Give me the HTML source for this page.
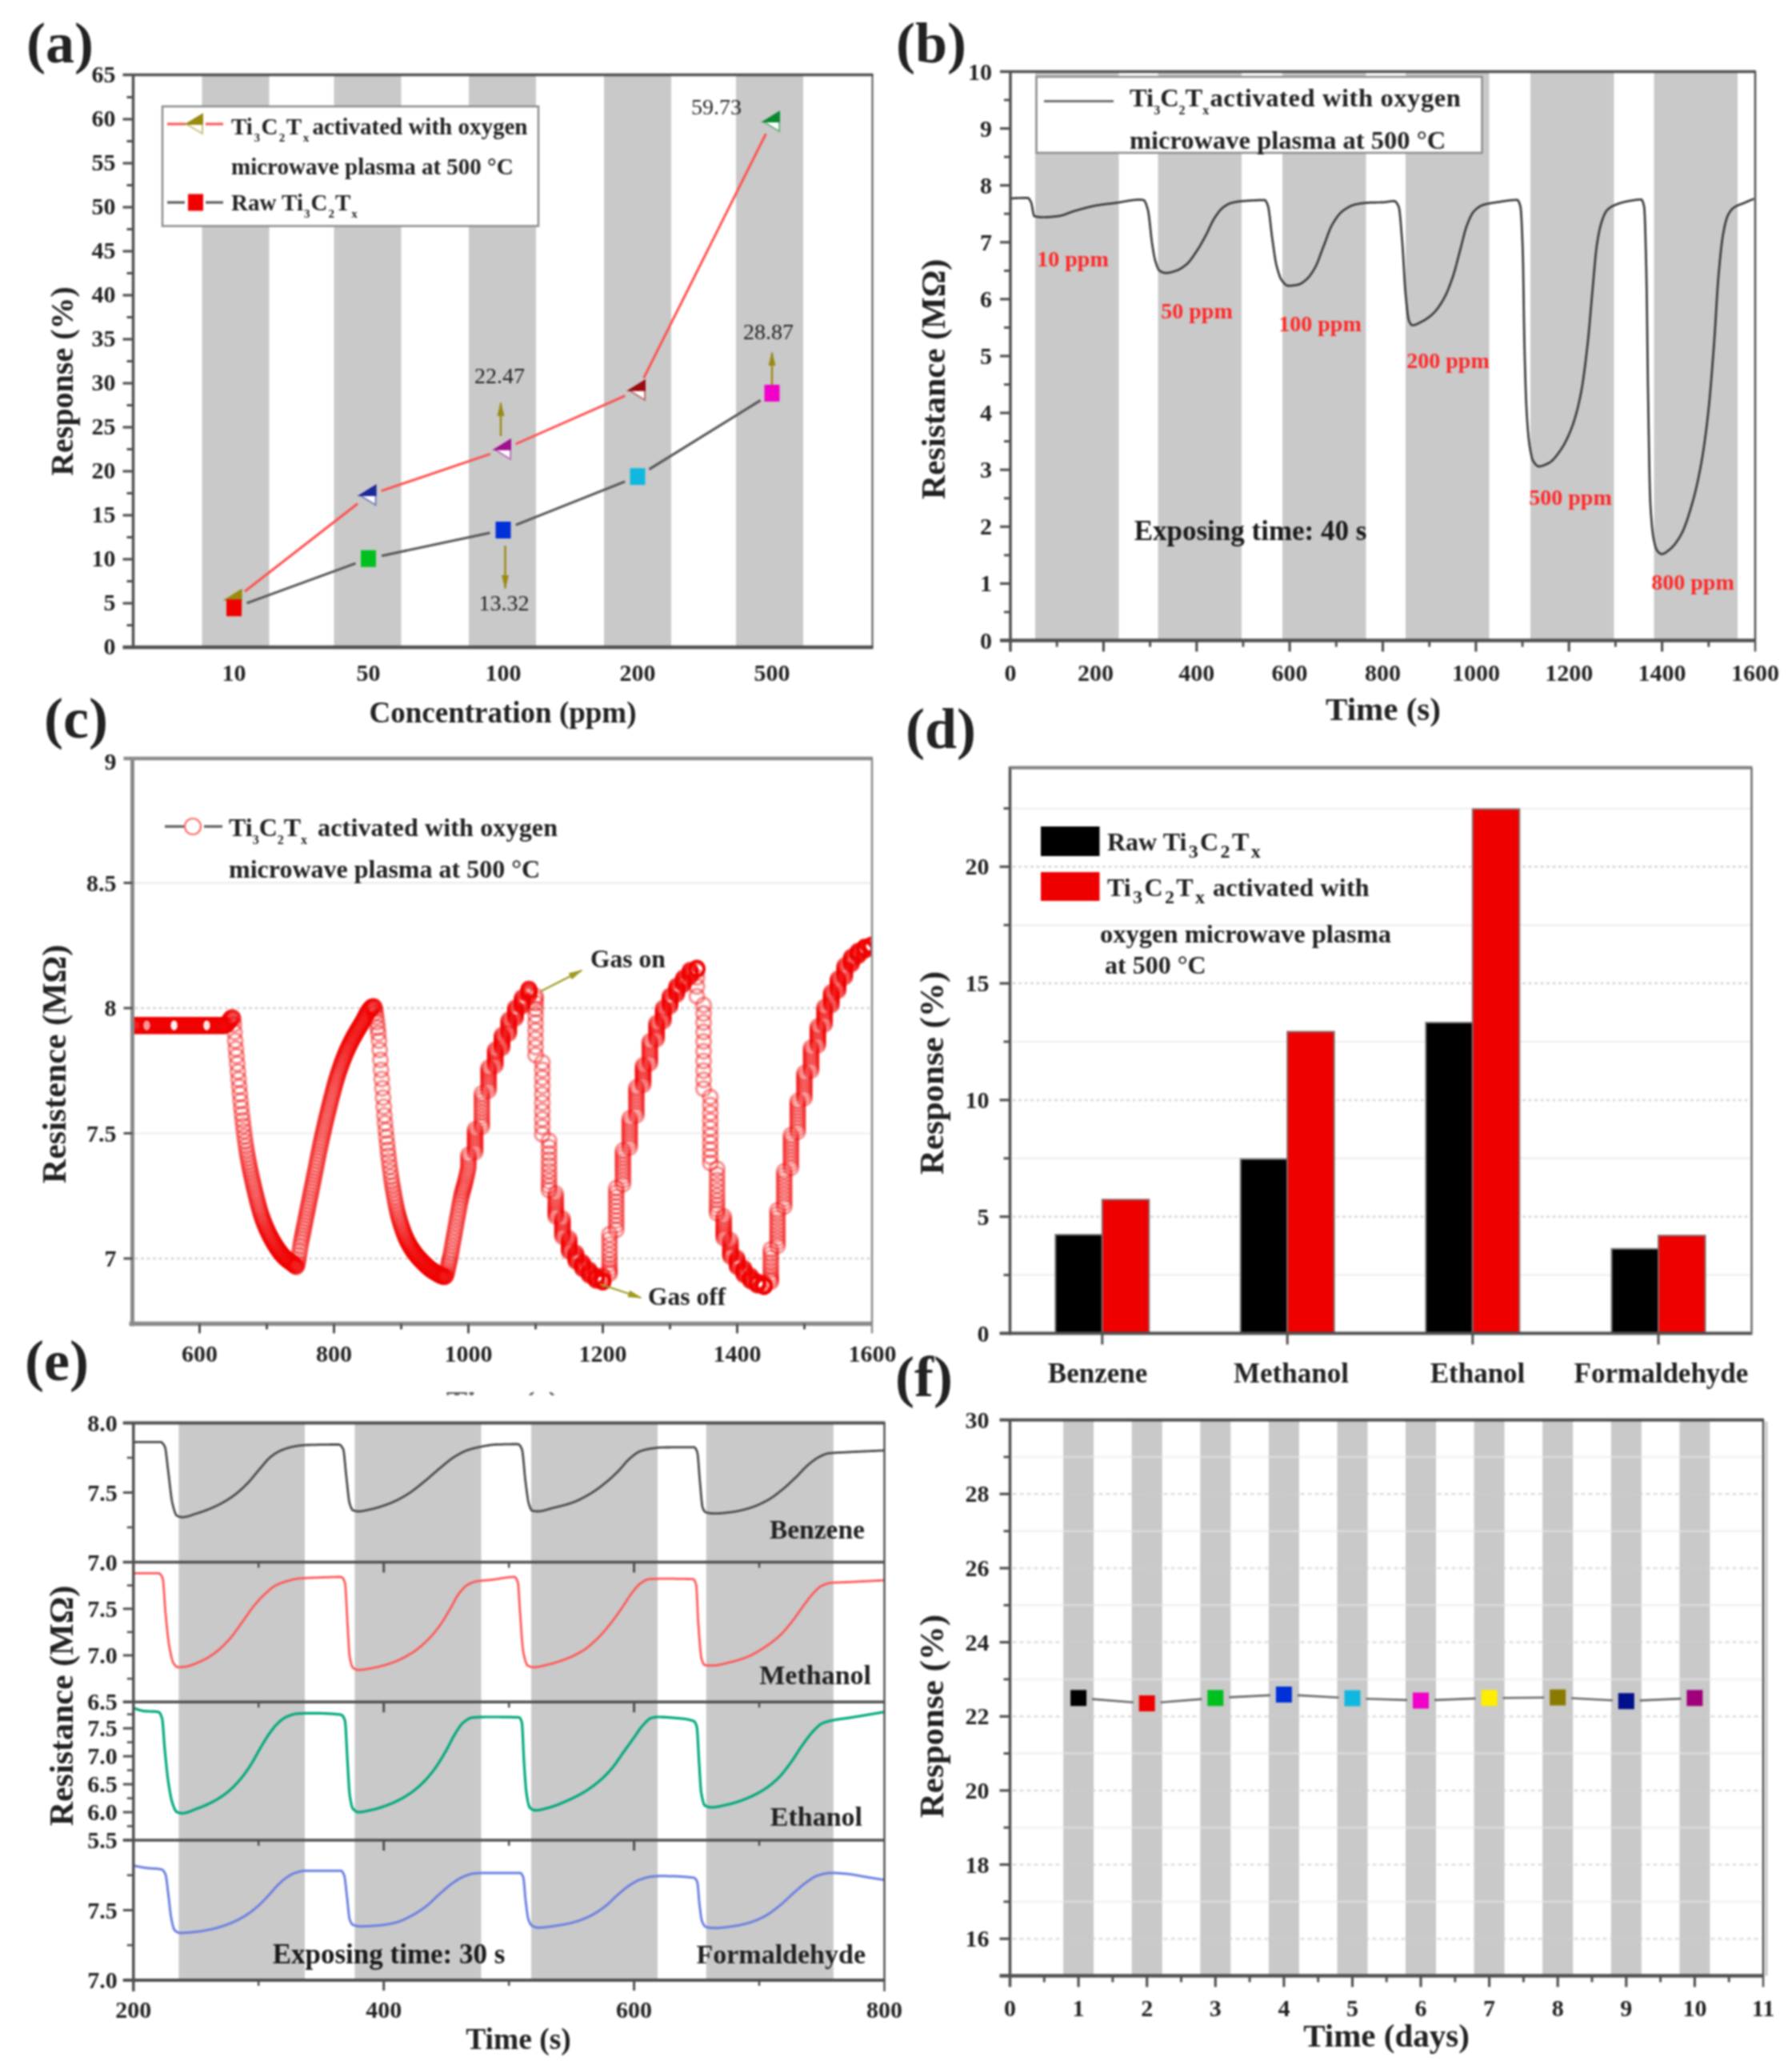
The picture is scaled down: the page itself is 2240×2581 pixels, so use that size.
<!DOCTYPE html>
<html><head><meta charset="utf-8"><title>Figure</title>
<style>
html,body{margin:0;padding:0;background:#fff;}
svg{display:block;font-family:"Liberation Serif",serif;}
</style></head><body>
<svg width="2240" height="2581" viewBox="0 0 2240 2581">
<defs><filter id="soft" x="0" y="0" width="100%" height="100%" filterUnits="userSpaceOnUse" color-interpolation-filters="sRGB"><feGaussianBlur stdDeviation="1.1"/></filter></defs>
<rect width="2240" height="2581" fill="#fff"/>
<g filter="url(#soft)">
<rect width="2240" height="2581" fill="#fff"/>
<rect x="252.5" y="93.5" width="84.0" height="715.5" fill="#c9c9c9"/>
<rect x="417.5" y="93.5" width="84.0" height="715.5" fill="#c9c9c9"/>
<rect x="586.0" y="93.5" width="84.0" height="715.5" fill="#c9c9c9"/>
<rect x="755.0" y="93.5" width="84.0" height="715.5" fill="#c9c9c9"/>
<rect x="920.0" y="93.5" width="84.0" height="715.5" fill="#c9c9c9"/>
<line x1="308.5" y1="753.9" x2="444.5" y2="704.1" stroke="#555" stroke-width="3"/>
<line x1="477.1" y1="694.7" x2="612.4" y2="666.0" stroke="#555" stroke-width="3"/>
<line x1="644.8" y1="656.2" x2="781.2" y2="601.9" stroke="#555" stroke-width="3"/>
<line x1="811.4" y1="586.6" x2="950.6" y2="500.4" stroke="#555" stroke-width="3"/>
<line x1="305.9" y1="739.2" x2="447.1" y2="629.5" stroke="#ff5050" stroke-width="3"/>
<line x1="476.6" y1="613.6" x2="612.9" y2="567.3" stroke="#ff5050" stroke-width="3"/>
<line x1="644.6" y1="555.0" x2="781.4" y2="494.7" stroke="#ff5050" stroke-width="3"/>
<line x1="804.6" y1="472.6" x2="957.4" y2="167.2" stroke="#ff5050" stroke-width="3"/>
<polygon points="282.0,749.6 301.5,737.6 301.5,761.6" fill="#fff" stroke="#9a8a10" stroke-width="2" stroke-opacity="0.55"/>
<polygon points="282.0,749.6 301.5,737.6 301.5,749.6" fill="#9a8a10" stroke="#9a8a10" stroke-width="2"/>
<polygon points="450.0,619.0 469.5,607.0 469.5,631.0" fill="#fff" stroke="#1a2a9a" stroke-width="2" stroke-opacity="0.55"/>
<polygon points="450.0,619.0 469.5,607.0 469.5,619.0" fill="#1a2a9a" stroke="#1a2a9a" stroke-width="2"/>
<polygon points="618.5,561.8 638.0,549.8 638.0,573.8" fill="#fff" stroke="#a01090" stroke-width="2" stroke-opacity="0.55"/>
<polygon points="618.5,561.8 638.0,549.8 638.0,561.8" fill="#a01090" stroke="#a01090" stroke-width="2"/>
<polygon points="786.5,487.8 806.0,475.8 806.0,499.8" fill="#fff" stroke="#9a0a10" stroke-width="2" stroke-opacity="0.55"/>
<polygon points="786.5,487.8 806.0,475.8 806.0,487.8" fill="#9a0a10" stroke="#9a0a10" stroke-width="2"/>
<polygon points="954.5,152.0 974.0,140.0 974.0,164.0" fill="#fff" stroke="#0a8a30" stroke-width="2" stroke-opacity="0.55"/>
<polygon points="954.5,152.0 974.0,140.0 974.0,152.0" fill="#0a8a30" stroke="#0a8a30" stroke-width="2"/>
<rect x="283.0" y="749.2" width="19.0" height="21.0" fill="#f00000"/>
<rect x="451.0" y="687.7" width="19.0" height="21.0" fill="#00c020"/>
<rect x="619.5" y="652.0" width="19.0" height="21.0" fill="#0030d8"/>
<rect x="787.5" y="585.1" width="19.0" height="21.0" fill="#10b8e0"/>
<rect x="955.5" y="480.9" width="19.0" height="21.0" fill="#f000c8"/>
<line x1="626.0" y1="545.0" x2="626.0" y2="504.0" stroke="#9a8a18" stroke-width="2.5"/>
<polygon points="621.5,520.0 630.5,520.0 626.0,502.0" fill="#9a8a18"/>
<line x1="631.5" y1="682.0" x2="631.5" y2="735.0" stroke="#9a8a18" stroke-width="2.5"/>
<polygon points="627.0,719.0 636.0,719.0 631.5,737.0" fill="#9a8a18"/>
<line x1="965.0" y1="481.0" x2="965.0" y2="441.0" stroke="#9a8a18" stroke-width="2.5"/>
<polygon points="960.5,457.0 969.5,457.0 965.0,439.0" fill="#9a8a18"/>
<text x="624.5" y="478.5" font-size="28" text-anchor="middle" font-weight="normal" fill="#222">22.47</text>
<text x="630.0" y="763.0" font-size="28" text-anchor="middle" font-weight="normal" fill="#222">13.32</text>
<text x="895.5" y="142.5" font-size="28" text-anchor="middle" font-weight="normal" fill="#222">59.73</text>
<text x="960.5" y="423.5" font-size="28" text-anchor="middle" font-weight="normal" fill="#222">28.87</text>
<rect x="203.0" y="133.0" width="470.0" height="149.5" fill="#fff" stroke="#8c8c8c" stroke-width="2.5"/>
<line x1="209.0" y1="155.0" x2="232.0" y2="155.0" stroke="#ff5050" stroke-width="3"/>
<line x1="257.0" y1="155.0" x2="279.0" y2="155.0" stroke="#ff5050" stroke-width="3"/>
<polygon points="233,155 253,143 253,167" fill="#fff" stroke="#9a8a10" stroke-width="2" stroke-opacity="0.55"/>
<polygon points="233,155 253,143 253,155" fill="#9a8a10" stroke="#9a8a10" stroke-width="2"/>
<text x="289.0" y="168.0" font-size="29" text-anchor="start" font-weight="bold" fill="#222">Ti<tspan font-size="15" dy="9" dx="1.5">3</tspan><tspan dy="-9" dx="1.5">C</tspan><tspan font-size="15" dy="9" dx="1.5">2</tspan><tspan dy="-9" dx="1.5">T</tspan><tspan font-size="15" dy="9" dx="1.5">x</tspan><tspan dy="-9"> </tspan><tspan dx="-3">activated with oxygen</tspan></text>
<text x="289.0" y="218.0" font-size="29" text-anchor="start" font-weight="bold" fill="#222">microwave plasma at 500 °C</text>
<line x1="209.0" y1="253.0" x2="231.0" y2="253.0" stroke="#555" stroke-width="3"/>
<line x1="257.0" y1="253.0" x2="279.0" y2="253.0" stroke="#555" stroke-width="3"/>
<rect x="235.0" y="242.5" width="19.0" height="21.0" fill="#f00000"/>
<text x="289.0" y="263.0" font-size="29" text-anchor="start" font-weight="bold" fill="#222">Raw Ti<tspan font-size="15" dy="9" dx="1">3</tspan><tspan dy="-9" dx="1">C</tspan><tspan font-size="15" dy="9" dx="1">2</tspan><tspan dy="-9" dx="1">T</tspan><tspan font-size="15" dy="9" dx="1">x</tspan></text>
<line x1="166.5" y1="92.0" x2="166.5" y2="811.0" stroke="#505050" stroke-width="3.5"/>
<line x1="153.5" y1="93.5" x2="1091.5" y2="93.5" stroke="#505050" stroke-width="3.5"/>
<line x1="153.5" y1="809.0" x2="1091.5" y2="809.0" stroke="#505050" stroke-width="4.5"/>
<line x1="1090.5" y1="93.5" x2="1090.5" y2="809.0" stroke="#505050" stroke-width="2"/>
<text x="144.5" y="818.0" font-size="30" text-anchor="end" font-weight="bold" fill="#222">0</text>
<line x1="153.5" y1="754.0" x2="166.5" y2="754.0" stroke="#505050" stroke-width="3.2"/>
<text x="144.5" y="763.0" font-size="30" text-anchor="end" font-weight="bold" fill="#222">5</text>
<line x1="153.5" y1="699.0" x2="166.5" y2="699.0" stroke="#505050" stroke-width="3.2"/>
<text x="144.5" y="708.0" font-size="30" text-anchor="end" font-weight="bold" fill="#222">10</text>
<line x1="153.5" y1="644.0" x2="166.5" y2="644.0" stroke="#505050" stroke-width="3.2"/>
<text x="144.5" y="653.0" font-size="30" text-anchor="end" font-weight="bold" fill="#222">15</text>
<line x1="153.5" y1="589.0" x2="166.5" y2="589.0" stroke="#505050" stroke-width="3.2"/>
<text x="144.5" y="598.0" font-size="30" text-anchor="end" font-weight="bold" fill="#222">20</text>
<line x1="153.5" y1="534.0" x2="166.5" y2="534.0" stroke="#505050" stroke-width="3.2"/>
<text x="144.5" y="543.0" font-size="30" text-anchor="end" font-weight="bold" fill="#222">25</text>
<line x1="153.5" y1="479.0" x2="166.5" y2="479.0" stroke="#505050" stroke-width="3.2"/>
<text x="144.5" y="488.0" font-size="30" text-anchor="end" font-weight="bold" fill="#222">30</text>
<line x1="153.5" y1="424.0" x2="166.5" y2="424.0" stroke="#505050" stroke-width="3.2"/>
<text x="144.5" y="433.0" font-size="30" text-anchor="end" font-weight="bold" fill="#222">35</text>
<line x1="153.5" y1="369.0" x2="166.5" y2="369.0" stroke="#505050" stroke-width="3.2"/>
<text x="144.5" y="378.0" font-size="30" text-anchor="end" font-weight="bold" fill="#222">40</text>
<line x1="153.5" y1="314.0" x2="166.5" y2="314.0" stroke="#505050" stroke-width="3.2"/>
<text x="144.5" y="323.0" font-size="30" text-anchor="end" font-weight="bold" fill="#222">45</text>
<line x1="153.5" y1="259.0" x2="166.5" y2="259.0" stroke="#505050" stroke-width="3.2"/>
<text x="144.5" y="268.0" font-size="30" text-anchor="end" font-weight="bold" fill="#222">50</text>
<line x1="153.5" y1="204.0" x2="166.5" y2="204.0" stroke="#505050" stroke-width="3.2"/>
<text x="144.5" y="213.0" font-size="30" text-anchor="end" font-weight="bold" fill="#222">55</text>
<line x1="153.5" y1="149.0" x2="166.5" y2="149.0" stroke="#505050" stroke-width="3.2"/>
<text x="144.5" y="158.0" font-size="30" text-anchor="end" font-weight="bold" fill="#222">60</text>
<text x="144.5" y="103.0" font-size="30" text-anchor="end" font-weight="bold" fill="#222">65</text>
<line x1="158.5" y1="781.5" x2="166.5" y2="781.5" stroke="#505050" stroke-width="3"/>
<line x1="158.5" y1="726.5" x2="166.5" y2="726.5" stroke="#505050" stroke-width="3"/>
<line x1="158.5" y1="671.5" x2="166.5" y2="671.5" stroke="#505050" stroke-width="3"/>
<line x1="158.5" y1="616.5" x2="166.5" y2="616.5" stroke="#505050" stroke-width="3"/>
<line x1="158.5" y1="561.5" x2="166.5" y2="561.5" stroke="#505050" stroke-width="3"/>
<line x1="158.5" y1="506.5" x2="166.5" y2="506.5" stroke="#505050" stroke-width="3"/>
<line x1="158.5" y1="451.5" x2="166.5" y2="451.5" stroke="#505050" stroke-width="3"/>
<line x1="158.5" y1="396.5" x2="166.5" y2="396.5" stroke="#505050" stroke-width="3"/>
<line x1="158.5" y1="341.5" x2="166.5" y2="341.5" stroke="#505050" stroke-width="3"/>
<line x1="158.5" y1="286.5" x2="166.5" y2="286.5" stroke="#505050" stroke-width="3"/>
<line x1="158.5" y1="231.5" x2="166.5" y2="231.5" stroke="#505050" stroke-width="3"/>
<line x1="158.5" y1="176.5" x2="166.5" y2="176.5" stroke="#505050" stroke-width="3"/>
<line x1="158.5" y1="121.5" x2="166.5" y2="121.5" stroke="#505050" stroke-width="3"/>
<text x="292.5" y="851.0" font-size="30" text-anchor="middle" font-weight="bold" fill="#222">10</text>
<text x="460.5" y="851.0" font-size="30" text-anchor="middle" font-weight="bold" fill="#222">50</text>
<text x="629.0" y="851.0" font-size="30" text-anchor="middle" font-weight="bold" fill="#222">100</text>
<text x="797.0" y="851.0" font-size="30" text-anchor="middle" font-weight="bold" fill="#222">200</text>
<text x="965.0" y="851.0" font-size="30" text-anchor="middle" font-weight="bold" fill="#222">500</text>
<text x="628.5" y="903.0" font-size="37" text-anchor="middle" font-weight="bold" fill="#222">Concentration (ppm)</text>
<text x="91.0" y="476.5" font-size="40" text-anchor="middle" font-weight="bold" fill="#222" transform="rotate(-90 91.0 476.5)">Response (%)</text>
<text x="33.0" y="78.0" font-size="72" text-anchor="start" font-weight="bold" fill="#222">(a)</text>
<rect x="1294.0" y="89.5" width="104.5" height="711.0" fill="#c9c9c9"/>
<rect x="1447.5" y="89.5" width="104.5" height="711.0" fill="#c9c9c9"/>
<rect x="1603.0" y="89.5" width="104.5" height="711.0" fill="#c9c9c9"/>
<rect x="1757.0" y="89.5" width="104.5" height="711.0" fill="#c9c9c9"/>
<rect x="1913.0" y="89.5" width="104.5" height="711.0" fill="#c9c9c9"/>
<rect x="2067.5" y="89.5" width="104.5" height="711.0" fill="#c9c9c9"/>
<rect x="1295.5" y="96.0" width="557.0" height="95.0" fill="#fff" stroke="#8c8c8c" stroke-width="2.5"/>
<line x1="1305.0" y1="126.5" x2="1392.0" y2="126.5" stroke="#555" stroke-width="2.5"/>
<text x="1412.0" y="133.0" font-size="32.5" text-anchor="start" font-weight="bold" fill="#222">Ti<tspan font-size="16" dy="10" dx="0">3</tspan><tspan dy="-10" dx="0">C</tspan><tspan font-size="16" dy="10" dx="0">2</tspan><tspan dy="-10" dx="0">T</tspan><tspan font-size="16" dy="10" dx="0">x</tspan><tspan dy="-10"> </tspan><tspan dx="-7" letter-spacing="0.6">activated with oxygen</tspan></text>
<text x="1412.0" y="186.0" font-size="32.5" text-anchor="start" font-weight="bold" fill="#222">microwave plasma at 500 °C</text>
<polyline points="1262.9,248.2 1263.4,248.1 1263.9,248.1 1264.4,248.0 1264.9,248.0 1265.4,248.0 1265.9,247.9 1266.4,247.9 1266.9,247.8 1267.4,247.8 1267.9,247.8 1268.4,247.7 1268.9,247.7 1269.4,247.7 1269.9,247.7 1270.4,247.6 1270.9,247.6 1271.4,247.6 1271.9,247.6 1272.4,247.5 1272.9,247.5 1273.4,247.5 1273.9,247.5 1274.4,247.5 1274.9,247.5 1275.4,247.5 1275.9,247.5 1276.4,247.4 1276.9,247.4 1277.4,247.4 1277.9,247.4 1278.4,247.4 1278.9,247.4 1279.4,247.4 1279.9,247.4 1280.4,247.4 1280.9,247.4 1281.4,247.4 1281.9,247.4 1282.4,247.4 1282.9,247.4 1283.4,247.4 1283.9,247.4 1284.4,247.4 1284.9,247.4 1285.4,247.6 1285.9,248.0 1286.4,248.5 1286.9,249.2 1287.4,250.1 1287.9,251.0 1288.4,252.0 1288.9,253.0 1289.4,254.7 1289.9,257.0 1290.4,259.8 1290.9,262.7 1291.4,265.5 1291.9,267.8 1292.4,269.5 1292.9,270.2 1293.4,270.3 1293.9,270.5 1294.4,270.6 1294.9,270.7 1295.4,270.8 1295.9,270.9 1296.4,271.0 1296.9,271.0 1297.4,271.1 1297.9,271.2 1298.4,271.2 1298.9,271.3 1299.4,271.3 1299.9,271.4 1300.4,271.4 1300.9,271.4 1301.4,271.5 1301.9,271.5 1302.4,271.5 1302.9,271.5 1303.4,271.5 1303.9,271.5 1304.4,271.5 1304.9,271.5 1305.4,271.5 1305.9,271.5 1306.4,271.5 1306.9,271.4 1307.4,271.4 1307.9,271.4 1308.4,271.4 1308.9,271.4 1309.4,271.3 1309.9,271.3 1310.4,271.3 1310.9,271.3 1311.4,271.2 1311.9,271.2 1312.4,271.2 1312.9,271.1 1313.4,271.1 1313.9,271.0 1314.4,271.0 1314.9,271.0 1315.4,270.9 1315.9,270.9 1316.4,270.8 1316.9,270.8 1317.4,270.7 1317.9,270.7 1318.4,270.6 1318.9,270.6 1319.4,270.5 1319.9,270.5 1320.4,270.4 1320.9,270.4 1321.4,270.3 1321.9,270.2 1322.4,270.2 1322.9,270.1 1323.4,270.1 1323.9,270.0 1324.4,269.9 1324.9,269.8 1325.4,269.7 1325.9,269.6 1326.4,269.4 1326.9,269.3 1327.4,269.2 1327.9,269.0 1328.4,268.9 1328.9,268.7 1329.4,268.6 1329.9,268.4 1330.4,268.2 1330.9,268.1 1331.4,267.9 1331.9,267.7 1332.4,267.5 1332.9,267.4 1333.4,267.2 1333.9,267.0 1334.4,266.8 1334.9,266.6 1335.4,266.4 1335.9,266.2 1336.4,266.0 1336.9,265.8 1337.4,265.7 1337.9,265.5 1338.4,265.3 1338.9,265.1 1339.4,264.9 1339.9,264.7 1340.4,264.6 1340.9,264.4 1341.4,264.2 1341.9,264.1 1342.4,263.9 1342.9,263.8 1343.4,263.6 1343.9,263.5 1344.4,263.3 1344.9,263.2 1345.4,263.1 1345.9,262.9 1346.4,262.8 1346.9,262.6 1347.4,262.5 1347.9,262.3 1348.4,262.2 1348.9,262.1 1349.4,261.9 1349.9,261.8 1350.4,261.6 1350.9,261.5 1351.4,261.4 1351.9,261.2 1352.4,261.1 1352.9,260.9 1353.4,260.8 1353.9,260.7 1354.4,260.5 1354.9,260.4 1355.4,260.3 1355.9,260.1 1356.4,260.0 1356.9,259.9 1357.4,259.7 1357.9,259.6 1358.4,259.5 1358.9,259.3 1359.4,259.2 1359.9,259.1 1360.4,259.0 1360.9,258.8 1361.4,258.7 1361.9,258.6 1362.4,258.5 1362.9,258.4 1363.4,258.2 1363.9,258.1 1364.4,258.0 1364.9,257.9 1365.4,257.8 1365.9,257.7 1366.4,257.6 1366.9,257.5 1367.4,257.4 1367.9,257.3 1368.4,257.2 1368.9,257.1 1369.4,257.0 1369.9,256.9 1370.4,256.8 1370.9,256.7 1371.4,256.6 1371.9,256.6 1372.4,256.5 1372.9,256.4 1373.4,256.3 1373.9,256.3 1374.4,256.2 1374.9,256.1 1375.4,256.0 1375.9,256.0 1376.4,255.9 1376.9,255.8 1377.4,255.7 1377.9,255.7 1378.4,255.6 1378.9,255.5 1379.4,255.5 1379.9,255.4 1380.4,255.4 1380.9,255.3 1381.4,255.2 1381.9,255.2 1382.4,255.1 1382.9,255.0 1383.4,255.0 1383.9,254.9 1384.4,254.9 1384.9,254.8 1385.4,254.7 1385.9,254.7 1386.4,254.6 1386.9,254.6 1387.4,254.5 1387.9,254.5 1388.4,254.4 1388.9,254.3 1389.4,254.3 1389.9,254.2 1390.4,254.1 1390.9,254.1 1391.4,254.0 1391.9,254.0 1392.4,253.9 1392.9,253.8 1393.4,253.8 1393.9,253.7 1394.4,253.6 1394.9,253.6 1395.4,253.5 1395.9,253.4 1396.4,253.4 1396.9,253.3 1397.4,253.2 1397.9,253.1 1398.4,253.0 1398.9,253.0 1399.4,252.9 1399.9,252.8 1400.4,252.7 1400.9,252.6 1401.4,252.5 1401.9,252.4 1402.4,252.4 1402.9,252.3 1403.4,252.2 1403.9,252.1 1404.4,252.0 1404.9,251.9 1405.4,251.8 1405.9,251.7 1406.4,251.6 1406.9,251.5 1407.4,251.5 1407.9,251.4 1408.4,251.3 1408.9,251.2 1409.4,251.1 1409.9,251.0 1410.4,250.9 1410.9,250.9 1411.4,250.8 1411.9,250.7 1412.4,250.6 1412.9,250.5 1413.4,250.5 1413.9,250.4 1414.4,250.3 1414.9,250.3 1415.4,250.2 1415.9,250.1 1416.4,250.1 1416.9,250.0 1417.4,250.0 1417.9,249.9 1418.4,249.9 1418.9,249.8 1419.4,249.8 1419.9,249.8 1420.4,249.7 1420.9,249.7 1421.4,249.7 1421.9,249.6 1422.4,249.6 1422.9,249.6 1423.4,249.6 1423.9,249.6 1424.4,249.6 1424.9,249.6 1425.4,249.6 1425.9,249.7 1426.4,249.7 1426.9,249.7 1427.4,249.8 1427.9,249.9 1428.4,249.9 1428.9,250.0 1429.4,250.1 1429.9,250.3 1430.4,250.7 1430.9,251.3 1431.4,252.2 1431.9,253.3 1432.4,254.5 1432.9,255.9 1433.4,257.4 1433.9,259.0 1434.4,260.7 1434.9,262.5 1435.4,264.9 1435.9,268.0 1436.4,271.8 1436.9,276.1 1437.4,280.7 1437.9,285.5 1438.4,290.2 1438.9,294.8 1439.4,299.1 1439.9,303.0 1440.4,306.3 1440.9,309.4 1441.4,312.5 1441.9,315.5 1442.4,318.4 1442.9,321.0 1443.4,323.3 1443.9,325.4 1444.4,327.0 1444.9,328.6 1445.4,330.1 1445.9,331.6 1446.4,333.0 1446.9,334.2 1447.4,335.3 1447.9,336.3 1448.4,337.2 1448.9,337.9 1449.4,338.4 1449.9,338.7 1450.4,339.0 1450.9,339.3 1451.4,339.5 1451.9,339.8 1452.4,340.0 1452.9,340.2 1453.4,340.4 1453.9,340.6 1454.4,340.7 1454.9,340.9 1455.4,341.0 1455.9,341.1 1456.4,341.1 1456.9,341.2 1457.4,341.2 1457.9,341.2 1458.4,341.2 1458.9,341.2 1459.4,341.1 1459.9,341.1 1460.4,341.0 1460.9,340.9 1461.4,340.8 1461.9,340.7 1462.4,340.6 1462.9,340.5 1463.4,340.4 1463.9,340.3 1464.4,340.1 1464.9,340.0 1465.4,339.9 1465.9,339.7 1466.4,339.6 1466.9,339.4 1467.4,339.2 1467.9,339.1 1468.4,338.9 1468.9,338.8 1469.4,338.6 1469.9,338.4 1470.4,338.3 1470.9,338.1 1471.4,337.9 1471.9,337.7 1472.4,337.5 1472.9,337.2 1473.4,337.0 1473.9,336.7 1474.4,336.5 1474.9,336.2 1475.4,335.9 1475.9,335.6 1476.4,335.3 1476.9,335.0 1477.4,334.7 1477.9,334.3 1478.4,334.0 1478.9,333.6 1479.4,333.3 1479.9,332.9 1480.4,332.6 1480.9,332.2 1481.4,331.8 1481.9,331.4 1482.4,331.0 1482.9,330.6 1483.4,330.2 1483.9,329.7 1484.4,329.2 1484.9,328.7 1485.4,328.2 1485.9,327.7 1486.4,327.1 1486.9,326.5 1487.4,325.9 1487.9,325.3 1488.4,324.6 1488.9,324.0 1489.4,323.3 1489.9,322.6 1490.4,321.9 1490.9,321.2 1491.4,320.5 1491.9,319.7 1492.4,319.0 1492.9,318.3 1493.4,317.5 1493.9,316.8 1494.4,316.0 1494.9,315.3 1495.4,314.5 1495.9,313.7 1496.4,313.0 1496.9,312.2 1497.4,311.5 1497.9,310.7 1498.4,309.9 1498.9,309.1 1499.4,308.2 1499.9,307.4 1500.4,306.6 1500.9,305.7 1501.4,304.8 1501.9,304.0 1502.4,303.1 1502.9,302.2 1503.4,301.3 1503.9,300.4 1504.4,299.5 1504.9,298.6 1505.4,297.6 1505.9,296.7 1506.4,295.8 1506.9,294.9 1507.4,293.9 1507.9,293.0 1508.4,292.0 1508.9,291.0 1509.4,289.9 1509.9,288.9 1510.4,287.8 1510.9,286.7 1511.4,285.7 1511.9,284.6 1512.4,283.5 1512.9,282.4 1513.4,281.4 1513.9,280.3 1514.4,279.3 1514.9,278.3 1515.4,277.3 1515.9,276.3 1516.4,275.4 1516.9,274.5 1517.4,273.7 1517.9,272.9 1518.4,272.1 1518.9,271.4 1519.4,270.6 1519.9,269.9 1520.4,269.1 1520.9,268.4 1521.4,267.7 1521.9,267.0 1522.4,266.3 1522.9,265.6 1523.4,265.0 1523.9,264.3 1524.4,263.7 1524.9,263.1 1525.4,262.5 1525.9,262.0 1526.4,261.5 1526.9,261.0 1527.4,260.5 1527.9,260.1 1528.4,259.7 1528.9,259.3 1529.4,258.9 1529.9,258.5 1530.4,258.2 1530.9,257.8 1531.4,257.5 1531.9,257.1 1532.4,256.8 1532.9,256.5 1533.4,256.2 1533.9,255.9 1534.4,255.6 1534.9,255.4 1535.4,255.1 1535.9,254.9 1536.4,254.6 1536.9,254.4 1537.4,254.2 1537.9,254.0 1538.4,253.9 1538.9,253.7 1539.4,253.6 1539.9,253.4 1540.4,253.3 1540.9,253.2 1541.4,253.1 1541.9,253.0 1542.4,252.9 1542.9,252.8 1543.4,252.7 1543.9,252.6 1544.4,252.5 1544.9,252.4 1545.4,252.3 1545.9,252.2 1546.4,252.1 1546.9,252.1 1547.4,252.0 1547.9,251.9 1548.4,251.8 1548.9,251.8 1549.4,251.7 1549.9,251.7 1550.4,251.6 1550.9,251.6 1551.4,251.5 1551.9,251.5 1552.4,251.4 1552.9,251.4 1553.4,251.3 1553.9,251.3 1554.4,251.3 1554.9,251.2 1555.4,251.2 1555.9,251.2 1556.4,251.1 1556.9,251.1 1557.4,251.1 1557.9,251.0 1558.4,251.0 1558.9,250.9 1559.4,250.9 1559.9,250.9 1560.4,250.8 1560.9,250.8 1561.4,250.8 1561.9,250.8 1562.4,250.7 1562.9,250.7 1563.4,250.7 1563.9,250.6 1564.4,250.6 1564.9,250.6 1565.4,250.5 1565.9,250.5 1566.4,250.5 1566.9,250.5 1567.4,250.4 1567.9,250.4 1568.4,250.4 1568.9,250.4 1569.4,250.4 1569.9,250.3 1570.4,250.3 1570.9,250.3 1571.4,250.3 1571.9,250.3 1572.4,250.2 1572.9,250.2 1573.4,250.2 1573.9,250.2 1574.4,250.2 1574.9,250.2 1575.4,250.2 1575.9,250.2 1576.4,250.1 1576.9,250.1 1577.4,250.1 1577.9,250.1 1578.4,250.1 1578.9,250.1 1579.4,250.1 1579.9,250.1 1580.4,250.1 1580.9,250.1 1581.4,250.3 1581.9,250.8 1582.4,251.4 1582.9,252.3 1583.4,253.3 1583.9,254.5 1584.4,255.8 1584.9,257.1 1585.4,259.0 1585.9,261.7 1586.4,265.1 1586.9,268.9 1587.4,273.2 1587.9,277.6 1588.4,282.1 1588.9,286.6 1589.4,290.9 1589.9,294.8 1590.4,298.4 1590.9,302.0 1591.4,305.6 1591.9,309.2 1592.4,312.9 1592.9,316.4 1593.4,319.8 1593.9,323.0 1594.4,326.0 1594.9,328.6 1595.4,331.0 1595.9,333.0 1596.4,334.9 1596.9,336.7 1597.4,338.5 1597.9,340.1 1598.4,341.7 1598.9,343.2 1599.4,344.6 1599.9,345.9 1600.4,347.1 1600.9,348.2 1601.4,349.1 1601.9,349.9 1602.4,350.6 1602.9,351.3 1603.4,351.9 1603.9,352.5 1604.4,353.1 1604.9,353.7 1605.4,354.3 1605.9,354.8 1606.4,355.3 1606.9,355.7 1607.4,356.1 1607.9,356.4 1608.4,356.7 1608.9,356.9 1609.4,357.1 1609.9,357.2 1610.4,357.2 1610.9,357.2 1611.4,357.2 1611.9,357.2 1612.4,357.2 1612.9,357.1 1613.4,357.1 1613.9,357.1 1614.4,357.0 1614.9,357.0 1615.4,356.9 1615.9,356.9 1616.4,356.8 1616.9,356.8 1617.4,356.7 1617.9,356.6 1618.4,356.6 1618.9,356.5 1619.4,356.4 1619.9,356.3 1620.4,356.2 1620.9,356.2 1621.4,356.1 1621.9,356.0 1622.4,355.9 1622.9,355.8 1623.4,355.6 1623.9,355.5 1624.4,355.3 1624.9,355.0 1625.4,354.8 1625.9,354.5 1626.4,354.3 1626.9,354.0 1627.4,353.7 1627.9,353.3 1628.4,353.0 1628.9,352.6 1629.4,352.2 1629.9,351.8 1630.4,351.5 1630.9,351.0 1631.4,350.6 1631.9,350.2 1632.4,349.8 1632.9,349.4 1633.4,348.9 1633.9,348.5 1634.4,348.0 1634.9,347.5 1635.4,346.9 1635.9,346.4 1636.4,345.8 1636.9,345.1 1637.4,344.5 1637.9,343.8 1638.4,343.1 1638.9,342.4 1639.4,341.7 1639.9,341.0 1640.4,340.2 1640.9,339.4 1641.4,338.6 1641.9,337.8 1642.4,336.9 1642.9,336.1 1643.4,335.2 1643.9,334.3 1644.4,333.4 1644.9,332.4 1645.4,331.3 1645.9,330.2 1646.4,329.1 1646.9,327.9 1647.4,326.6 1647.9,325.4 1648.4,324.1 1648.9,322.7 1649.4,321.4 1649.9,320.0 1650.4,318.7 1650.9,317.3 1651.4,315.9 1651.9,314.6 1652.4,313.2 1652.9,311.9 1653.4,310.5 1653.9,309.2 1654.4,308.0 1654.9,306.7 1655.4,305.4 1655.9,304.1 1656.4,302.7 1656.9,301.4 1657.4,300.0 1657.9,298.6 1658.4,297.2 1658.9,295.9 1659.4,294.5 1659.9,293.1 1660.4,291.8 1660.9,290.5 1661.4,289.2 1661.9,287.9 1662.4,286.7 1662.9,285.6 1663.4,284.4 1663.9,283.4 1664.4,282.4 1664.9,281.4 1665.4,280.6 1665.9,279.7 1666.4,278.9 1666.9,278.0 1667.4,277.2 1667.9,276.4 1668.4,275.6 1668.9,274.8 1669.4,274.1 1669.9,273.3 1670.4,272.6 1670.9,271.9 1671.4,271.2 1671.9,270.5 1672.4,269.9 1672.9,269.2 1673.4,268.6 1673.9,268.0 1674.4,267.4 1674.9,266.9 1675.4,266.4 1675.9,265.8 1676.4,265.4 1676.9,264.9 1677.4,264.5 1677.9,264.0 1678.4,263.6 1678.9,263.3 1679.4,262.9 1679.9,262.6 1680.4,262.2 1680.9,261.9 1681.4,261.5 1681.9,261.2 1682.4,260.9 1682.9,260.6 1683.4,260.2 1683.9,259.9 1684.4,259.6 1684.9,259.3 1685.4,259.1 1685.9,258.8 1686.4,258.5 1686.9,258.3 1687.4,258.0 1687.9,257.8 1688.4,257.5 1688.9,257.3 1689.4,257.1 1689.9,256.9 1690.4,256.7 1690.9,256.5 1691.4,256.3 1691.9,256.2 1692.4,256.0 1692.9,255.8 1693.4,255.7 1693.9,255.6 1694.4,255.5 1694.9,255.4 1695.4,255.3 1695.9,255.2 1696.4,255.1 1696.9,255.0 1697.4,254.9 1697.9,254.8 1698.4,254.7 1698.9,254.6 1699.4,254.5 1699.9,254.4 1700.4,254.4 1700.9,254.3 1701.4,254.2 1701.9,254.1 1702.4,254.1 1702.9,254.0 1703.4,253.9 1703.9,253.9 1704.4,253.8 1704.9,253.8 1705.4,253.7 1705.9,253.6 1706.4,253.6 1706.9,253.6 1707.4,253.5 1707.9,253.5 1708.4,253.4 1708.9,253.4 1709.4,253.4 1709.9,253.3 1710.4,253.3 1710.9,253.3 1711.4,253.3 1711.9,253.2 1712.4,253.2 1712.9,253.2 1713.4,253.2 1713.9,253.2 1714.4,253.2 1714.9,253.2 1715.4,253.1 1715.9,253.1 1716.4,253.1 1716.9,253.1 1717.4,253.1 1717.9,253.1 1718.4,253.1 1718.9,253.1 1719.4,253.1 1719.9,253.1 1720.4,253.0 1720.9,253.0 1721.4,253.0 1721.9,253.0 1722.4,253.0 1722.9,253.0 1723.4,253.0 1723.9,253.0 1724.4,253.0 1724.9,253.0 1725.4,252.9 1725.9,252.9 1726.4,252.9 1726.9,252.9 1727.4,252.9 1727.9,252.9 1728.4,252.8 1728.9,252.8 1729.4,252.8 1729.9,252.8 1730.4,252.7 1730.9,252.7 1731.4,252.7 1731.9,252.6 1732.4,252.5 1732.9,252.5 1733.4,252.4 1733.9,252.3 1734.4,252.2 1734.9,252.2 1735.4,252.1 1735.9,252.0 1736.4,251.9 1736.9,251.9 1737.4,251.8 1737.9,251.7 1738.4,251.6 1738.9,251.6 1739.4,251.5 1739.9,251.5 1740.4,251.4 1740.9,251.4 1741.4,251.3 1741.9,251.3 1742.4,251.3 1742.9,251.3 1743.4,251.4 1743.9,251.7 1744.4,252.0 1744.9,252.5 1745.4,253.1 1745.9,253.7 1746.4,254.5 1746.9,255.4 1747.4,256.3 1747.9,257.4 1748.4,258.5 1748.9,260.4 1749.4,263.5 1749.9,267.8 1750.4,272.9 1750.9,278.6 1751.4,284.7 1751.9,291.1 1752.4,297.4 1752.9,303.6 1753.4,310.8 1753.9,318.9 1754.4,327.6 1754.9,336.4 1755.4,345.1 1755.9,353.3 1756.4,360.6 1756.9,366.6 1757.4,371.9 1757.9,377.1 1758.4,382.1 1758.9,386.8 1759.4,391.1 1759.9,394.8 1760.4,397.8 1760.9,399.9 1761.4,401.2 1761.9,402.3 1762.4,403.3 1762.9,404.2 1763.4,404.9 1763.9,405.6 1764.4,406.0 1764.9,406.4 1765.4,406.5 1765.9,406.5 1766.4,406.5 1766.9,406.4 1767.4,406.3 1767.9,406.2 1768.4,406.1 1768.9,405.9 1769.4,405.7 1769.9,405.6 1770.4,405.4 1770.9,405.1 1771.4,404.9 1771.9,404.7 1772.4,404.4 1772.9,404.2 1773.4,403.9 1773.9,403.7 1774.4,403.4 1774.9,403.2 1775.4,402.9 1775.9,402.6 1776.4,402.4 1776.9,402.2 1777.4,401.9 1777.9,401.6 1778.4,401.4 1778.9,401.1 1779.4,400.8 1779.9,400.6 1780.4,400.3 1780.9,400.0 1781.4,399.7 1781.9,399.4 1782.4,399.0 1782.9,398.7 1783.4,398.4 1783.9,398.0 1784.4,397.7 1784.9,397.3 1785.4,397.0 1785.9,396.6 1786.4,396.2 1786.9,395.8 1787.4,395.4 1787.9,395.0 1788.4,394.6 1788.9,394.2 1789.4,393.7 1789.9,393.3 1790.4,392.8 1790.9,392.4 1791.4,391.9 1791.9,391.4 1792.4,390.9 1792.9,390.4 1793.4,389.9 1793.9,389.3 1794.4,388.7 1794.9,388.1 1795.4,387.5 1795.9,386.9 1796.4,386.3 1796.9,385.6 1797.4,384.9 1797.9,384.2 1798.4,383.5 1798.9,382.8 1799.4,382.1 1799.9,381.3 1800.4,380.6 1800.9,379.8 1801.4,379.0 1801.9,378.2 1802.4,377.3 1802.9,376.5 1803.4,375.7 1803.9,374.8 1804.4,373.9 1804.9,373.0 1805.4,372.1 1805.9,371.2 1806.4,370.2 1806.9,369.2 1807.4,368.2 1807.9,367.1 1808.4,366.0 1808.9,364.8 1809.4,363.7 1809.9,362.5 1810.4,361.3 1810.9,360.0 1811.4,358.7 1811.9,357.4 1812.4,356.1 1812.9,354.7 1813.4,353.4 1813.9,352.0 1814.4,350.5 1814.9,349.1 1815.4,347.7 1815.9,346.2 1816.4,344.7 1816.9,343.2 1817.4,341.6 1817.9,340.0 1818.4,338.3 1818.9,336.5 1819.4,334.7 1819.9,332.8 1820.4,331.0 1820.9,329.0 1821.4,327.1 1821.9,325.2 1822.4,323.2 1822.9,321.3 1823.4,319.3 1823.9,317.4 1824.4,315.5 1824.9,313.6 1825.4,311.8 1825.9,309.9 1826.4,308.0 1826.9,306.0 1827.4,304.0 1827.9,302.0 1828.4,300.0 1828.9,298.0 1829.4,296.1 1829.9,294.1 1830.4,292.2 1830.9,290.4 1831.4,288.6 1831.9,286.9 1832.4,285.3 1832.9,283.7 1833.4,282.3 1833.9,280.9 1834.4,279.7 1834.9,278.4 1835.4,277.2 1835.9,275.9 1836.4,274.8 1836.9,273.6 1837.4,272.5 1837.9,271.4 1838.4,270.4 1838.9,269.4 1839.4,268.4 1839.9,267.6 1840.4,266.7 1840.9,266.0 1841.4,265.3 1841.9,264.6 1842.4,264.1 1842.9,263.6 1843.4,263.1 1843.9,262.6 1844.4,262.1 1844.9,261.6 1845.4,261.2 1845.9,260.8 1846.4,260.4 1846.9,260.0 1847.4,259.6 1847.9,259.2 1848.4,258.9 1848.9,258.5 1849.4,258.2 1849.9,257.9 1850.4,257.6 1850.9,257.4 1851.4,257.1 1851.9,256.9 1852.4,256.7 1852.9,256.5 1853.4,256.3 1853.9,256.1 1854.4,256.0 1854.9,255.8 1855.4,255.7 1855.9,255.5 1856.4,255.4 1856.9,255.3 1857.4,255.2 1857.9,255.0 1858.4,254.9 1858.9,254.8 1859.4,254.7 1859.9,254.6 1860.4,254.5 1860.9,254.4 1861.4,254.3 1861.9,254.2 1862.4,254.1 1862.9,254.0 1863.4,253.9 1863.9,253.8 1864.4,253.8 1864.9,253.7 1865.4,253.6 1865.9,253.5 1866.4,253.4 1866.9,253.4 1867.4,253.3 1867.9,253.2 1868.4,253.1 1868.9,253.1 1869.4,253.0 1869.9,252.9 1870.4,252.9 1870.9,252.8 1871.4,252.7 1871.9,252.6 1872.4,252.6 1872.9,252.5 1873.4,252.4 1873.9,252.3 1874.4,252.3 1874.9,252.2 1875.4,252.1 1875.9,252.0 1876.4,251.9 1876.9,251.9 1877.4,251.8 1877.9,251.7 1878.4,251.6 1878.9,251.6 1879.4,251.5 1879.9,251.4 1880.4,251.3 1880.9,251.3 1881.4,251.2 1881.9,251.1 1882.4,251.0 1882.9,251.0 1883.4,250.9 1883.9,250.8 1884.4,250.8 1884.9,250.7 1885.4,250.6 1885.9,250.6 1886.4,250.5 1886.9,250.5 1887.4,250.4 1887.9,250.4 1888.4,250.3 1888.9,250.3 1889.4,250.2 1889.9,250.2 1890.4,250.1 1890.9,250.1 1891.4,250.1 1891.9,250.0 1892.4,250.0 1892.9,250.0 1893.4,250.0 1893.9,249.9 1894.4,249.9 1894.9,249.9 1895.4,249.9 1895.9,249.9 1896.4,249.9 1896.9,250.0 1897.4,250.4 1897.9,251.1 1898.4,251.9 1898.9,253.1 1899.4,254.4 1899.9,256.0 1900.4,257.7 1900.9,260.3 1901.4,265.9 1901.9,274.4 1902.4,285.3 1902.9,298.1 1903.4,312.4 1903.9,332.3 1904.4,363.0 1904.9,396.5 1905.4,424.9 1905.9,445.0 1906.4,463.4 1906.9,480.1 1907.4,494.6 1907.9,506.8 1908.4,516.3 1908.9,524.3 1909.4,531.5 1909.9,538.0 1910.4,543.7 1910.9,548.7 1911.4,553.0 1911.9,556.7 1912.4,559.8 1912.9,562.7 1913.4,565.4 1913.9,567.9 1914.4,570.1 1914.9,572.1 1915.4,573.7 1915.9,575.0 1916.4,576.0 1916.9,576.8 1917.4,577.6 1917.9,578.4 1918.4,579.1 1918.9,579.7 1919.4,580.4 1919.9,580.9 1920.4,581.4 1920.9,581.9 1921.4,582.2 1921.9,582.5 1922.4,582.7 1922.9,582.9 1923.4,582.9 1923.9,582.9 1924.4,582.9 1924.9,582.8 1925.4,582.8 1925.9,582.7 1926.4,582.6 1926.9,582.5 1927.4,582.3 1927.9,582.2 1928.4,582.1 1928.9,581.9 1929.4,581.7 1929.9,581.5 1930.4,581.3 1930.9,581.1 1931.4,580.9 1931.9,580.7 1932.4,580.5 1932.9,580.2 1933.4,580.0 1933.9,579.8 1934.4,579.5 1934.9,579.3 1935.4,579.0 1935.9,578.8 1936.4,578.5 1936.9,578.2 1937.4,577.9 1937.9,577.6 1938.4,577.2 1938.9,576.8 1939.4,576.4 1939.9,576.0 1940.4,575.5 1940.9,575.0 1941.4,574.5 1941.9,574.0 1942.4,573.4 1942.9,572.9 1943.4,572.3 1943.9,571.7 1944.4,571.1 1944.9,570.5 1945.4,569.8 1945.9,569.2 1946.4,568.5 1946.9,567.9 1947.4,567.2 1947.9,566.5 1948.4,565.8 1948.9,565.1 1949.4,564.4 1949.9,563.7 1950.4,563.0 1950.9,562.3 1951.4,561.5 1951.9,560.8 1952.4,560.0 1952.9,559.2 1953.4,558.4 1953.9,557.6 1954.4,556.7 1954.9,555.9 1955.4,555.0 1955.9,554.1 1956.4,553.1 1956.9,552.2 1957.4,551.2 1957.9,550.2 1958.4,549.2 1958.9,548.2 1959.4,547.1 1959.9,546.0 1960.4,544.9 1960.9,543.8 1961.4,542.7 1961.9,541.5 1962.4,540.3 1962.9,539.1 1963.4,537.8 1963.9,536.6 1964.4,535.3 1964.9,534.0 1965.4,532.6 1965.9,531.2 1966.4,529.8 1966.9,528.3 1967.4,526.8 1967.9,525.2 1968.4,523.6 1968.9,521.9 1969.4,520.2 1969.9,518.4 1970.4,516.6 1970.9,514.7 1971.4,512.8 1971.9,510.8 1972.4,508.8 1972.9,506.7 1973.4,504.5 1973.9,502.3 1974.4,500.0 1974.9,497.7 1975.4,495.3 1975.9,492.8 1976.4,490.3 1976.9,487.5 1977.4,484.7 1977.9,481.6 1978.4,478.4 1978.9,475.1 1979.4,471.6 1979.9,468.0 1980.4,464.3 1980.9,460.4 1981.4,456.5 1981.9,452.4 1982.4,448.3 1982.9,444.1 1983.4,439.8 1983.9,435.4 1984.4,431.0 1984.9,426.5 1985.4,421.6 1985.9,416.5 1986.4,411.1 1986.9,405.5 1987.4,399.8 1987.9,394.0 1988.4,388.1 1988.9,382.3 1989.4,376.6 1989.9,371.0 1990.4,365.5 1990.9,360.0 1991.4,354.2 1991.9,348.4 1992.4,342.5 1992.9,336.7 1993.4,331.1 1993.9,325.6 1994.4,320.4 1994.9,315.6 1995.4,311.3 1995.9,307.5 1996.4,304.1 1996.9,301.0 1997.4,297.9 1997.9,295.0 1998.4,292.3 1998.9,289.8 1999.4,287.3 1999.9,285.1 2000.4,283.0 2000.9,281.1 2001.4,279.4 2001.9,277.8 2002.4,276.3 2002.9,274.8 2003.4,273.4 2003.9,272.0 2004.4,270.8 2004.9,269.5 2005.4,268.4 2005.9,267.3 2006.4,266.3 2006.9,265.4 2007.4,264.5 2007.9,263.8 2008.4,263.1 2008.9,262.6 2009.4,262.1 2009.9,261.6 2010.4,261.2 2010.9,260.7 2011.4,260.3 2011.9,260.0 2012.4,259.6 2012.9,259.2 2013.4,258.9 2013.9,258.6 2014.4,258.3 2014.9,258.0 2015.4,257.8 2015.9,257.5 2016.4,257.3 2016.9,257.0 2017.4,256.8 2017.9,256.6 2018.4,256.4 2018.9,256.2 2019.4,256.0 2019.9,255.8 2020.4,255.6 2020.9,255.4 2021.4,255.2 2021.9,255.0 2022.4,254.8 2022.9,254.6 2023.4,254.5 2023.9,254.3 2024.4,254.1 2024.9,254.0 2025.4,253.8 2025.9,253.6 2026.4,253.5 2026.9,253.3 2027.4,253.2 2027.9,253.1 2028.4,252.9 2028.9,252.8 2029.4,252.7 2029.9,252.5 2030.4,252.4 2030.9,252.3 2031.4,252.2 2031.9,252.1 2032.4,252.0 2032.9,251.8 2033.4,251.7 2033.9,251.6 2034.4,251.6 2034.9,251.5 2035.4,251.4 2035.9,251.3 2036.4,251.2 2036.9,251.1 2037.4,251.0 2037.9,250.9 2038.4,250.9 2038.9,250.8 2039.4,250.7 2039.9,250.6 2040.4,250.5 2040.9,250.4 2041.4,250.4 2041.9,250.3 2042.4,250.2 2042.9,250.1 2043.4,250.1 2043.9,250.0 2044.4,249.9 2044.9,249.9 2045.4,249.8 2045.9,249.7 2046.4,249.7 2046.9,249.6 2047.4,249.6 2047.9,249.5 2048.4,249.5 2048.9,249.5 2049.4,249.5 2049.9,249.4 2050.4,249.4 2050.9,249.4 2051.4,249.4 2051.9,249.5 2052.4,250.0 2052.9,250.8 2053.4,251.9 2053.9,253.3 2054.4,255.1 2054.9,257.1 2055.4,260.0 2055.9,268.0 2056.4,281.1 2056.9,298.2 2057.4,318.0 2057.9,339.4 2058.4,366.0 2058.9,403.1 2059.4,443.6 2059.9,480.0 2060.4,510.1 2060.9,540.3 2061.4,569.1 2061.9,594.6 2062.4,615.0 2062.9,628.4 2063.4,637.1 2063.9,644.7 2064.4,651.4 2064.9,657.2 2065.4,662.2 2065.9,666.4 2066.4,670.0 2066.9,672.9 2067.4,675.5 2067.9,677.8 2068.4,680.0 2068.9,681.9 2069.4,683.6 2069.9,685.1 2070.4,686.4 2070.9,687.4 2071.4,688.2 2071.9,688.8 2072.4,689.4 2072.9,690.0 2073.4,690.5 2073.9,691.0 2074.4,691.4 2074.9,691.7 2075.4,692.0 2075.9,692.3 2076.4,692.4 2076.9,692.5 2077.4,692.5 2077.9,692.4 2078.4,692.4 2078.9,692.2 2079.4,692.0 2079.9,691.8 2080.4,691.6 2080.9,691.4 2081.4,691.1 2081.9,690.7 2082.4,690.4 2082.9,690.1 2083.4,689.7 2083.9,689.3 2084.4,688.9 2084.9,688.5 2085.4,688.1 2085.9,687.7 2086.4,687.3 2086.9,687.0 2087.4,686.6 2087.9,686.2 2088.4,685.7 2088.9,685.3 2089.4,684.8 2089.9,684.3 2090.4,683.8 2090.9,683.3 2091.4,682.7 2091.9,682.2 2092.4,681.6 2092.9,681.0 2093.4,680.4 2093.9,679.7 2094.4,679.1 2094.9,678.4 2095.4,677.7 2095.9,677.0 2096.4,676.3 2096.9,675.5 2097.4,674.8 2097.9,674.0 2098.4,673.2 2098.9,672.4 2099.4,671.6 2099.9,670.7 2100.4,669.9 2100.9,669.0 2101.4,668.1 2101.9,667.2 2102.4,666.2 2102.9,665.2 2103.4,664.1 2103.9,663.0 2104.4,661.9 2104.9,660.7 2105.4,659.5 2105.9,658.2 2106.4,656.9 2106.9,655.6 2107.4,654.2 2107.9,652.8 2108.4,651.4 2108.9,649.9 2109.4,648.4 2109.9,646.9 2110.4,645.4 2110.9,643.8 2111.4,642.2 2111.9,640.6 2112.4,638.9 2112.9,637.3 2113.4,635.6 2113.9,633.9 2114.4,632.2 2114.9,630.5 2115.4,628.7 2115.9,627.0 2116.4,625.2 2116.9,623.4 2117.4,621.5 2117.9,619.6 2118.4,617.6 2118.9,615.6 2119.4,613.6 2119.9,611.5 2120.4,609.4 2120.9,607.2 2121.4,605.0 2121.9,602.7 2122.4,600.4 2122.9,598.0 2123.4,595.6 2123.9,593.1 2124.4,590.6 2124.9,588.0 2125.4,585.4 2125.9,582.7 2126.4,580.0 2126.9,577.2 2127.4,574.3 2127.9,571.4 2128.4,568.3 2128.9,565.1 2129.4,561.9 2129.9,558.5 2130.4,555.0 2130.9,551.4 2131.4,547.8 2131.9,544.0 2132.4,540.1 2132.9,536.1 2133.4,532.0 2133.9,527.8 2134.4,523.5 2134.9,519.1 2135.4,514.6 2135.9,509.9 2136.4,504.9 2136.9,499.7 2137.4,494.3 2137.9,488.7 2138.4,482.9 2138.9,477.0 2139.4,470.8 2139.9,464.6 2140.4,458.2 2140.9,451.7 2141.4,445.2 2141.9,438.6 2142.4,431.9 2142.9,425.1 2143.4,417.7 2143.9,409.9 2144.4,401.7 2144.9,393.4 2145.4,385.0 2145.9,376.8 2146.4,368.7 2146.9,361.0 2147.4,353.9 2147.9,347.3 2148.4,341.5 2148.9,336.0 2149.4,330.6 2149.9,325.4 2150.4,320.3 2150.9,315.5 2151.4,310.9 2151.9,306.6 2152.4,302.6 2152.9,298.9 2153.4,295.6 2153.9,292.6 2154.4,289.9 2154.9,287.3 2155.4,284.8 2155.9,282.4 2156.4,280.2 2156.9,278.1 2157.4,276.2 2157.9,274.5 2158.4,272.9 2158.9,271.5 2159.4,270.2 2159.9,269.2 2160.4,268.2 2160.9,267.2 2161.4,266.4 2161.9,265.5 2162.4,264.7 2162.9,264.0 2163.4,263.3 2163.9,262.7 2164.4,262.1 2164.9,261.5 2165.4,261.0 2165.9,260.5 2166.4,260.1 2166.9,259.8 2167.4,259.4 2167.9,259.1 2168.4,258.8 2168.9,258.4 2169.4,258.2 2169.9,257.9 2170.4,257.6 2170.9,257.4 2171.4,257.1 2171.9,256.9 2172.4,256.7 2172.9,256.5 2173.4,256.3 2173.9,256.1 2174.4,255.9 2174.9,255.7 2175.4,255.5 2175.9,255.3 2176.4,255.1 2176.9,254.9 2177.4,254.7 2177.9,254.5 2178.4,254.4 2178.9,254.2 2179.4,254.0 2179.9,253.8 2180.4,253.6 2180.9,253.3 2181.4,253.1 2181.9,252.9 2182.4,252.7 2182.9,252.5 2183.4,252.3 2183.9,252.0 2184.4,251.8 2184.9,251.6 2185.4,251.4 2185.9,251.2 2186.4,251.0 2186.9,250.8 2187.4,250.6 2187.9,250.3 2188.4,250.1 2188.9,249.9 2189.4,249.7 2189.9,249.5 2190.4,249.3 2190.9,249.1 2191.4,248.9 2191.9,248.7 2192.4,248.5" fill="none" stroke="#383838" stroke-width="2.7" stroke-linejoin="round"/>
<text x="1341.0" y="333.0" font-size="28" text-anchor="middle" font-weight="bold" fill="#ff2828">10 ppm</text>
<text x="1496.0" y="398.0" font-size="28" text-anchor="middle" font-weight="bold" fill="#ff2828">50 ppm</text>
<text x="1650.0" y="414.0" font-size="28" text-anchor="middle" font-weight="bold" fill="#ff2828">100 ppm</text>
<text x="1810.0" y="460.0" font-size="28" text-anchor="middle" font-weight="bold" fill="#ff2828">200 ppm</text>
<text x="1963.0" y="631.0" font-size="28" text-anchor="middle" font-weight="bold" fill="#ff2828">500 ppm</text>
<text x="2116.0" y="737.0" font-size="28" text-anchor="middle" font-weight="bold" fill="#ff2828">800 ppm</text>
<text x="1563.0" y="675.0" font-size="35" text-anchor="middle" font-weight="bold" fill="#1a1a1a">Exposing time: 40 s</text>
<line x1="1263.0" y1="88.0" x2="1263.0" y2="814.5" stroke="#505050" stroke-width="3.5"/>
<line x1="1250.0" y1="89.5" x2="2195.0" y2="89.5" stroke="#505050" stroke-width="3.5"/>
<line x1="1250.0" y1="800.5" x2="2195.0" y2="800.5" stroke="#505050" stroke-width="4.5"/>
<line x1="2194.0" y1="89.5" x2="2194.0" y2="814.5" stroke="#505050" stroke-width="2.5"/>
<text x="1240.0" y="810.5" font-size="30" text-anchor="end" font-weight="bold" fill="#222">0</text>
<line x1="1250.0" y1="729.4" x2="1263.0" y2="729.4" stroke="#505050" stroke-width="3.2"/>
<text x="1240.0" y="739.4" font-size="30" text-anchor="end" font-weight="bold" fill="#222">1</text>
<line x1="1250.0" y1="658.3" x2="1263.0" y2="658.3" stroke="#505050" stroke-width="3.2"/>
<text x="1240.0" y="668.3" font-size="30" text-anchor="end" font-weight="bold" fill="#222">2</text>
<line x1="1250.0" y1="587.2" x2="1263.0" y2="587.2" stroke="#505050" stroke-width="3.2"/>
<text x="1240.0" y="597.2" font-size="30" text-anchor="end" font-weight="bold" fill="#222">3</text>
<line x1="1250.0" y1="516.1" x2="1263.0" y2="516.1" stroke="#505050" stroke-width="3.2"/>
<text x="1240.0" y="526.1" font-size="30" text-anchor="end" font-weight="bold" fill="#222">4</text>
<line x1="1250.0" y1="445.0" x2="1263.0" y2="445.0" stroke="#505050" stroke-width="3.2"/>
<text x="1240.0" y="455.0" font-size="30" text-anchor="end" font-weight="bold" fill="#222">5</text>
<line x1="1250.0" y1="373.9" x2="1263.0" y2="373.9" stroke="#505050" stroke-width="3.2"/>
<text x="1240.0" y="383.9" font-size="30" text-anchor="end" font-weight="bold" fill="#222">6</text>
<line x1="1250.0" y1="302.8" x2="1263.0" y2="302.8" stroke="#505050" stroke-width="3.2"/>
<text x="1240.0" y="312.8" font-size="30" text-anchor="end" font-weight="bold" fill="#222">7</text>
<line x1="1250.0" y1="231.7" x2="1263.0" y2="231.7" stroke="#505050" stroke-width="3.2"/>
<text x="1240.0" y="241.7" font-size="30" text-anchor="end" font-weight="bold" fill="#222">8</text>
<line x1="1250.0" y1="160.6" x2="1263.0" y2="160.6" stroke="#505050" stroke-width="3.2"/>
<text x="1240.0" y="170.6" font-size="30" text-anchor="end" font-weight="bold" fill="#222">9</text>
<text x="1240.0" y="99.5" font-size="30" text-anchor="end" font-weight="bold" fill="#222">10</text>
<line x1="1255.0" y1="765.0" x2="1263.0" y2="765.0" stroke="#505050" stroke-width="3"/>
<line x1="1255.0" y1="693.9" x2="1263.0" y2="693.9" stroke="#505050" stroke-width="3"/>
<line x1="1255.0" y1="622.8" x2="1263.0" y2="622.8" stroke="#505050" stroke-width="3"/>
<line x1="1255.0" y1="551.6" x2="1263.0" y2="551.6" stroke="#505050" stroke-width="3"/>
<line x1="1255.0" y1="480.6" x2="1263.0" y2="480.6" stroke="#505050" stroke-width="3"/>
<line x1="1255.0" y1="409.4" x2="1263.0" y2="409.4" stroke="#505050" stroke-width="3"/>
<line x1="1255.0" y1="338.4" x2="1263.0" y2="338.4" stroke="#505050" stroke-width="3"/>
<line x1="1255.0" y1="267.2" x2="1263.0" y2="267.2" stroke="#505050" stroke-width="3"/>
<line x1="1255.0" y1="196.1" x2="1263.0" y2="196.1" stroke="#505050" stroke-width="3"/>
<line x1="1255.0" y1="125.0" x2="1263.0" y2="125.0" stroke="#505050" stroke-width="3"/>
<text x="1263.0" y="851.0" font-size="30" text-anchor="middle" font-weight="bold" fill="#222">0</text>
<line x1="1379.4" y1="800.5" x2="1379.4" y2="814.5" stroke="#505050" stroke-width="3.2"/>
<text x="1369.4" y="851.0" font-size="30" text-anchor="middle" font-weight="bold" fill="#222">200</text>
<line x1="1495.8" y1="800.5" x2="1495.8" y2="814.5" stroke="#505050" stroke-width="3.2"/>
<text x="1495.8" y="851.0" font-size="30" text-anchor="middle" font-weight="bold" fill="#222">400</text>
<line x1="1612.1" y1="800.5" x2="1612.1" y2="814.5" stroke="#505050" stroke-width="3.2"/>
<text x="1612.1" y="851.0" font-size="30" text-anchor="middle" font-weight="bold" fill="#222">600</text>
<line x1="1728.5" y1="800.5" x2="1728.5" y2="814.5" stroke="#505050" stroke-width="3.2"/>
<text x="1728.5" y="851.0" font-size="30" text-anchor="middle" font-weight="bold" fill="#222">800</text>
<line x1="1844.9" y1="800.5" x2="1844.9" y2="814.5" stroke="#505050" stroke-width="3.2"/>
<text x="1844.9" y="851.0" font-size="30" text-anchor="middle" font-weight="bold" fill="#222">1000</text>
<line x1="1961.2" y1="800.5" x2="1961.2" y2="814.5" stroke="#505050" stroke-width="3.2"/>
<text x="1961.2" y="851.0" font-size="30" text-anchor="middle" font-weight="bold" fill="#222">1200</text>
<line x1="2077.6" y1="800.5" x2="2077.6" y2="814.5" stroke="#505050" stroke-width="3.2"/>
<text x="2077.6" y="851.0" font-size="30" text-anchor="middle" font-weight="bold" fill="#222">1400</text>
<text x="2194.0" y="851.0" font-size="30" text-anchor="middle" font-weight="bold" fill="#222">1600</text>
<line x1="1321.2" y1="800.5" x2="1321.2" y2="808.5" stroke="#505050" stroke-width="3"/>
<line x1="1437.6" y1="800.5" x2="1437.6" y2="808.5" stroke="#505050" stroke-width="3"/>
<line x1="1553.9" y1="800.5" x2="1553.9" y2="808.5" stroke="#505050" stroke-width="3"/>
<line x1="1670.3" y1="800.5" x2="1670.3" y2="808.5" stroke="#505050" stroke-width="3"/>
<line x1="1786.7" y1="800.5" x2="1786.7" y2="808.5" stroke="#505050" stroke-width="3"/>
<line x1="1903.1" y1="800.5" x2="1903.1" y2="808.5" stroke="#505050" stroke-width="3"/>
<line x1="2019.4" y1="800.5" x2="2019.4" y2="808.5" stroke="#505050" stroke-width="3"/>
<line x1="2135.8" y1="800.5" x2="2135.8" y2="808.5" stroke="#505050" stroke-width="3"/>
<text x="1729.0" y="900.0" font-size="41" text-anchor="middle" font-weight="bold" fill="#222">Time (s)</text>
<text x="1181.0" y="474.0" font-size="42" text-anchor="middle" font-weight="bold" fill="#222" transform="rotate(-90 1181.0 474.0)">Resistance (MΩ)</text>
<text x="1120.0" y="78.0" font-size="72" text-anchor="start" font-weight="bold" fill="#222">(b)</text>
<line x1="168.5" y1="1103.5" x2="1088.0" y2="1103.5" stroke="#ececec" stroke-width="2.5"/>
<line x1="168.5" y1="1260.0" x2="1088.0" y2="1260.0" stroke="#d6d6d6" stroke-width="2.5" stroke-dasharray="4 3.5"/>
<line x1="168.5" y1="1416.5" x2="1088.0" y2="1416.5" stroke="#f0f0f0" stroke-width="2.5"/>
<line x1="168.5" y1="1573.0" x2="1088.0" y2="1573.0" stroke="#d6d6d6" stroke-width="2.5" stroke-dasharray="4 3.5"/>
<defs><marker id="oc" markerUnits="userSpaceOnUse" markerWidth="26" markerHeight="26" refX="13" refY="13" viewBox="0 0 26 26"><circle cx="13" cy="13" r="9" fill="none" stroke="#f00000" stroke-width="3.4" stroke-opacity="0.4"/></marker><clipPath id="cc"><rect x="165.5" y="948.0" width="924.5" height="706.5"/></clipPath></defs>
<g clip-path="url(#cc)"><polyline points="166.4,1281.7 166.4,1281.7 167.2,1281.7 168.0,1281.7 168.9,1281.7 169.7,1281.7 170.5,1281.7 171.4,1281.7 172.2,1281.7 173.1,1281.7 173.9,1281.7 174.7,1281.7 175.6,1281.7 176.4,1281.7 177.3,1281.7 178.1,1281.7 178.9,1281.7 179.8,1281.7 180.6,1281.7 181.5,1281.7 182.3,1281.7 183.1,1281.7 184.0,1281.7 184.8,1281.7 185.7,1281.7 186.5,1281.7 187.3,1281.7 188.2,1281.7 189.0,1281.7 189.9,1281.7 190.7,1281.7 191.5,1281.7 192.4,1281.7 193.2,1281.7 194.1,1281.7 194.9,1281.7 195.7,1281.7 196.6,1281.7 197.4,1281.7 198.3,1281.7 199.1,1281.7 199.9,1281.7 200.8,1281.7 201.6,1281.7 202.5,1281.7 203.3,1281.7 204.1,1281.7 205.0,1281.7 205.8,1281.7 206.7,1281.7 207.5,1281.7 208.3,1281.7 209.2,1281.7 210.0,1281.7 210.9,1281.7 211.7,1281.7 212.5,1281.7 213.4,1281.7 214.2,1281.7 215.1,1281.7 215.9,1281.7 216.7,1281.7 217.6,1281.7 218.4,1281.7 219.3,1281.7 220.1,1281.7 220.9,1281.7 221.8,1281.7 222.6,1281.7 223.5,1281.7 224.3,1281.7 225.1,1281.7 226.0,1281.7 226.8,1281.7 227.7,1281.7 228.5,1281.7 229.3,1281.7 230.2,1281.7 231.0,1281.7 231.9,1281.7 232.7,1281.7 233.5,1281.7 234.4,1281.7 235.2,1281.7 236.1,1281.7 236.9,1281.7 237.7,1281.7 238.6,1281.7 239.4,1281.7 240.3,1281.7 241.1,1281.7 241.9,1281.7 242.8,1281.7 243.6,1281.7 244.5,1281.7 245.3,1281.7 246.1,1281.7 247.0,1281.7 247.8,1281.7 248.7,1281.7 249.5,1281.7 250.3,1281.7 251.2,1281.7 252.0,1281.7 252.9,1281.7 253.7,1281.7 254.5,1281.7 255.4,1281.7 256.2,1281.7 257.1,1281.7 257.9,1281.7 258.7,1281.7 259.6,1281.7 260.4,1281.7 261.3,1281.7 262.1,1281.7 262.9,1281.7 263.8,1281.7 264.6,1281.7 265.5,1281.7 266.3,1281.7 267.1,1281.7 268.0,1281.7 268.8,1281.7 269.7,1281.7 270.5,1281.7 271.3,1281.7 272.2,1281.7 273.0,1281.7 273.9,1281.7 274.7,1281.7 275.5,1281.7 276.4,1281.7 277.2,1281.7 278.1,1281.7 278.9,1281.7 279.7,1281.7 280.6,1281.7 281.4,1281.7 282.3,1281.4 283.1,1280.7 283.9,1279.8 284.8,1278.6 285.6,1277.3 286.5,1276.0 287.3,1274.7 288.1,1273.5 289.0,1272.6 289.8,1271.9 290.7,1271.6 291.5,1273.6 292.3,1280.4 293.2,1290.2 294.0,1300.9 294.9,1310.9 295.7,1320.0 296.5,1329.6 297.4,1339.4 298.2,1349.1 299.1,1358.3 299.9,1367.3 300.7,1376.1 301.6,1384.6 302.4,1392.7 303.3,1400.2 304.1,1407.2 304.9,1414.0 305.8,1420.5 306.6,1426.7 307.5,1432.5 308.3,1438.0 309.1,1443.0 310.0,1447.8 310.8,1452.5 311.7,1456.9 312.5,1461.1 313.3,1465.2 314.2,1469.1 315.0,1473.0 315.9,1476.7 316.7,1480.4 317.5,1484.0 318.4,1487.6 319.2,1491.1 320.1,1494.6 320.9,1498.0 321.7,1501.4 322.6,1504.6 323.4,1507.8 324.3,1510.8 325.1,1513.7 325.9,1516.5 326.8,1519.1 327.6,1521.6 328.5,1523.9 329.3,1526.2 330.1,1528.3 331.0,1530.4 331.8,1532.5 332.7,1534.5 333.5,1536.4 334.3,1538.3 335.2,1540.1 336.0,1541.8 336.9,1543.5 337.7,1545.2 338.5,1546.8 339.4,1548.3 340.2,1549.8 341.1,1551.3 341.9,1552.7 342.7,1554.2 343.6,1555.5 344.4,1556.9 345.3,1558.2 346.1,1559.5 346.9,1560.7 347.8,1562.0 348.6,1563.1 349.5,1564.3 350.3,1565.4 351.1,1566.5 352.0,1567.5 352.8,1568.5 353.7,1569.5 354.5,1570.4 355.3,1571.2 356.2,1572.1 357.0,1572.8 357.9,1573.5 358.7,1574.2 359.5,1574.9 360.4,1575.5 361.2,1576.1 362.1,1576.8 362.9,1577.4 363.7,1578.0 364.6,1578.6 365.4,1579.2 366.3,1579.8 367.1,1580.5 367.9,1581.2 368.8,1582.0 369.6,1583.0 370.5,1583.1 371.3,1581.4 372.1,1578.2 373.0,1573.9 373.8,1568.9 374.7,1563.4 375.5,1557.9 376.3,1552.8 377.2,1548.3 378.0,1544.1 378.9,1539.9 379.7,1535.7 380.5,1531.5 381.4,1527.3 382.2,1523.1 383.1,1518.8 383.9,1514.6 384.7,1510.4 385.6,1506.2 386.4,1502.0 387.3,1497.8 388.1,1493.6 388.9,1489.4 389.8,1485.2 390.6,1481.0 391.5,1476.8 392.3,1472.6 393.1,1468.4 394.0,1464.2 394.8,1459.9 395.7,1455.6 396.5,1451.3 397.3,1447.0 398.2,1442.8 399.0,1438.6 399.9,1434.4 400.7,1430.3 401.5,1426.4 402.4,1422.5 403.2,1418.7 404.1,1414.9 404.9,1411.2 405.7,1407.5 406.6,1403.9 407.4,1400.3 408.3,1396.7 409.1,1393.2 409.9,1389.8 410.8,1386.4 411.6,1383.0 412.5,1379.6 413.3,1376.3 414.1,1373.0 415.0,1369.6 415.8,1366.4 416.7,1363.1 417.5,1360.0 418.3,1356.9 419.2,1353.9 420.0,1350.9 420.9,1348.1 421.7,1345.4 422.5,1342.7 423.4,1340.2 424.2,1337.6 425.1,1335.2 425.9,1332.8 426.7,1330.4 427.6,1328.1 428.4,1325.8 429.3,1323.6 430.1,1321.5 430.9,1319.4 431.8,1317.3 432.6,1315.3 433.5,1313.4 434.3,1311.5 435.1,1309.7 436.0,1307.9 436.8,1306.2 437.7,1304.4 438.5,1302.8 439.3,1301.1 440.2,1299.5 441.0,1297.9 441.9,1296.4 442.7,1294.9 443.5,1293.4 444.4,1291.9 445.2,1290.4 446.1,1289.0 446.9,1287.6 447.7,1286.2 448.6,1284.8 449.4,1283.4 450.3,1282.1 451.1,1280.7 451.9,1279.3 452.8,1277.8 453.6,1276.3 454.5,1274.7 455.3,1273.1 456.1,1271.5 457.0,1269.9 457.8,1268.4 458.7,1266.9 459.5,1265.4 460.3,1264.0 461.2,1262.8 462.0,1261.6 462.9,1260.6 463.7,1259.7 464.5,1259.0 465.4,1258.4 466.2,1258.1 467.1,1257.9 467.9,1258.7 468.7,1261.4 469.6,1265.7 470.4,1271.3 471.3,1277.6 472.1,1284.5 472.9,1291.5 473.8,1300.8 474.6,1312.2 475.5,1324.7 476.3,1337.2 477.1,1348.7 478.0,1360.3 478.8,1372.0 479.7,1383.4 480.5,1394.1 481.3,1403.8 482.2,1412.8 483.0,1421.4 483.9,1429.5 484.7,1437.2 485.5,1444.4 486.4,1451.5 487.2,1458.3 488.1,1464.8 488.9,1470.9 489.7,1476.6 490.6,1481.9 491.4,1486.9 492.3,1491.8 493.1,1496.5 493.9,1501.0 494.8,1505.4 495.6,1509.4 496.5,1513.3 497.3,1516.8 498.1,1520.1 499.0,1523.1 499.8,1526.0 500.7,1528.8 501.5,1531.4 502.3,1534.0 503.2,1536.4 504.0,1538.8 504.9,1541.0 505.7,1543.2 506.5,1545.3 507.4,1547.2 508.2,1549.1 509.1,1550.9 509.9,1552.5 510.7,1554.1 511.6,1555.6 512.4,1557.1 513.3,1558.5 514.1,1559.8 514.9,1561.1 515.8,1562.4 516.6,1563.6 517.5,1564.8 518.3,1566.0 519.1,1567.1 520.0,1568.1 520.8,1569.2 521.7,1570.2 522.5,1571.2 523.3,1572.1 524.2,1573.1 525.0,1574.0 525.9,1574.9 526.7,1575.8 527.5,1576.6 528.4,1577.5 529.2,1578.3 530.1,1579.2 530.9,1580.0 531.7,1580.8 532.6,1581.6 533.4,1582.4 534.3,1583.1 535.1,1583.9 535.9,1584.6 536.8,1585.3 537.6,1586.0 538.5,1586.6 539.3,1587.2 540.1,1587.9 541.0,1588.4 541.8,1589.0 542.7,1589.5 543.5,1590.0 544.3,1590.5 545.2,1591.0 546.0,1591.5 546.9,1592.0 547.7,1592.5 548.5,1593.0 549.4,1593.5 550.2,1593.9 551.1,1594.3 551.9,1594.7 552.7,1595.0 553.6,1595.2 554.4,1595.4 555.3,1595.6 556.1,1595.6 556.9,1594.9 557.8,1593.0 558.6,1590.2 559.5,1586.7 560.3,1582.8 561.1,1578.9 562.0,1575.1 562.8,1571.2 563.7,1566.9 564.5,1562.3 565.3,1557.5 566.2,1552.6 567.0,1547.9 567.9,1543.2 568.7,1538.5 569.5,1533.7 570.4,1529.0 571.2,1524.3 572.1,1519.7 572.9,1515.1 573.7,1510.5 574.6,1505.9 575.4,1501.5 576.3,1497.4 577.1,1493.6 577.9,1490.2 578.8,1487.1 579.6,1484.2 580.5,1481.2 581.3,1478.0 582.1,1474.5 583.0,1470.8 583.8,1467.0 584.7,1463.1 585.5,1459.1 585.5,1455.1 585.5,1451.2 585.5,1447.3 585.5,1443.6 593.9,1440.0 593.9,1436.6 593.9,1433.4 593.9,1430.3 593.9,1427.3 593.9,1424.3 593.9,1421.3 593.9,1418.2 593.9,1415.0 593.9,1411.6 602.3,1408.0 602.3,1404.0 602.3,1399.7 602.3,1395.1 602.3,1390.3 602.3,1385.4 602.3,1380.5 602.3,1375.8 602.3,1371.2 602.3,1366.9 610.7,1363.0 610.7,1359.4 610.7,1355.9 610.7,1352.5 610.7,1349.3 610.7,1346.1 610.7,1343.1 610.7,1340.2 610.7,1337.3 610.7,1334.6 619.1,1332.0 619.1,1329.5 619.1,1327.1 619.1,1324.7 619.1,1322.5 619.1,1320.3 619.1,1318.1 619.1,1316.0 619.1,1314.0 619.1,1312.0 627.5,1310.0 627.5,1308.1 627.5,1306.2 627.5,1304.4 627.5,1302.6 627.5,1300.8 627.5,1299.1 627.5,1297.4 627.5,1295.6 627.5,1293.8 635.9,1292.0 635.9,1290.1 635.9,1288.2 635.9,1286.2 635.9,1284.3 635.9,1282.3 635.9,1280.3 635.9,1278.4 635.9,1276.5 635.9,1274.7 644.3,1273.0 644.3,1271.3 644.3,1269.7 644.3,1268.2 644.3,1266.6 644.3,1265.1 644.3,1263.7 644.3,1262.2 644.3,1260.8 644.3,1259.4 652.7,1258.0 652.7,1256.7 652.7,1255.4 652.7,1254.2 652.7,1253.0 652.7,1251.8 652.7,1250.6 652.7,1249.3 652.7,1248.0 652.7,1246.6 661.1,1245.0 661.1,1242.8 661.1,1240.1 661.1,1237.7 661.1,1236.2 661.1,1236.1 661.1,1237.0 661.1,1238.4 661.1,1240.3 661.1,1242.5 669.5,1245.0 669.5,1248.6 669.5,1254.0 669.5,1261.0 669.5,1269.2 669.5,1278.4 669.5,1288.3 669.5,1298.5 669.5,1308.7 669.5,1318.6 677.9,1328.0 677.9,1337.3 677.9,1347.2 677.9,1357.4 677.9,1367.9 677.9,1378.4 677.9,1388.8 677.9,1398.9 677.9,1408.6 677.9,1417.7 686.3,1426.0 686.3,1433.9 686.3,1441.6 686.3,1449.2 686.3,1456.5 686.3,1463.6 686.3,1470.3 686.3,1476.5 686.3,1482.3 686.3,1487.4 694.7,1492.0 694.7,1496.0 694.7,1499.8 694.7,1503.2 694.7,1506.5 694.7,1509.5 694.7,1512.3 694.7,1515.1 694.7,1517.8 694.7,1520.4 703.1,1523.0 703.1,1525.6 703.1,1528.2 703.1,1530.8 703.1,1533.4 703.1,1535.9 703.1,1538.4 703.1,1540.9 703.1,1543.3 703.1,1545.6 711.5,1547.9 711.5,1550.1 711.5,1552.2 711.5,1554.2 711.5,1556.2 711.5,1558.1 711.5,1559.8 711.5,1561.5 711.5,1563.0 711.5,1564.5 719.9,1565.9 719.9,1567.3 719.9,1568.6 719.9,1569.9 719.9,1571.1 719.9,1572.3 719.9,1573.5 719.9,1574.6 719.9,1575.7 719.9,1576.7 728.3,1577.8 728.3,1578.8 728.3,1579.8 728.3,1580.7 728.3,1581.6 728.3,1582.6 728.3,1583.5 728.3,1584.4 728.3,1585.2 728.3,1586.1 736.7,1587.0 736.7,1587.8 736.7,1588.6 736.7,1589.5 736.7,1590.3 736.7,1591.1 736.7,1591.8 736.7,1592.6 736.7,1593.4 736.7,1594.1 745.1,1594.8 745.1,1595.5 745.1,1596.2 745.1,1596.9 745.1,1597.5 745.1,1598.1 745.1,1598.7 745.1,1599.3 745.1,1599.9 745.1,1600.5 753.5,1601.0 753.5,1601.5 753.5,1602.1 753.5,1602.5 753.5,1602.4 753.5,1601.7 753.5,1600.4 753.5,1598.7 753.5,1596.6 753.5,1594.4 761.9,1592.0 761.9,1589.0 761.9,1585.0 761.9,1580.1 761.9,1574.6 761.9,1568.5 761.9,1562.1 761.9,1555.6 761.9,1549.1 761.9,1542.9 770.3,1537.0 770.3,1531.3 770.3,1525.5 770.3,1519.7 770.3,1513.8 770.3,1507.9 770.3,1502.0 770.3,1496.3 770.3,1490.7 770.3,1485.2 778.7,1480.0 778.7,1475.0 778.7,1470.1 778.7,1465.3 778.7,1460.6 778.7,1456.0 778.7,1451.5 778.7,1447.0 778.7,1442.6 778.7,1438.3 787.1,1434.0 787.1,1429.8 787.1,1425.6 787.1,1421.5 787.1,1417.5 787.1,1413.5 787.1,1409.6 787.1,1405.7 787.1,1401.8 787.1,1397.9 795.5,1394.0 795.5,1390.1 795.5,1386.1 795.5,1382.1 795.5,1378.0 795.5,1374.1 795.5,1370.2 795.5,1366.4 795.5,1362.7 795.5,1359.3 803.9,1356.0 803.9,1352.9 803.9,1350.1 803.9,1347.3 803.9,1344.7 803.9,1342.1 803.9,1339.6 803.9,1337.0 803.9,1334.4 803.9,1331.8 812.3,1329.0 812.3,1326.1 812.3,1323.0 812.3,1319.9 812.3,1316.7 812.3,1313.5 812.3,1310.4 812.3,1307.3 812.3,1304.3 812.3,1301.6 820.7,1299.0 820.7,1296.6 820.7,1294.2 820.7,1291.8 820.7,1289.5 820.7,1287.3 820.7,1285.0 820.7,1282.9 820.7,1280.7 820.7,1278.6 829.1,1276.5 829.1,1274.5 829.1,1272.5 829.1,1270.6 829.1,1268.7 829.1,1266.8 829.1,1265.0 829.1,1263.2 829.1,1261.4 829.1,1259.7 837.5,1258.0 837.5,1256.4 837.5,1254.8 837.5,1253.2 837.5,1251.7 837.5,1250.2 837.5,1248.8 837.5,1247.3 837.5,1245.9 837.5,1244.6 845.9,1243.2 845.9,1241.9 845.9,1240.6 845.9,1239.3 845.9,1238.0 845.9,1236.8 845.9,1235.6 845.9,1234.4 845.9,1233.3 845.9,1232.1 854.3,1231.0 854.3,1230.0 854.3,1228.9 854.3,1227.9 854.3,1226.8 854.3,1225.8 854.3,1224.9 854.3,1223.9 854.3,1223.0 854.3,1222.0 862.7,1221.0 862.7,1219.9 862.7,1218.9 862.7,1217.9 862.7,1216.8 862.7,1215.8 862.7,1214.9 862.7,1214.0 862.7,1213.1 862.7,1212.4 871.1,1211.7 871.1,1211.1 871.1,1210.6 871.1,1210.3 871.1,1210.1 871.1,1210.0 871.1,1213.2 871.1,1221.6 871.1,1232.9 871.1,1245.2 879.5,1256.2 879.5,1266.8 879.5,1278.0 879.5,1289.8 879.5,1301.8 879.5,1314.0 879.5,1326.1 879.5,1338.1 879.5,1349.7 879.5,1360.8 887.9,1371.2 887.9,1381.2 887.9,1391.2 887.9,1400.9 887.9,1410.4 887.9,1419.7 887.9,1428.7 887.9,1437.3 887.9,1445.6 887.9,1453.5 896.3,1460.9 896.3,1468.0 896.3,1475.0 896.3,1481.8 896.3,1488.4 896.3,1494.7 896.3,1500.7 896.3,1506.3 896.3,1511.5 896.3,1516.3 904.7,1520.5 904.7,1524.3 904.7,1527.7 904.7,1530.9 904.7,1533.9 904.7,1536.7 904.7,1539.4 904.7,1542.1 904.7,1544.8 904.7,1547.5 913.1,1550.3 913.1,1553.4 913.1,1556.4 913.1,1559.3 913.1,1561.7 913.1,1563.6 913.1,1565.5 913.1,1567.3 913.1,1569.0 913.1,1570.6 921.5,1572.2 921.5,1573.7 921.5,1575.1 921.5,1576.5 921.5,1577.8 921.5,1579.1 921.5,1580.3 921.5,1581.5 921.5,1582.6 921.5,1583.7 929.9,1584.8 929.9,1585.9 929.9,1586.9 929.9,1587.9 929.9,1588.9 929.9,1589.9 929.9,1590.9 929.9,1591.8 929.9,1592.7 929.9,1593.7 938.3,1594.5 938.3,1595.4 938.3,1596.3 938.3,1597.1 938.3,1597.9 938.3,1598.6 938.3,1599.3 938.3,1600.0 938.3,1600.7 938.3,1601.3 946.7,1601.9 946.7,1602.5 946.7,1603.0 946.7,1603.5 946.7,1604.0 946.7,1604.5 946.7,1605.0 946.7,1605.5 946.7,1606.0 946.7,1606.4 955.1,1606.8 955.1,1607.2 955.1,1607.5 955.1,1607.7 955.1,1607.9 955.1,1608.0 955.1,1607.9 955.1,1607.2 955.1,1605.8 955.1,1604.0 963.5,1602.0 963.5,1599.6 963.5,1596.3 963.5,1592.4 963.5,1587.8 963.5,1582.9 963.5,1577.7 963.5,1572.4 963.5,1567.1 963.5,1561.9 971.9,1557.0 971.9,1552.3 971.9,1547.5 971.9,1542.6 971.9,1537.7 971.9,1532.7 971.9,1527.8 971.9,1522.8 971.9,1517.8 971.9,1512.9 980.3,1508.0 980.3,1503.1 980.3,1498.2 980.3,1493.3 980.3,1488.4 980.3,1483.5 980.3,1478.6 980.3,1473.8 980.3,1469.0 980.3,1464.2 988.7,1459.5 988.7,1454.8 988.7,1450.2 988.7,1445.7 988.7,1441.1 988.7,1436.6 988.7,1432.1 988.7,1427.7 988.7,1423.2 988.7,1418.9 997.1,1414.5 997.1,1410.1 997.1,1405.8 997.1,1401.4 997.1,1397.1 997.1,1392.8 997.1,1388.6 997.1,1384.4 997.1,1380.3 997.1,1376.4 1005.5,1372.5 1005.5,1368.8 1005.5,1365.1 1005.5,1361.6 1005.5,1358.1 1005.5,1354.6 1005.5,1351.2 1005.5,1347.9 1005.5,1344.6 1005.5,1341.3 1013.9,1338.0 1013.9,1334.7 1013.9,1331.4 1013.9,1328.1 1013.9,1324.9 1013.9,1321.7 1013.9,1318.5 1013.9,1315.4 1013.9,1312.4 1013.9,1309.4 1022.3,1306.5 1022.3,1303.7 1022.3,1300.9 1022.3,1298.3 1022.3,1295.6 1022.3,1293.1 1022.3,1290.5 1022.3,1288.0 1022.3,1285.5 1022.3,1283.0 1030.7,1280.5 1030.7,1278.0 1030.7,1275.5 1030.7,1272.9 1030.7,1270.4 1030.7,1268.0 1030.7,1265.5 1030.7,1263.1 1030.7,1260.8 1030.7,1258.6 1039.1,1256.5 1039.1,1254.5 1039.1,1252.6 1039.1,1250.7 1039.1,1248.9 1039.1,1247.1 1039.1,1245.4 1039.1,1243.7 1039.1,1242.0 1039.1,1240.2 1047.5,1238.5 1047.5,1236.8 1047.5,1235.0 1047.5,1233.3 1047.5,1231.6 1047.5,1229.9 1047.5,1228.2 1047.5,1226.5 1047.5,1224.8 1047.5,1223.2 1055.9,1221.5 1055.9,1219.8 1055.9,1218.1 1055.9,1216.4 1055.9,1214.7 1055.9,1213.0 1055.9,1211.4 1055.9,1209.8 1055.9,1208.3 1055.9,1206.8 1064.3,1205.5 1064.3,1204.3 1064.3,1203.1 1064.3,1201.9 1064.3,1200.8 1064.3,1199.7 1064.3,1198.7 1064.3,1197.7 1064.3,1196.8 1064.3,1195.9 1072.7,1195.0 1072.7,1194.2 1072.7,1193.4 1072.7,1192.6 1072.7,1191.9 1072.7,1191.2 1072.7,1190.5 1072.7,1189.8 1072.7,1189.2 1072.7,1188.6 1081.1,1188.0 1081.1,1187.4 1081.1,1186.9 1081.1,1186.3 1081.1,1185.8 1081.1,1185.3 1081.1,1184.8 1081.1,1184.3 1081.1,1183.8 1081.1,1183.4 1089.5,1182.9 1089.5,1182.5 1089.5,1182.1 1089.5,1181.7 1089.5,1181.3 1089.5,1181.0" fill="none" stroke="none" marker-start="url(#oc)" marker-mid="url(#oc)" marker-end="url(#oc)"/></g>
<ellipse cx="183.4" cy="1281.7" rx="4.2" ry="6.2" fill="#fff" opacity="0.6"/>
<ellipse cx="217.6" cy="1281.7" rx="4.2" ry="6.2" fill="#fff" opacity="0.95"/>
<ellipse cx="258.4" cy="1281.7" rx="4.2" ry="6.2" fill="#fff" opacity="0.9"/>
<line x1="206.0" y1="1033.0" x2="231.0" y2="1033.0" stroke="#555" stroke-width="3"/>
<line x1="255.0" y1="1033.0" x2="278.0" y2="1033.0" stroke="#555" stroke-width="3"/>
<circle cx="241" cy="1033" r="10" fill="#fff" stroke="#ff6a6a" stroke-width="2.2"/>
<text x="286.0" y="1045.0" font-size="32" text-anchor="start" font-weight="bold" fill="#222">Ti<tspan font-size="16" dy="10" dx="0">3</tspan><tspan dy="-10" dx="0">C</tspan><tspan font-size="16" dy="10" dx="0">2</tspan><tspan dy="-10" dx="0">T</tspan><tspan font-size="16" dy="10" dx="0">x</tspan><tspan dy="-10"> </tspan><tspan dx="5" letter-spacing="0.15">activated with oxygen</tspan></text>
<text x="286.0" y="1097.0" font-size="32" text-anchor="start" font-weight="bold" fill="#222">microwave plasma at 500 °C</text>
<line x1="676.0" y1="1239.0" x2="727.0" y2="1213.0" stroke="#a09a20" stroke-width="2.2"/>
<polygon points="714.8,1224.3 710.7,1216.3 728.8,1212.1" fill="#a09a20"/>
<line x1="750.0" y1="1605.0" x2="801.0" y2="1622.0" stroke="#a09a20" stroke-width="2.2"/>
<polygon points="784.4,1621.2 787.2,1612.7 802.9,1622.6" fill="#a09a20"/>
<text x="738.0" y="1209.0" font-size="31.5" text-anchor="start" font-weight="bold" fill="#222">Gas on</text>
<text x="810.0" y="1631.0" font-size="31.5" text-anchor="start" font-weight="bold" fill="#222">Gas off</text>
<line x1="165.5" y1="946.0" x2="165.5" y2="1657.5" stroke="#8a8a8a" stroke-width="5"/>
<line x1="154.5" y1="948.0" x2="1091.0" y2="948.0" stroke="#8a8a8a" stroke-width="4.5"/>
<line x1="161.5" y1="1654.5" x2="1091.0" y2="1654.5" stroke="#8a8a8a" stroke-width="5.5"/>
<line x1="1090.0" y1="948.0" x2="1090.0" y2="1666.5" stroke="#8a8a8a" stroke-width="2.5"/>
<line x1="154.5" y1="1103.5" x2="165.5" y2="1103.5" stroke="#505050" stroke-width="3"/>
<line x1="154.5" y1="1260.0" x2="165.5" y2="1260.0" stroke="#505050" stroke-width="3"/>
<line x1="154.5" y1="1416.5" x2="165.5" y2="1416.5" stroke="#505050" stroke-width="3"/>
<line x1="154.5" y1="1573.0" x2="165.5" y2="1573.0" stroke="#505050" stroke-width="3"/>
<text x="145.5" y="962.0" font-size="30" text-anchor="end" font-weight="bold" fill="#222">9</text>
<text x="145.5" y="1113.5" font-size="30" text-anchor="end" font-weight="bold" fill="#222">8.5</text>
<text x="145.5" y="1270.0" font-size="30" text-anchor="end" font-weight="bold" fill="#222">8</text>
<text x="145.5" y="1426.5" font-size="30" text-anchor="end" font-weight="bold" fill="#222">7.5</text>
<text x="145.5" y="1583.0" font-size="30" text-anchor="end" font-weight="bold" fill="#222">7</text>
<line x1="249.5" y1="1654.5" x2="249.5" y2="1666.5" stroke="#505050" stroke-width="3"/>
<text x="249.5" y="1702.0" font-size="30" text-anchor="middle" font-weight="bold" fill="#222">600</text>
<line x1="417.5" y1="1654.5" x2="417.5" y2="1666.5" stroke="#505050" stroke-width="3"/>
<text x="417.5" y="1702.0" font-size="30" text-anchor="middle" font-weight="bold" fill="#222">800</text>
<line x1="585.5" y1="1654.5" x2="585.5" y2="1666.5" stroke="#505050" stroke-width="3"/>
<text x="585.5" y="1702.0" font-size="30" text-anchor="middle" font-weight="bold" fill="#222">1000</text>
<line x1="753.5" y1="1654.5" x2="753.5" y2="1666.5" stroke="#505050" stroke-width="3"/>
<text x="753.5" y="1702.0" font-size="30" text-anchor="middle" font-weight="bold" fill="#222">1200</text>
<line x1="921.5" y1="1654.5" x2="921.5" y2="1666.5" stroke="#505050" stroke-width="3"/>
<text x="921.5" y="1702.0" font-size="30" text-anchor="middle" font-weight="bold" fill="#222">1400</text>
<text x="1090.5" y="1702.0" font-size="30" text-anchor="middle" font-weight="bold" fill="#222">1600</text>
<line x1="333.5" y1="1654.5" x2="333.5" y2="1661.5" stroke="#505050" stroke-width="3"/>
<line x1="501.5" y1="1654.5" x2="501.5" y2="1661.5" stroke="#505050" stroke-width="3"/>
<line x1="669.5" y1="1654.5" x2="669.5" y2="1661.5" stroke="#505050" stroke-width="3"/>
<line x1="837.5" y1="1654.5" x2="837.5" y2="1661.5" stroke="#505050" stroke-width="3"/>
<line x1="1005.5" y1="1654.5" x2="1005.5" y2="1661.5" stroke="#505050" stroke-width="3"/>
<text x="82.0" y="1330.0" font-size="42" text-anchor="middle" font-weight="bold" fill="#222" transform="rotate(-90 82.0 1330.0)">Resistence (MΩ)</text>
<text x="55.0" y="922.0" font-size="72" text-anchor="start" font-weight="bold" fill="#222">(c)</text>
<clipPath id="ct"><rect x="540" y="1740" width="160" height="4"/></clipPath>
<g clip-path="url(#ct)" opacity="0.7">
<text x="628.0" y="1766.0" font-size="40" text-anchor="middle" font-weight="bold" fill="#222">Time (s)</text>
</g>
<line x1="1265.5" y1="1520.7" x2="2187.5" y2="1520.7" stroke="#d8d8d8" stroke-width="2.5" stroke-dasharray="4 3.5"/>
<line x1="1265.5" y1="1374.9" x2="2187.5" y2="1374.9" stroke="#d8d8d8" stroke-width="2.5" stroke-dasharray="4 3.5"/>
<line x1="1265.5" y1="1229.1" x2="2187.5" y2="1229.1" stroke="#d8d8d8" stroke-width="2.5" stroke-dasharray="4 3.5"/>
<line x1="1265.5" y1="1083.3" x2="2187.5" y2="1083.3" stroke="#d8d8d8" stroke-width="2.5" stroke-dasharray="4 3.5"/>
<line x1="1265.5" y1="1593.6" x2="2187.5" y2="1593.6" stroke="#f0f0f0" stroke-width="2.5"/>
<line x1="1265.5" y1="1447.8" x2="2187.5" y2="1447.8" stroke="#f0f0f0" stroke-width="2.5"/>
<line x1="1265.5" y1="1302.0" x2="2187.5" y2="1302.0" stroke="#f0f0f0" stroke-width="2.5"/>
<line x1="1265.5" y1="1156.2" x2="2187.5" y2="1156.2" stroke="#f0f0f0" stroke-width="2.5"/>
<line x1="1265.5" y1="1010.4" x2="2187.5" y2="1010.4" stroke="#f0f0f0" stroke-width="2.5"/>
<rect x="1319.3" y="1543.2" width="58.5" height="123.3" fill="#000" stroke="#7a7a7a" stroke-width="2"/>
<rect x="1377.8" y="1499.4" width="58.5" height="167.1" fill="#ee0000" stroke="#8a6a6a" stroke-width="2"/>
<rect x="1550.7" y="1448.7" width="58.5" height="217.8" fill="#000" stroke="#7a7a7a" stroke-width="2"/>
<rect x="1609.2" y="1289.5" width="58.5" height="377.0" fill="#ee0000" stroke="#8a6a6a" stroke-width="2"/>
<rect x="1782.3" y="1278.1" width="58.5" height="388.4" fill="#000" stroke="#7a7a7a" stroke-width="2"/>
<rect x="1840.8" y="1011.3" width="58.5" height="655.2" fill="#ee0000" stroke="#8a6a6a" stroke-width="2"/>
<rect x="2014.5" y="1560.9" width="58.5" height="105.6" fill="#000" stroke="#7a7a7a" stroke-width="2"/>
<rect x="2073.0" y="1544.3" width="58.5" height="122.2" fill="#ee0000" stroke="#8a6a6a" stroke-width="2"/>
<rect x="1301.0" y="1033.0" width="73.5" height="37.0" fill="#000"/>
<rect x="1301.0" y="1090.0" width="73.5" height="36.0" fill="#ee0000"/>
<text x="1384.0" y="1063.0" font-size="32" text-anchor="start" font-weight="bold" fill="#222">Raw Ti<tspan font-size="24" dy="9" dx="2.4">3</tspan><tspan dy="-9" dx="2.4">C</tspan><tspan font-size="24" dy="9" dx="2.4">2</tspan><tspan dy="-9" dx="2.4">T</tspan><tspan font-size="24" dy="9" dx="2.4">x</tspan></text>
<text x="1384.0" y="1120.0" font-size="32" text-anchor="start" font-weight="bold" fill="#222">Ti<tspan font-size="24" dy="9" dx="2.4">3</tspan><tspan dy="-9" dx="2.4">C</tspan><tspan font-size="24" dy="9" dx="2.4">2</tspan><tspan dy="-9" dx="2.4">T</tspan><tspan font-size="24" dy="9" dx="2.4">x</tspan><tspan dy="-9"> </tspan><tspan dx="2" letter-spacing="0.2">activated with</tspan></text>
<text x="1375.0" y="1178.0" font-size="32.5" text-anchor="start" font-weight="bold" fill="#222">oxygen microwave plasma</text>
<text x="1381.0" y="1217.0" font-size="32" text-anchor="start" font-weight="bold" fill="#222">at 500 °C</text>
<line x1="1262.5" y1="958.0" x2="1262.5" y2="1668.5" stroke="#505050" stroke-width="3.5"/>
<line x1="1262.5" y1="959.5" x2="2190.5" y2="959.5" stroke="#808080" stroke-width="4"/>
<line x1="1249.5" y1="1666.5" x2="2190.5" y2="1666.5" stroke="#505050" stroke-width="4"/>
<line x1="2189.5" y1="959.5" x2="2189.5" y2="1666.5" stroke="#808080" stroke-width="3"/>
<text x="1236.5" y="1676.5" font-size="30" text-anchor="end" font-weight="bold" fill="#222">0</text>
<line x1="1249.5" y1="1520.7" x2="1262.5" y2="1520.7" stroke="#505050" stroke-width="3.2"/>
<text x="1236.5" y="1530.7" font-size="30" text-anchor="end" font-weight="bold" fill="#222">5</text>
<line x1="1249.5" y1="1374.9" x2="1262.5" y2="1374.9" stroke="#505050" stroke-width="3.2"/>
<text x="1236.5" y="1384.9" font-size="30" text-anchor="end" font-weight="bold" fill="#222">10</text>
<line x1="1249.5" y1="1229.1" x2="1262.5" y2="1229.1" stroke="#505050" stroke-width="3.2"/>
<text x="1236.5" y="1239.1" font-size="30" text-anchor="end" font-weight="bold" fill="#222">15</text>
<line x1="1249.5" y1="1083.3" x2="1262.5" y2="1083.3" stroke="#505050" stroke-width="3.2"/>
<text x="1236.5" y="1093.3" font-size="30" text-anchor="end" font-weight="bold" fill="#222">20</text>
<line x1="1254.5" y1="1593.6" x2="1262.5" y2="1593.6" stroke="#505050" stroke-width="3"/>
<line x1="1254.5" y1="1447.8" x2="1262.5" y2="1447.8" stroke="#505050" stroke-width="3"/>
<line x1="1254.5" y1="1302.0" x2="1262.5" y2="1302.0" stroke="#505050" stroke-width="3"/>
<line x1="1254.5" y1="1156.2" x2="1262.5" y2="1156.2" stroke="#505050" stroke-width="3"/>
<line x1="1254.5" y1="1010.4" x2="1262.5" y2="1010.4" stroke="#505050" stroke-width="3"/>
<line x1="1377.8" y1="1666.5" x2="1377.8" y2="1680.5" stroke="#505050" stroke-width="3"/>
<text x="1372.0" y="1728.0" font-size="35" text-anchor="middle" font-weight="bold" fill="#222">Benzene</text>
<line x1="1609.2" y1="1666.5" x2="1609.2" y2="1680.5" stroke="#505050" stroke-width="3"/>
<text x="1614.0" y="1728.0" font-size="35" text-anchor="middle" font-weight="bold" fill="#222">Methanol</text>
<line x1="1840.8" y1="1666.5" x2="1840.8" y2="1680.5" stroke="#505050" stroke-width="3"/>
<text x="1847.0" y="1728.0" font-size="35" text-anchor="middle" font-weight="bold" fill="#222">Ethanol</text>
<line x1="2073.0" y1="1666.5" x2="2073.0" y2="1680.5" stroke="#505050" stroke-width="3"/>
<text x="2076.5" y="1728.0" font-size="35" text-anchor="middle" font-weight="bold" fill="#222">Formaldehyde</text>
<text x="1179.0" y="1341.0" font-size="43" text-anchor="middle" font-weight="bold" fill="#222" transform="rotate(-90 1179.0 1341.0)">Response (%)</text>
<text x="1132.0" y="935.0" font-size="72" text-anchor="start" font-weight="bold" fill="#222">(d)</text>
<rect x="223.4" y="1778.5" width="157.6" height="696.5" fill="#c9c9c9"/>
<rect x="443.4" y="1778.5" width="158.1" height="696.5" fill="#c9c9c9"/>
<rect x="664.0" y="1778.5" width="158.0" height="696.5" fill="#c9c9c9"/>
<rect x="882.8" y="1778.5" width="159.0" height="696.5" fill="#c9c9c9"/>
<polyline points="167.8,1802.3 168.3,1802.3 168.8,1802.3 169.3,1802.3 169.8,1802.3 170.3,1802.3 170.8,1802.3 171.3,1802.3 171.8,1802.3 172.3,1802.3 172.8,1802.3 173.3,1802.3 173.8,1802.3 174.3,1802.3 174.8,1802.3 175.3,1802.3 175.8,1802.3 176.3,1802.3 176.8,1802.3 177.3,1802.3 177.8,1802.3 178.3,1802.3 178.8,1802.3 179.3,1802.3 179.8,1802.3 180.3,1802.3 180.8,1802.3 181.3,1802.3 181.8,1802.3 182.3,1802.3 182.8,1802.3 183.3,1802.3 183.8,1802.3 184.3,1802.3 184.8,1802.3 185.3,1802.3 185.8,1802.3 186.3,1802.3 186.8,1802.3 187.3,1802.3 187.8,1802.3 188.3,1802.3 188.8,1802.3 189.3,1802.3 189.8,1802.3 190.3,1802.3 190.8,1802.3 191.3,1802.3 191.8,1802.3 192.3,1802.3 192.8,1802.3 193.3,1802.3 193.8,1802.3 194.3,1802.3 194.8,1802.3 195.3,1802.3 195.8,1802.3 196.3,1802.3 196.8,1802.3 197.3,1802.3 197.8,1802.3 198.3,1802.3 198.8,1802.3 199.3,1802.3 199.8,1802.3 200.3,1802.3 200.8,1802.3 201.3,1802.4 201.8,1802.6 202.3,1802.9 202.8,1803.4 203.3,1803.9 203.8,1804.5 204.3,1805.2 204.8,1806.0 205.3,1806.8 205.8,1807.7 206.3,1808.8 206.8,1810.8 207.3,1813.9 207.8,1817.6 208.3,1821.8 208.8,1826.4 209.3,1830.9 209.8,1835.2 210.3,1839.2 210.8,1843.1 211.3,1847.3 211.8,1851.6 212.3,1856.0 212.8,1860.4 213.3,1864.6 213.8,1868.5 214.3,1872.2 214.8,1875.4 215.3,1878.1 215.8,1880.2 216.3,1882.2 216.8,1884.1 217.3,1885.9 217.8,1887.6 218.3,1889.2 218.8,1890.6 219.3,1891.8 219.8,1892.8 220.3,1893.6 220.8,1894.2 221.3,1894.5 221.8,1894.8 222.3,1895.0 222.8,1895.2 223.3,1895.4 223.8,1895.6 224.3,1895.7 224.8,1895.9 225.3,1896.0 225.8,1896.1 226.3,1896.2 226.8,1896.2 227.3,1896.3 227.8,1896.3 228.3,1896.3 228.8,1896.3 229.3,1896.2 229.8,1896.2 230.3,1896.2 230.8,1896.1 231.3,1896.0 231.8,1895.9 232.3,1895.8 232.8,1895.7 233.3,1895.6 233.8,1895.5 234.3,1895.4 234.8,1895.3 235.3,1895.1 235.8,1895.0 236.3,1894.8 236.8,1894.7 237.3,1894.5 237.8,1894.4 238.3,1894.2 238.8,1894.0 239.3,1893.9 239.8,1893.7 240.3,1893.5 240.8,1893.3 241.3,1893.2 241.8,1893.0 242.3,1892.8 242.8,1892.6 243.3,1892.5 243.8,1892.3 244.3,1892.1 244.8,1892.0 245.3,1891.8 245.8,1891.7 246.3,1891.5 246.8,1891.4 247.3,1891.2 247.8,1891.0 248.3,1890.9 248.8,1890.7 249.3,1890.6 249.8,1890.4 250.3,1890.2 250.8,1890.1 251.3,1889.9 251.8,1889.7 252.3,1889.6 252.8,1889.4 253.3,1889.2 253.8,1889.0 254.3,1888.9 254.8,1888.7 255.3,1888.5 255.8,1888.3 256.3,1888.1 256.8,1887.9 257.3,1887.8 257.8,1887.6 258.3,1887.4 258.8,1887.2 259.3,1887.0 259.8,1886.8 260.3,1886.6 260.8,1886.4 261.3,1886.2 261.8,1886.0 262.3,1885.8 262.8,1885.6 263.3,1885.4 263.8,1885.2 264.3,1884.9 264.8,1884.7 265.3,1884.5 265.8,1884.3 266.3,1884.1 266.8,1883.9 267.3,1883.6 267.8,1883.4 268.3,1883.2 268.8,1883.0 269.3,1882.7 269.8,1882.5 270.3,1882.3 270.8,1882.0 271.3,1881.8 271.8,1881.5 272.3,1881.3 272.8,1881.0 273.3,1880.8 273.8,1880.5 274.3,1880.3 274.8,1880.0 275.3,1879.8 275.8,1879.5 276.3,1879.2 276.8,1879.0 277.3,1878.7 277.8,1878.4 278.3,1878.1 278.8,1877.8 279.3,1877.6 279.8,1877.3 280.3,1877.0 280.8,1876.7 281.3,1876.4 281.8,1876.1 282.3,1875.8 282.8,1875.5 283.3,1875.2 283.8,1874.9 284.3,1874.6 284.8,1874.3 285.3,1874.0 285.8,1873.6 286.3,1873.3 286.8,1873.0 287.3,1872.7 287.8,1872.3 288.3,1872.0 288.8,1871.7 289.3,1871.3 289.8,1871.0 290.3,1870.6 290.8,1870.3 291.3,1869.9 291.8,1869.6 292.3,1869.2 292.8,1868.8 293.3,1868.4 293.8,1868.1 294.3,1867.7 294.8,1867.3 295.3,1866.9 295.8,1866.5 296.3,1866.1 296.8,1865.7 297.3,1865.2 297.8,1864.8 298.3,1864.4 298.8,1864.0 299.3,1863.5 299.8,1863.1 300.3,1862.6 300.8,1862.2 301.3,1861.8 301.8,1861.3 302.3,1860.8 302.8,1860.4 303.3,1859.9 303.8,1859.4 304.3,1859.0 304.8,1858.5 305.3,1858.0 305.8,1857.5 306.3,1857.1 306.8,1856.6 307.3,1856.1 307.8,1855.6 308.3,1855.1 308.8,1854.6 309.3,1854.1 309.8,1853.6 310.3,1853.0 310.8,1852.5 311.3,1852.0 311.8,1851.4 312.3,1850.8 312.8,1850.3 313.3,1849.7 313.8,1849.1 314.3,1848.5 314.8,1847.9 315.3,1847.3 315.8,1846.7 316.3,1846.1 316.8,1845.5 317.3,1844.9 317.8,1844.3 318.3,1843.6 318.8,1843.0 319.3,1842.4 319.8,1841.8 320.3,1841.2 320.8,1840.6 321.3,1840.0 321.8,1839.4 322.3,1838.8 322.8,1838.2 323.3,1837.6 323.8,1837.0 324.3,1836.4 324.8,1835.8 325.3,1835.3 325.8,1834.7 326.3,1834.1 326.8,1833.5 327.3,1832.9 327.8,1832.3 328.3,1831.7 328.8,1831.1 329.3,1830.5 329.8,1829.9 330.3,1829.3 330.8,1828.7 331.3,1828.1 331.8,1827.5 332.3,1827.0 332.8,1826.4 333.3,1825.8 333.8,1825.3 334.3,1824.7 334.8,1824.2 335.3,1823.7 335.8,1823.2 336.3,1822.7 336.8,1822.2 337.3,1821.8 337.8,1821.3 338.3,1820.9 338.8,1820.5 339.3,1820.1 339.8,1819.8 340.3,1819.4 340.8,1819.0 341.3,1818.7 341.8,1818.3 342.3,1818.0 342.8,1817.6 343.3,1817.3 343.8,1816.9 344.3,1816.6 344.8,1816.3 345.3,1816.0 345.8,1815.7 346.3,1815.4 346.8,1815.1 347.3,1814.8 347.8,1814.6 348.3,1814.3 348.8,1814.0 349.3,1813.8 349.8,1813.5 350.3,1813.3 350.8,1813.1 351.3,1812.9 351.8,1812.6 352.3,1812.4 352.8,1812.2 353.3,1812.1 353.8,1811.9 354.3,1811.7 354.8,1811.5 355.3,1811.3 355.8,1811.1 356.3,1811.0 356.8,1810.8 357.3,1810.6 357.8,1810.5 358.3,1810.3 358.8,1810.1 359.3,1810.0 359.8,1809.8 360.3,1809.7 360.8,1809.5 361.3,1809.4 361.8,1809.2 362.3,1809.1 362.8,1809.0 363.3,1808.9 363.8,1808.7 364.3,1808.6 364.8,1808.5 365.3,1808.4 365.8,1808.3 366.3,1808.2 366.8,1808.1 367.3,1808.0 367.8,1807.9 368.3,1807.8 368.8,1807.7 369.3,1807.6 369.8,1807.5 370.3,1807.5 370.8,1807.4 371.3,1807.3 371.8,1807.2 372.3,1807.1 372.8,1807.1 373.3,1807.0 373.8,1806.9 374.3,1806.8 374.8,1806.8 375.3,1806.7 375.8,1806.6 376.3,1806.6 376.8,1806.5 377.3,1806.5 377.8,1806.4 378.3,1806.4 378.8,1806.3 379.3,1806.3 379.8,1806.2 380.3,1806.2 380.8,1806.2 381.3,1806.1 381.8,1806.1 382.3,1806.1 382.8,1806.1 383.3,1806.1 383.8,1806.1 384.3,1806.0 384.8,1806.0 385.3,1806.0 385.8,1806.0 386.3,1806.0 386.8,1806.0 387.3,1806.0 387.8,1805.9 388.3,1805.9 388.8,1805.9 389.3,1805.9 389.8,1805.9 390.3,1805.9 390.8,1805.9 391.3,1805.9 391.8,1805.9 392.3,1805.8 392.8,1805.8 393.3,1805.8 393.8,1805.8 394.3,1805.8 394.8,1805.8 395.3,1805.8 395.8,1805.8 396.3,1805.8 396.8,1805.7 397.3,1805.7 397.8,1805.7 398.3,1805.7 398.8,1805.7 399.3,1805.7 399.8,1805.7 400.3,1805.7 400.8,1805.7 401.3,1805.7 401.8,1805.7 402.3,1805.7 402.8,1805.6 403.3,1805.6 403.8,1805.6 404.3,1805.6 404.8,1805.6 405.3,1805.6 405.8,1805.6 406.3,1805.6 406.8,1805.6 407.3,1805.6 407.8,1805.6 408.3,1805.6 408.8,1805.6 409.3,1805.6 409.8,1805.6 410.3,1805.6 410.8,1805.6 411.3,1805.6 411.8,1805.5 412.3,1805.5 412.8,1805.5 413.3,1805.5 413.8,1805.5 414.3,1805.5 414.8,1805.5 415.3,1805.5 415.8,1805.5 416.3,1805.5 416.8,1805.5 417.3,1805.5 417.8,1805.5 418.3,1805.5 418.8,1805.5 419.3,1805.5 419.8,1805.5 420.3,1805.5 420.8,1805.5 421.3,1805.5 421.8,1805.5 422.3,1805.5 422.8,1805.5 423.3,1805.5 423.8,1805.5 424.3,1805.7 424.8,1805.9 425.3,1806.2 425.8,1806.6 426.3,1807.1 426.8,1807.7 427.3,1808.4 427.8,1809.1 428.3,1809.9 428.8,1810.8 429.3,1812.3 429.8,1815.1 430.3,1819.1 430.8,1823.9 431.3,1829.2 431.8,1834.7 432.3,1840.0 432.8,1844.9 433.3,1849.2 433.8,1853.8 434.3,1858.5 434.8,1863.3 435.3,1867.9 435.8,1872.0 436.3,1875.5 436.8,1878.2 437.3,1880.0 437.8,1881.5 438.3,1882.9 438.8,1884.2 439.3,1885.2 439.8,1886.2 440.3,1886.9 440.8,1887.4 441.3,1887.6 441.8,1887.8 442.3,1888.0 442.8,1888.2 443.3,1888.3 443.8,1888.4 444.3,1888.6 444.8,1888.7 445.3,1888.8 445.8,1888.8 446.3,1888.9 446.8,1888.9 447.3,1889.0 447.8,1889.0 448.3,1889.0 448.8,1889.0 449.3,1889.0 449.8,1889.0 450.3,1888.9 450.8,1888.9 451.3,1888.8 451.8,1888.8 452.3,1888.7 452.8,1888.7 453.3,1888.6 453.8,1888.5 454.3,1888.4 454.8,1888.3 455.3,1888.2 455.8,1888.1 456.3,1888.0 456.8,1887.9 457.3,1887.8 457.8,1887.7 458.3,1887.6 458.8,1887.5 459.3,1887.4 459.8,1887.3 460.3,1887.2 460.8,1887.0 461.3,1886.9 461.8,1886.8 462.3,1886.7 462.8,1886.6 463.3,1886.5 463.8,1886.4 464.3,1886.2 464.8,1886.1 465.3,1886.0 465.8,1885.9 466.3,1885.8 466.8,1885.7 467.3,1885.5 467.8,1885.4 468.3,1885.3 468.8,1885.2 469.3,1885.0 469.8,1884.9 470.3,1884.8 470.8,1884.6 471.3,1884.5 471.8,1884.3 472.3,1884.2 472.8,1884.1 473.3,1883.9 473.8,1883.8 474.3,1883.6 474.8,1883.4 475.3,1883.3 475.8,1883.1 476.3,1883.0 476.8,1882.8 477.3,1882.6 477.8,1882.5 478.3,1882.3 478.8,1882.1 479.3,1882.0 479.8,1881.8 480.3,1881.6 480.8,1881.4 481.3,1881.3 481.8,1881.1 482.3,1880.9 482.8,1880.7 483.3,1880.5 483.8,1880.3 484.3,1880.2 484.8,1880.0 485.3,1879.8 485.8,1879.6 486.3,1879.4 486.8,1879.2 487.3,1879.0 487.8,1878.8 488.3,1878.6 488.8,1878.4 489.3,1878.2 489.8,1878.0 490.3,1877.8 490.8,1877.5 491.3,1877.3 491.8,1877.1 492.3,1876.9 492.8,1876.6 493.3,1876.4 493.8,1876.2 494.3,1875.9 494.8,1875.7 495.3,1875.5 495.8,1875.2 496.3,1875.0 496.8,1874.7 497.3,1874.5 497.8,1874.2 498.3,1874.0 498.8,1873.7 499.3,1873.4 499.8,1873.2 500.3,1872.9 500.8,1872.6 501.3,1872.4 501.8,1872.1 502.3,1871.8 502.8,1871.5 503.3,1871.3 503.8,1871.0 504.3,1870.7 504.8,1870.4 505.3,1870.1 505.8,1869.8 506.3,1869.5 506.8,1869.2 507.3,1868.9 507.8,1868.6 508.3,1868.3 508.8,1868.0 509.3,1867.7 509.8,1867.4 510.3,1867.1 510.8,1866.8 511.3,1866.4 511.8,1866.1 512.3,1865.8 512.8,1865.4 513.3,1865.1 513.8,1864.7 514.3,1864.4 514.8,1864.0 515.3,1863.6 515.8,1863.3 516.3,1862.9 516.8,1862.5 517.3,1862.2 517.8,1861.8 518.3,1861.4 518.8,1861.0 519.3,1860.6 519.8,1860.2 520.3,1859.9 520.8,1859.5 521.3,1859.1 521.8,1858.7 522.3,1858.3 522.8,1857.9 523.3,1857.5 523.8,1857.1 524.3,1856.7 524.8,1856.3 525.3,1855.9 525.8,1855.5 526.3,1855.1 526.8,1854.7 527.3,1854.3 527.8,1853.9 528.3,1853.4 528.8,1853.0 529.3,1852.6 529.8,1852.2 530.3,1851.8 530.8,1851.4 531.3,1851.0 531.8,1850.6 532.3,1850.2 532.8,1849.8 533.3,1849.4 533.8,1848.9 534.3,1848.5 534.8,1848.1 535.3,1847.7 535.8,1847.2 536.3,1846.8 536.8,1846.3 537.3,1845.9 537.8,1845.5 538.3,1845.0 538.8,1844.6 539.3,1844.1 539.8,1843.7 540.3,1843.3 540.8,1842.8 541.3,1842.4 541.8,1841.9 542.3,1841.5 542.8,1841.1 543.3,1840.6 543.8,1840.2 544.3,1839.8 544.8,1839.3 545.3,1838.9 545.8,1838.5 546.3,1838.0 546.8,1837.6 547.3,1837.2 547.8,1836.8 548.3,1836.3 548.8,1835.9 549.3,1835.5 549.8,1835.1 550.3,1834.7 550.8,1834.3 551.3,1833.9 551.8,1833.4 552.3,1833.0 552.8,1832.6 553.3,1832.2 553.8,1831.8 554.3,1831.3 554.8,1830.9 555.3,1830.5 555.8,1830.1 556.3,1829.7 556.8,1829.2 557.3,1828.8 557.8,1828.4 558.3,1828.0 558.8,1827.6 559.3,1827.2 559.8,1826.8 560.3,1826.4 560.8,1826.0 561.3,1825.6 561.8,1825.2 562.3,1824.8 562.8,1824.4 563.3,1824.1 563.8,1823.7 564.3,1823.3 564.8,1823.0 565.3,1822.6 565.8,1822.3 566.3,1821.9 566.8,1821.6 567.3,1821.3 567.8,1821.0 568.3,1820.7 568.8,1820.4 569.3,1820.1 569.8,1819.8 570.3,1819.5 570.8,1819.2 571.3,1818.9 571.8,1818.6 572.3,1818.3 572.8,1818.0 573.3,1817.7 573.8,1817.5 574.3,1817.2 574.8,1816.9 575.3,1816.6 575.8,1816.4 576.3,1816.1 576.8,1815.9 577.3,1815.6 577.8,1815.4 578.3,1815.1 578.8,1814.9 579.3,1814.6 579.8,1814.4 580.3,1814.2 580.8,1814.0 581.3,1813.7 581.8,1813.5 582.3,1813.3 582.8,1813.1 583.3,1812.9 583.8,1812.8 584.3,1812.6 584.8,1812.4 585.3,1812.2 585.8,1812.1 586.3,1811.9 586.8,1811.7 587.3,1811.6 587.8,1811.4 588.3,1811.3 588.8,1811.1 589.3,1811.0 589.8,1810.9 590.3,1810.7 590.8,1810.6 591.3,1810.4 591.8,1810.3 592.3,1810.2 592.8,1810.1 593.3,1809.9 593.8,1809.8 594.3,1809.7 594.8,1809.6 595.3,1809.5 595.8,1809.4 596.3,1809.3 596.8,1809.1 597.3,1809.0 597.8,1808.9 598.3,1808.8 598.8,1808.7 599.3,1808.6 599.8,1808.5 600.3,1808.4 600.8,1808.3 601.3,1808.2 601.8,1808.1 602.3,1808.0 602.8,1807.9 603.3,1807.8 603.8,1807.7 604.3,1807.6 604.8,1807.5 605.3,1807.4 605.8,1807.3 606.3,1807.2 606.8,1807.2 607.3,1807.1 607.8,1807.0 608.3,1806.9 608.8,1806.8 609.3,1806.7 609.8,1806.6 610.3,1806.5 610.8,1806.5 611.3,1806.4 611.8,1806.3 612.3,1806.2 612.8,1806.2 613.3,1806.1 613.8,1806.0 614.3,1806.0 614.8,1805.9 615.3,1805.8 615.8,1805.8 616.3,1805.7 616.8,1805.7 617.3,1805.7 617.8,1805.6 618.3,1805.6 618.8,1805.6 619.3,1805.5 619.8,1805.5 620.3,1805.5 620.8,1805.5 621.3,1805.5 621.8,1805.4 622.3,1805.4 622.8,1805.4 623.3,1805.4 623.8,1805.4 624.3,1805.4 624.8,1805.3 625.3,1805.3 625.8,1805.3 626.3,1805.3 626.8,1805.3 627.3,1805.3 627.8,1805.3 628.3,1805.3 628.8,1805.2 629.3,1805.2 629.8,1805.2 630.3,1805.2 630.8,1805.2 631.3,1805.2 631.8,1805.2 632.3,1805.2 632.8,1805.2 633.3,1805.1 633.8,1805.1 634.3,1805.1 634.8,1805.1 635.3,1805.1 635.8,1805.1 636.3,1805.1 636.8,1805.1 637.3,1805.1 637.8,1805.1 638.3,1805.1 638.8,1805.1 639.3,1805.0 639.8,1805.0 640.3,1805.0 640.8,1805.0 641.3,1805.0 641.8,1805.0 642.3,1805.0 642.8,1805.0 643.3,1805.0 643.8,1805.0 644.3,1805.0 644.8,1805.0 645.3,1805.0 645.8,1805.0 646.3,1805.0 646.8,1805.0 647.3,1805.0 647.8,1805.1 648.3,1805.3 648.8,1805.6 649.3,1806.1 649.8,1806.7 650.3,1807.3 650.8,1808.1 651.3,1809.0 651.8,1810.0 652.3,1811.0 652.8,1812.8 653.3,1816.0 653.8,1820.2 654.3,1825.1 654.8,1830.6 655.3,1836.2 655.8,1841.7 656.3,1846.8 656.8,1851.2 657.3,1855.1 657.8,1859.1 658.3,1863.0 658.8,1866.8 659.3,1870.4 659.8,1873.7 660.3,1876.5 660.8,1878.7 661.3,1880.4 661.8,1881.9 662.3,1883.3 662.8,1884.7 663.3,1885.8 663.8,1886.8 664.3,1887.5 664.8,1888.0 665.3,1888.2 665.8,1888.3 666.3,1888.4 666.8,1888.5 667.3,1888.6 667.8,1888.7 668.3,1888.7 668.8,1888.8 669.3,1888.9 669.8,1888.9 670.3,1888.9 670.8,1889.0 671.3,1889.0 671.8,1889.0 672.3,1889.0 672.8,1889.0 673.3,1889.0 673.8,1888.9 674.3,1888.9 674.8,1888.8 675.3,1888.8 675.8,1888.7 676.3,1888.6 676.8,1888.6 677.3,1888.5 677.8,1888.4 678.3,1888.3 678.8,1888.2 679.3,1888.0 679.8,1887.9 680.3,1887.8 680.8,1887.7 681.3,1887.5 681.8,1887.4 682.3,1887.3 682.8,1887.1 683.3,1887.0 683.8,1886.9 684.3,1886.7 684.8,1886.6 685.3,1886.4 685.8,1886.3 686.3,1886.1 686.8,1886.0 687.3,1885.8 687.8,1885.7 688.3,1885.5 688.8,1885.4 689.3,1885.3 689.8,1885.1 690.3,1885.0 690.8,1884.9 691.3,1884.8 691.8,1884.6 692.3,1884.5 692.8,1884.4 693.3,1884.3 693.8,1884.1 694.3,1884.0 694.8,1883.9 695.3,1883.8 695.8,1883.7 696.3,1883.5 696.8,1883.4 697.3,1883.3 697.8,1883.2 698.3,1883.0 698.8,1882.9 699.3,1882.8 699.8,1882.7 700.3,1882.5 700.8,1882.4 701.3,1882.3 701.8,1882.2 702.3,1882.0 702.8,1881.9 703.3,1881.8 703.8,1881.6 704.3,1881.5 704.8,1881.4 705.3,1881.2 705.8,1881.1 706.3,1881.0 706.8,1880.8 707.3,1880.7 707.8,1880.5 708.3,1880.4 708.8,1880.2 709.3,1880.1 709.8,1879.9 710.3,1879.8 710.8,1879.6 711.3,1879.5 711.8,1879.3 712.3,1879.2 712.8,1879.0 713.3,1878.8 713.8,1878.7 714.3,1878.5 714.8,1878.3 715.3,1878.1 715.8,1878.0 716.3,1877.8 716.8,1877.6 717.3,1877.4 717.8,1877.2 718.3,1877.0 718.8,1876.8 719.3,1876.6 719.8,1876.4 720.3,1876.2 720.8,1876.0 721.3,1875.7 721.8,1875.5 722.3,1875.3 722.8,1875.1 723.3,1874.8 723.8,1874.6 724.3,1874.4 724.8,1874.1 725.3,1873.9 725.8,1873.6 726.3,1873.4 726.8,1873.1 727.3,1872.9 727.8,1872.6 728.3,1872.3 728.8,1872.1 729.3,1871.8 729.8,1871.5 730.3,1871.3 730.8,1871.0 731.3,1870.7 731.8,1870.4 732.3,1870.2 732.8,1869.9 733.3,1869.6 733.8,1869.3 734.3,1869.0 734.8,1868.7 735.3,1868.4 735.8,1868.2 736.3,1867.9 736.8,1867.6 737.3,1867.3 737.8,1867.0 738.3,1866.7 738.8,1866.4 739.3,1866.1 739.8,1865.8 740.3,1865.4 740.8,1865.1 741.3,1864.8 741.8,1864.5 742.3,1864.1 742.8,1863.8 743.3,1863.5 743.8,1863.1 744.3,1862.8 744.8,1862.4 745.3,1862.1 745.8,1861.7 746.3,1861.4 746.8,1861.0 747.3,1860.7 747.8,1860.3 748.3,1859.9 748.8,1859.6 749.3,1859.2 749.8,1858.8 750.3,1858.4 750.8,1858.0 751.3,1857.7 751.8,1857.3 752.3,1856.9 752.8,1856.5 753.3,1856.1 753.8,1855.7 754.3,1855.3 754.8,1854.9 755.3,1854.5 755.8,1854.1 756.3,1853.7 756.8,1853.3 757.3,1852.9 757.8,1852.5 758.3,1852.1 758.8,1851.7 759.3,1851.3 759.8,1850.8 760.3,1850.4 760.8,1850.0 761.3,1849.5 761.8,1849.1 762.3,1848.7 762.8,1848.2 763.3,1847.8 763.8,1847.3 764.3,1846.9 764.8,1846.4 765.3,1845.9 765.8,1845.5 766.3,1845.0 766.8,1844.5 767.3,1844.1 767.8,1843.6 768.3,1843.1 768.8,1842.6 769.3,1842.1 769.8,1841.7 770.3,1841.2 770.8,1840.7 771.3,1840.2 771.8,1839.7 772.3,1839.2 772.8,1838.7 773.3,1838.2 773.8,1837.7 774.3,1837.2 774.8,1836.6 775.3,1836.1 775.8,1835.5 776.3,1834.9 776.8,1834.3 777.3,1833.7 777.8,1833.2 778.3,1832.6 778.8,1832.0 779.3,1831.4 779.8,1830.8 780.3,1830.2 780.8,1829.6 781.3,1829.0 781.8,1828.4 782.3,1827.8 782.8,1827.3 783.3,1826.7 783.8,1826.2 784.3,1825.7 784.8,1825.2 785.3,1824.7 785.8,1824.2 786.3,1823.7 786.8,1823.3 787.3,1822.9 787.8,1822.4 788.3,1822.0 788.8,1821.6 789.3,1821.2 789.8,1820.8 790.3,1820.3 790.8,1819.9 791.3,1819.5 791.8,1819.1 792.3,1818.7 792.8,1818.3 793.3,1818.0 793.8,1817.6 794.3,1817.2 794.8,1816.9 795.3,1816.5 795.8,1816.2 796.3,1815.9 796.8,1815.6 797.3,1815.3 797.8,1815.0 798.3,1814.8 798.8,1814.5 799.3,1814.3 799.8,1814.1 800.3,1813.9 800.8,1813.7 801.3,1813.5 801.8,1813.3 802.3,1813.2 802.8,1813.0 803.3,1812.9 803.8,1812.7 804.3,1812.6 804.8,1812.4 805.3,1812.3 805.8,1812.2 806.3,1812.0 806.8,1811.9 807.3,1811.8 807.8,1811.7 808.3,1811.6 808.8,1811.4 809.3,1811.3 809.8,1811.2 810.3,1811.1 810.8,1811.0 811.3,1811.0 811.8,1810.9 812.3,1810.8 812.8,1810.7 813.3,1810.6 813.8,1810.5 814.3,1810.5 814.8,1810.4 815.3,1810.3 815.8,1810.3 816.3,1810.2 816.8,1810.1 817.3,1810.0 817.8,1810.0 818.3,1809.9 818.8,1809.8 819.3,1809.8 819.8,1809.7 820.3,1809.7 820.8,1809.6 821.3,1809.5 821.8,1809.5 822.3,1809.4 822.8,1809.4 823.3,1809.3 823.8,1809.3 824.3,1809.3 824.8,1809.2 825.3,1809.2 825.8,1809.2 826.3,1809.1 826.8,1809.1 827.3,1809.1 827.8,1809.1 828.3,1809.1 828.8,1809.1 829.3,1809.1 829.8,1809.1 830.3,1809.1 830.8,1809.1 831.3,1809.0 831.8,1809.0 832.3,1809.0 832.8,1809.0 833.3,1809.0 833.8,1809.0 834.3,1809.0 834.8,1809.0 835.3,1809.0 835.8,1809.0 836.3,1809.0 836.8,1809.0 837.3,1809.0 837.8,1809.0 838.3,1809.0 838.8,1808.9 839.3,1808.9 839.8,1808.9 840.3,1808.9 840.8,1808.9 841.3,1808.9 841.8,1808.9 842.3,1808.9 842.8,1808.9 843.3,1808.9 843.8,1808.9 844.3,1808.9 844.8,1808.9 845.3,1808.9 845.8,1808.9 846.3,1808.9 846.8,1808.9 847.3,1808.9 847.8,1808.9 848.3,1808.9 848.8,1808.9 849.3,1808.9 849.8,1808.9 850.3,1808.9 850.8,1808.8 851.3,1808.8 851.8,1808.8 852.3,1808.8 852.8,1808.8 853.3,1808.8 853.8,1808.8 854.3,1808.8 854.8,1808.8 855.3,1808.8 855.8,1808.8 856.3,1808.8 856.8,1808.8 857.3,1808.8 857.8,1808.8 858.3,1808.8 858.8,1808.8 859.3,1808.8 859.8,1808.8 860.3,1808.8 860.8,1808.8 861.3,1808.8 861.8,1808.8 862.3,1808.8 862.8,1808.8 863.3,1808.8 863.8,1808.8 864.3,1808.8 864.8,1808.8 865.3,1808.8 865.8,1808.8 866.3,1808.8 866.8,1808.8 867.3,1808.8 867.8,1808.8 868.3,1809.1 868.8,1809.5 869.3,1810.1 869.8,1810.9 870.3,1811.9 870.8,1813.0 871.3,1814.3 871.8,1815.9 872.3,1819.4 872.8,1824.7 873.3,1831.2 873.8,1838.1 874.3,1844.9 874.8,1850.9 875.3,1856.3 875.8,1862.0 876.3,1867.9 876.8,1873.4 877.3,1878.3 877.8,1882.1 878.3,1884.5 878.8,1885.7 879.3,1886.8 879.8,1887.7 880.3,1888.4 880.8,1889.1 881.3,1889.6 881.8,1890.0 882.3,1890.2 882.8,1890.4 883.3,1890.5 883.8,1890.6 884.3,1890.7 884.8,1890.8 885.3,1890.9 885.8,1891.0 886.3,1891.1 886.8,1891.2 887.3,1891.3 887.8,1891.3 888.3,1891.4 888.8,1891.5 889.3,1891.5 889.8,1891.6 890.3,1891.6 890.8,1891.6 891.3,1891.7 891.8,1891.7 892.3,1891.7 892.8,1891.7 893.3,1891.7 893.8,1891.7 894.3,1891.7 894.8,1891.7 895.3,1891.7 895.8,1891.7 896.3,1891.7 896.8,1891.6 897.3,1891.6 897.8,1891.6 898.3,1891.6 898.8,1891.5 899.3,1891.5 899.8,1891.5 900.3,1891.4 900.8,1891.4 901.3,1891.4 901.8,1891.3 902.3,1891.3 902.8,1891.2 903.3,1891.2 903.8,1891.1 904.3,1891.1 904.8,1891.0 905.3,1891.0 905.8,1890.9 906.3,1890.9 906.8,1890.8 907.3,1890.8 907.8,1890.7 908.3,1890.7 908.8,1890.6 909.3,1890.5 909.8,1890.5 910.3,1890.4 910.8,1890.4 911.3,1890.3 911.8,1890.2 912.3,1890.2 912.8,1890.1 913.3,1890.1 913.8,1890.0 914.3,1889.9 914.8,1889.9 915.3,1889.8 915.8,1889.7 916.3,1889.7 916.8,1889.6 917.3,1889.5 917.8,1889.4 918.3,1889.4 918.8,1889.3 919.3,1889.2 919.8,1889.1 920.3,1889.0 920.8,1888.9 921.3,1888.8 921.8,1888.7 922.3,1888.6 922.8,1888.5 923.3,1888.4 923.8,1888.3 924.3,1888.2 924.8,1888.1 925.3,1888.0 925.8,1887.9 926.3,1887.8 926.8,1887.6 927.3,1887.5 927.8,1887.4 928.3,1887.3 928.8,1887.1 929.3,1887.0 929.8,1886.9 930.3,1886.8 930.8,1886.6 931.3,1886.5 931.8,1886.4 932.3,1886.2 932.8,1886.1 933.3,1885.9 933.8,1885.8 934.3,1885.7 934.8,1885.5 935.3,1885.4 935.8,1885.2 936.3,1885.1 936.8,1884.9 937.3,1884.8 937.8,1884.6 938.3,1884.5 938.8,1884.3 939.3,1884.1 939.8,1884.0 940.3,1883.8 940.8,1883.6 941.3,1883.5 941.8,1883.3 942.3,1883.1 942.8,1882.9 943.3,1882.7 943.8,1882.5 944.3,1882.3 944.8,1882.1 945.3,1881.9 945.8,1881.7 946.3,1881.5 946.8,1881.3 947.3,1881.1 947.8,1880.9 948.3,1880.7 948.8,1880.4 949.3,1880.2 949.8,1880.0 950.3,1879.7 950.8,1879.5 951.3,1879.3 951.8,1879.0 952.3,1878.8 952.8,1878.6 953.3,1878.3 953.8,1878.1 954.3,1877.8 954.8,1877.6 955.3,1877.3 955.8,1877.0 956.3,1876.8 956.8,1876.5 957.3,1876.3 957.8,1876.0 958.3,1875.7 958.8,1875.5 959.3,1875.2 959.8,1874.9 960.3,1874.6 960.8,1874.3 961.3,1874.0 961.8,1873.7 962.3,1873.4 962.8,1873.1 963.3,1872.8 963.8,1872.5 964.3,1872.1 964.8,1871.8 965.3,1871.5 965.8,1871.1 966.3,1870.8 966.8,1870.4 967.3,1870.1 967.8,1869.7 968.3,1869.3 968.8,1869.0 969.3,1868.6 969.8,1868.2 970.3,1867.8 970.8,1867.5 971.3,1867.1 971.8,1866.7 972.3,1866.3 972.8,1865.9 973.3,1865.5 973.8,1865.1 974.3,1864.7 974.8,1864.3 975.3,1863.9 975.8,1863.5 976.3,1863.1 976.8,1862.7 977.3,1862.3 977.8,1861.9 978.3,1861.5 978.8,1861.1 979.3,1860.7 979.8,1860.3 980.3,1859.9 980.8,1859.4 981.3,1859.0 981.8,1858.6 982.3,1858.1 982.8,1857.7 983.3,1857.2 983.8,1856.8 984.3,1856.3 984.8,1855.9 985.3,1855.4 985.8,1855.0 986.3,1854.5 986.8,1854.0 987.3,1853.6 987.8,1853.1 988.3,1852.6 988.8,1852.1 989.3,1851.7 989.8,1851.2 990.3,1850.7 990.8,1850.2 991.3,1849.8 991.8,1849.3 992.3,1848.8 992.8,1848.3 993.3,1847.8 993.8,1847.4 994.3,1846.9 994.8,1846.4 995.3,1845.9 995.8,1845.4 996.3,1844.9 996.8,1844.4 997.3,1843.9 997.8,1843.4 998.3,1842.9 998.8,1842.4 999.3,1841.8 999.8,1841.3 1000.3,1840.8 1000.8,1840.2 1001.3,1839.7 1001.8,1839.2 1002.3,1838.7 1002.8,1838.1 1003.3,1837.6 1003.8,1837.1 1004.3,1836.5 1004.8,1836.0 1005.3,1835.5 1005.8,1835.0 1006.3,1834.5 1006.8,1834.0 1007.3,1833.5 1007.8,1833.0 1008.3,1832.6 1008.8,1832.1 1009.3,1831.7 1009.8,1831.2 1010.3,1830.8 1010.8,1830.4 1011.3,1830.0 1011.8,1829.5 1012.3,1829.1 1012.8,1828.7 1013.3,1828.3 1013.8,1827.9 1014.3,1827.5 1014.8,1827.1 1015.3,1826.7 1015.8,1826.4 1016.3,1826.0 1016.8,1825.6 1017.3,1825.2 1017.8,1824.9 1018.3,1824.5 1018.8,1824.1 1019.3,1823.8 1019.8,1823.5 1020.3,1823.1 1020.8,1822.8 1021.3,1822.5 1021.8,1822.2 1022.3,1821.9 1022.8,1821.6 1023.3,1821.3 1023.8,1821.1 1024.3,1820.8 1024.8,1820.6 1025.3,1820.3 1025.8,1820.1 1026.3,1819.8 1026.8,1819.6 1027.3,1819.3 1027.8,1819.1 1028.3,1818.9 1028.8,1818.6 1029.3,1818.4 1029.8,1818.2 1030.3,1818.0 1030.8,1817.8 1031.3,1817.6 1031.8,1817.4 1032.3,1817.3 1032.8,1817.1 1033.3,1817.0 1033.8,1816.8 1034.3,1816.7 1034.8,1816.6 1035.3,1816.5 1035.8,1816.5 1036.3,1816.4 1036.8,1816.4 1037.3,1816.3 1037.8,1816.3 1038.3,1816.2 1038.8,1816.2 1039.3,1816.1 1039.8,1816.1 1040.3,1816.0 1040.8,1816.0 1041.3,1816.0 1041.8,1815.9 1042.3,1815.9 1042.8,1815.8 1043.3,1815.8 1043.8,1815.8 1044.3,1815.8 1044.8,1815.7 1045.3,1815.7 1045.8,1815.7 1046.3,1815.6 1046.8,1815.6 1047.3,1815.6 1047.8,1815.6 1048.3,1815.5 1048.8,1815.5 1049.3,1815.5 1049.8,1815.5 1050.3,1815.4 1050.8,1815.4 1051.3,1815.4 1051.8,1815.4 1052.3,1815.4 1052.8,1815.3 1053.3,1815.3 1053.8,1815.3 1054.3,1815.3 1054.8,1815.2 1055.3,1815.2 1055.8,1815.2 1056.3,1815.2 1056.8,1815.1 1057.3,1815.1 1057.8,1815.1 1058.3,1815.1 1058.8,1815.0 1059.3,1815.0 1059.8,1815.0 1060.3,1815.0 1060.8,1814.9 1061.3,1814.9 1061.8,1814.9 1062.3,1814.8 1062.8,1814.8 1063.3,1814.8 1063.8,1814.8 1064.3,1814.7 1064.8,1814.7 1065.3,1814.7 1065.8,1814.7 1066.3,1814.6 1066.8,1814.6 1067.3,1814.6 1067.8,1814.6 1068.3,1814.6 1068.8,1814.5 1069.3,1814.5 1069.8,1814.5 1070.3,1814.5 1070.8,1814.4 1071.3,1814.4 1071.8,1814.4 1072.3,1814.4 1072.8,1814.3 1073.3,1814.3 1073.8,1814.3 1074.3,1814.3 1074.8,1814.3 1075.3,1814.2 1075.8,1814.2 1076.3,1814.2 1076.8,1814.2 1077.3,1814.1 1077.8,1814.1 1078.3,1814.1 1078.8,1814.1 1079.3,1814.1 1079.8,1814.0 1080.3,1814.0 1080.8,1814.0 1081.3,1814.0 1081.8,1813.9 1082.3,1813.9 1082.8,1813.9 1083.3,1813.9 1083.8,1813.8 1084.3,1813.8 1084.8,1813.8 1085.3,1813.8 1085.8,1813.8 1086.3,1813.7 1086.8,1813.7 1087.3,1813.7 1087.8,1813.7 1088.3,1813.6 1088.8,1813.6 1089.3,1813.6 1089.8,1813.6 1090.3,1813.6 1090.8,1813.5 1091.3,1813.5 1091.8,1813.5 1092.3,1813.5 1092.8,1813.4 1093.3,1813.4 1093.8,1813.4 1094.3,1813.4 1094.8,1813.4 1095.3,1813.3 1095.8,1813.3 1096.3,1813.3 1096.8,1813.3 1097.3,1813.2 1097.8,1813.2 1098.3,1813.2 1098.8,1813.2 1099.3,1813.2 1099.8,1813.1 1100.3,1813.1 1100.8,1813.1 1101.3,1813.1 1101.8,1813.1 1102.3,1813.0 1102.8,1813.0 1103.3,1813.0 1103.8,1813.0 1104.3,1812.9 1104.8,1812.9 1105.3,1812.9 1105.4,1812.9" fill="none" stroke="#4a4a4a" stroke-width="2.8" stroke-linejoin="round"/>
<polyline points="167.8,1966.3 168.3,1966.3 168.8,1966.3 169.3,1966.3 169.8,1966.3 170.3,1966.3 170.8,1966.3 171.3,1966.3 171.8,1966.3 172.3,1966.3 172.8,1966.3 173.3,1966.3 173.8,1966.3 174.3,1966.3 174.8,1966.3 175.3,1966.3 175.8,1966.3 176.3,1966.3 176.8,1966.3 177.3,1966.3 177.8,1966.3 178.3,1966.3 178.8,1966.3 179.3,1966.3 179.8,1966.3 180.3,1966.3 180.8,1966.3 181.3,1966.3 181.8,1966.3 182.3,1966.3 182.8,1966.3 183.3,1966.3 183.8,1966.3 184.3,1966.3 184.8,1966.3 185.3,1966.3 185.8,1966.3 186.3,1966.3 186.8,1966.3 187.3,1966.3 187.8,1966.3 188.3,1966.3 188.8,1966.3 189.3,1966.3 189.8,1966.3 190.3,1966.3 190.8,1966.3 191.3,1966.3 191.8,1966.3 192.3,1966.3 192.8,1966.3 193.3,1966.3 193.8,1966.3 194.3,1966.3 194.8,1966.3 195.3,1966.3 195.8,1966.3 196.3,1966.3 196.8,1966.3 197.3,1966.3 197.8,1966.3 198.3,1966.3 198.8,1966.5 199.3,1966.7 199.8,1967.1 200.3,1967.5 200.8,1968.1 201.3,1968.8 201.8,1969.5 202.3,1970.4 202.8,1971.4 203.3,1972.4 203.8,1974.9 204.3,1979.7 204.8,1986.2 205.3,1993.6 205.8,2001.4 206.3,2008.7 206.8,2015.0 207.3,2020.2 207.8,2025.4 208.3,2030.5 208.8,2035.5 209.3,2040.3 209.8,2044.8 210.3,2048.9 210.8,2052.7 211.3,2055.9 211.8,2058.8 212.3,2061.5 212.8,2064.1 213.3,2066.6 213.8,2068.9 214.3,2071.1 214.8,2073.1 215.3,2074.9 215.8,2076.4 216.3,2077.7 216.8,2078.7 217.3,2079.4 217.8,2080.1 218.3,2080.8 218.8,2081.4 219.3,2082.0 219.8,2082.5 220.3,2082.9 220.8,2083.3 221.3,2083.6 221.8,2083.8 222.3,2083.9 222.8,2083.9 223.3,2083.9 223.8,2083.9 224.3,2083.9 224.8,2083.8 225.3,2083.8 225.8,2083.8 226.3,2083.7 226.8,2083.7 227.3,2083.6 227.8,2083.6 228.3,2083.5 228.8,2083.5 229.3,2083.4 229.8,2083.4 230.3,2083.3 230.8,2083.3 231.3,2083.2 231.8,2083.1 232.3,2083.1 232.8,2083.0 233.3,2082.9 233.8,2082.8 234.3,2082.7 234.8,2082.6 235.3,2082.5 235.8,2082.3 236.3,2082.2 236.8,2082.1 237.3,2081.9 237.8,2081.8 238.3,2081.6 238.8,2081.4 239.3,2081.3 239.8,2081.1 240.3,2080.9 240.8,2080.7 241.3,2080.5 241.8,2080.3 242.3,2080.1 242.8,2079.9 243.3,2079.7 243.8,2079.5 244.3,2079.3 244.8,2079.1 245.3,2078.9 245.8,2078.7 246.3,2078.5 246.8,2078.3 247.3,2078.1 247.8,2077.9 248.3,2077.6 248.8,2077.4 249.3,2077.2 249.8,2077.0 250.3,2076.8 250.8,2076.5 251.3,2076.3 251.8,2076.1 252.3,2075.8 252.8,2075.6 253.3,2075.4 253.8,2075.1 254.3,2074.8 254.8,2074.6 255.3,2074.3 255.8,2074.1 256.3,2073.8 256.8,2073.5 257.3,2073.2 257.8,2073.0 258.3,2072.7 258.8,2072.4 259.3,2072.1 259.8,2071.8 260.3,2071.5 260.8,2071.2 261.3,2070.9 261.8,2070.6 262.3,2070.2 262.8,2069.9 263.3,2069.6 263.8,2069.3 264.3,2069.0 264.8,2068.6 265.3,2068.3 265.8,2067.9 266.3,2067.6 266.8,2067.3 267.3,2066.9 267.8,2066.6 268.3,2066.2 268.8,2065.8 269.3,2065.5 269.8,2065.1 270.3,2064.7 270.8,2064.3 271.3,2063.9 271.8,2063.5 272.3,2063.1 272.8,2062.7 273.3,2062.2 273.8,2061.8 274.3,2061.4 274.8,2060.9 275.3,2060.5 275.8,2060.0 276.3,2059.5 276.8,2059.1 277.3,2058.6 277.8,2058.1 278.3,2057.6 278.8,2057.2 279.3,2056.7 279.8,2056.2 280.3,2055.7 280.8,2055.2 281.3,2054.7 281.8,2054.1 282.3,2053.6 282.8,2053.1 283.3,2052.6 283.8,2052.0 284.3,2051.5 284.8,2051.0 285.3,2050.4 285.8,2049.9 286.3,2049.3 286.8,2048.8 287.3,2048.2 287.8,2047.7 288.3,2047.1 288.8,2046.5 289.3,2045.9 289.8,2045.2 290.3,2044.6 290.8,2044.0 291.3,2043.3 291.8,2042.7 292.3,2042.0 292.8,2041.4 293.3,2040.7 293.8,2040.0 294.3,2039.3 294.8,2038.6 295.3,2037.9 295.8,2037.2 296.3,2036.5 296.8,2035.8 297.3,2035.1 297.8,2034.4 298.3,2033.7 298.8,2033.0 299.3,2032.3 299.8,2031.6 300.3,2030.9 300.8,2030.2 301.3,2029.5 301.8,2028.8 302.3,2028.1 302.8,2027.4 303.3,2026.7 303.8,2026.0 304.3,2025.3 304.8,2024.6 305.3,2023.9 305.8,2023.2 306.3,2022.5 306.8,2021.8 307.3,2021.1 307.8,2020.3 308.3,2019.6 308.8,2018.9 309.3,2018.2 309.8,2017.4 310.3,2016.7 310.8,2016.0 311.3,2015.3 311.8,2014.6 312.3,2013.9 312.8,2013.2 313.3,2012.5 313.8,2011.8 314.3,2011.1 314.8,2010.5 315.3,2009.8 315.8,2009.2 316.3,2008.5 316.8,2007.9 317.3,2007.3 317.8,2006.7 318.3,2006.1 318.8,2005.5 319.3,2004.9 319.8,2004.3 320.3,2003.7 320.8,2003.1 321.3,2002.5 321.8,2002.0 322.3,2001.4 322.8,2000.8 323.3,2000.3 323.8,1999.7 324.3,1999.2 324.8,1998.6 325.3,1998.1 325.8,1997.6 326.3,1997.0 326.8,1996.5 327.3,1996.0 327.8,1995.5 328.3,1995.0 328.8,1994.5 329.3,1994.0 329.8,1993.6 330.3,1993.1 330.8,1992.6 331.3,1992.2 331.8,1991.7 332.3,1991.2 332.8,1990.8 333.3,1990.3 333.8,1989.9 334.3,1989.4 334.8,1988.9 335.3,1988.5 335.8,1988.1 336.3,1987.6 336.8,1987.2 337.3,1986.8 337.8,1986.3 338.3,1985.9 338.8,1985.5 339.3,1985.1 339.8,1984.8 340.3,1984.4 340.8,1984.0 341.3,1983.7 341.8,1983.3 342.3,1983.0 342.8,1982.7 343.3,1982.4 343.8,1982.1 344.3,1981.8 344.8,1981.6 345.3,1981.3 345.8,1981.1 346.3,1980.8 346.8,1980.6 347.3,1980.4 347.8,1980.1 348.3,1979.9 348.8,1979.7 349.3,1979.5 349.8,1979.3 350.3,1979.1 350.8,1978.9 351.3,1978.7 351.8,1978.5 352.3,1978.3 352.8,1978.1 353.3,1977.9 353.8,1977.8 354.3,1977.6 354.8,1977.4 355.3,1977.3 355.8,1977.1 356.3,1976.9 356.8,1976.8 357.3,1976.6 357.8,1976.5 358.3,1976.4 358.8,1976.2 359.3,1976.1 359.8,1975.9 360.3,1975.8 360.8,1975.6 361.3,1975.5 361.8,1975.4 362.3,1975.2 362.8,1975.1 363.3,1975.0 363.8,1974.8 364.3,1974.7 364.8,1974.6 365.3,1974.5 365.8,1974.3 366.3,1974.2 366.8,1974.1 367.3,1974.0 367.8,1973.9 368.3,1973.8 368.8,1973.7 369.3,1973.6 369.8,1973.5 370.3,1973.4 370.8,1973.3 371.3,1973.2 371.8,1973.2 372.3,1973.1 372.8,1973.0 373.3,1973.0 373.8,1972.9 374.3,1972.9 374.8,1972.9 375.3,1972.8 375.8,1972.8 376.3,1972.7 376.8,1972.7 377.3,1972.7 377.8,1972.6 378.3,1972.6 378.8,1972.6 379.3,1972.5 379.8,1972.5 380.3,1972.5 380.8,1972.4 381.3,1972.4 381.8,1972.4 382.3,1972.4 382.8,1972.3 383.3,1972.3 383.8,1972.3 384.3,1972.3 384.8,1972.2 385.3,1972.2 385.8,1972.2 386.3,1972.2 386.8,1972.1 387.3,1972.1 387.8,1972.1 388.3,1972.1 388.8,1972.1 389.3,1972.0 389.8,1972.0 390.3,1972.0 390.8,1972.0 391.3,1972.0 391.8,1972.0 392.3,1971.9 392.8,1971.9 393.3,1971.9 393.8,1971.9 394.3,1971.9 394.8,1971.8 395.3,1971.8 395.8,1971.8 396.3,1971.8 396.8,1971.8 397.3,1971.8 397.8,1971.7 398.3,1971.7 398.8,1971.7 399.3,1971.7 399.8,1971.7 400.3,1971.6 400.8,1971.6 401.3,1971.6 401.8,1971.6 402.3,1971.6 402.8,1971.6 403.3,1971.5 403.8,1971.5 404.3,1971.5 404.8,1971.5 405.3,1971.5 405.8,1971.4 406.3,1971.4 406.8,1971.4 407.3,1971.4 407.8,1971.4 408.3,1971.4 408.8,1971.3 409.3,1971.3 409.8,1971.3 410.3,1971.3 410.8,1971.3 411.3,1971.3 411.8,1971.2 412.3,1971.2 412.8,1971.2 413.3,1971.2 413.8,1971.2 414.3,1971.2 414.8,1971.2 415.3,1971.1 415.8,1971.1 416.3,1971.1 416.8,1971.1 417.3,1971.1 417.8,1971.1 418.3,1971.1 418.8,1971.1 419.3,1971.1 419.8,1971.1 420.3,1971.0 420.8,1971.0 421.3,1971.0 421.8,1971.0 422.3,1971.0 422.8,1971.0 423.3,1971.0 423.8,1971.0 424.3,1971.0 424.8,1971.0 425.3,1971.0 425.8,1971.0 426.3,1971.0 426.8,1971.1 427.3,1971.4 427.8,1971.8 428.3,1972.3 428.8,1973.0 429.3,1973.8 429.8,1974.7 430.3,1975.8 430.8,1977.0 431.3,1978.7 431.8,1983.2 432.3,1990.4 432.8,1999.5 433.3,2009.4 433.8,2019.3 434.3,2028.2 434.8,2036.4 435.3,2045.5 435.8,2054.5 436.3,2062.4 436.8,2068.5 437.3,2071.9 437.8,2074.5 438.3,2076.9 438.8,2078.9 439.3,2080.7 439.8,2082.1 440.3,2083.3 440.8,2084.1 441.3,2084.6 441.8,2084.9 442.3,2085.3 442.8,2085.6 443.3,2085.9 443.8,2086.1 444.3,2086.4 444.8,2086.6 445.3,2086.7 445.8,2086.9 446.3,2087.0 446.8,2087.1 447.3,2087.2 447.8,2087.2 448.3,2087.2 448.8,2087.2 449.3,2087.2 449.8,2087.2 450.3,2087.1 450.8,2087.1 451.3,2087.1 451.8,2087.0 452.3,2087.0 452.8,2087.0 453.3,2086.9 453.8,2086.8 454.3,2086.8 454.8,2086.7 455.3,2086.7 455.8,2086.6 456.3,2086.5 456.8,2086.4 457.3,2086.4 457.8,2086.3 458.3,2086.2 458.8,2086.1 459.3,2086.0 459.8,2085.9 460.3,2085.8 460.8,2085.7 461.3,2085.6 461.8,2085.5 462.3,2085.4 462.8,2085.3 463.3,2085.2 463.8,2085.2 464.3,2085.1 464.8,2085.0 465.3,2084.9 465.8,2084.8 466.3,2084.7 466.8,2084.6 467.3,2084.5 467.8,2084.4 468.3,2084.3 468.8,2084.2 469.3,2084.1 469.8,2084.0 470.3,2083.9 470.8,2083.8 471.3,2083.7 471.8,2083.6 472.3,2083.4 472.8,2083.3 473.3,2083.2 473.8,2083.1 474.3,2083.0 474.8,2082.8 475.3,2082.7 475.8,2082.6 476.3,2082.5 476.8,2082.3 477.3,2082.2 477.8,2082.1 478.3,2081.9 478.8,2081.8 479.3,2081.6 479.8,2081.5 480.3,2081.4 480.8,2081.2 481.3,2081.1 481.8,2080.9 482.3,2080.8 482.8,2080.6 483.3,2080.5 483.8,2080.3 484.3,2080.1 484.8,2080.0 485.3,2079.8 485.8,2079.7 486.3,2079.5 486.8,2079.3 487.3,2079.2 487.8,2079.0 488.3,2078.8 488.8,2078.7 489.3,2078.5 489.8,2078.3 490.3,2078.1 490.8,2078.0 491.3,2077.8 491.8,2077.6 492.3,2077.4 492.8,2077.2 493.3,2077.0 493.8,2076.9 494.3,2076.7 494.8,2076.5 495.3,2076.3 495.8,2076.0 496.3,2075.8 496.8,2075.6 497.3,2075.4 497.8,2075.2 498.3,2075.0 498.8,2074.7 499.3,2074.5 499.8,2074.3 500.3,2074.0 500.8,2073.8 501.3,2073.6 501.8,2073.3 502.3,2073.1 502.8,2072.8 503.3,2072.6 503.8,2072.3 504.3,2072.1 504.8,2071.8 505.3,2071.5 505.8,2071.3 506.3,2071.0 506.8,2070.7 507.3,2070.4 507.8,2070.2 508.3,2069.9 508.8,2069.6 509.3,2069.3 509.8,2069.0 510.3,2068.7 510.8,2068.4 511.3,2068.1 511.8,2067.9 512.3,2067.6 512.8,2067.2 513.3,2066.9 513.8,2066.6 514.3,2066.3 514.8,2066.0 515.3,2065.7 515.8,2065.4 516.3,2065.0 516.8,2064.7 517.3,2064.4 517.8,2064.0 518.3,2063.7 518.8,2063.3 519.3,2062.9 519.8,2062.6 520.3,2062.2 520.8,2061.8 521.3,2061.5 521.8,2061.1 522.3,2060.7 522.8,2060.3 523.3,2059.9 523.8,2059.5 524.3,2059.1 524.8,2058.7 525.3,2058.3 525.8,2057.9 526.3,2057.4 526.8,2057.0 527.3,2056.6 527.8,2056.1 528.3,2055.7 528.8,2055.3 529.3,2054.8 529.8,2054.4 530.3,2053.9 530.8,2053.5 531.3,2053.0 531.8,2052.5 532.3,2052.1 532.8,2051.6 533.3,2051.1 533.8,2050.6 534.3,2050.1 534.8,2049.6 535.3,2049.1 535.8,2048.6 536.3,2048.1 536.8,2047.6 537.3,2047.0 537.8,2046.5 538.3,2046.0 538.8,2045.4 539.3,2044.8 539.8,2044.3 540.3,2043.7 540.8,2043.1 541.3,2042.5 541.8,2041.9 542.3,2041.3 542.8,2040.7 543.3,2040.1 543.8,2039.5 544.3,2038.9 544.8,2038.3 545.3,2037.6 545.8,2037.0 546.3,2036.3 546.8,2035.7 547.3,2035.0 547.8,2034.4 548.3,2033.7 548.8,2033.0 549.3,2032.4 549.8,2031.7 550.3,2031.0 550.8,2030.3 551.3,2029.5 551.8,2028.8 552.3,2028.0 552.8,2027.3 553.3,2026.5 553.8,2025.7 554.3,2024.9 554.8,2024.1 555.3,2023.3 555.8,2022.5 556.3,2021.7 556.8,2020.8 557.3,2020.0 557.8,2019.2 558.3,2018.3 558.8,2017.5 559.3,2016.7 559.8,2015.8 560.3,2015.0 560.8,2014.1 561.3,2013.3 561.8,2012.4 562.3,2011.6 562.8,2010.8 563.3,2009.9 563.8,2009.1 564.3,2008.2 564.8,2007.3 565.3,2006.3 565.8,2005.4 566.3,2004.5 566.8,2003.5 567.3,2002.6 567.8,2001.6 568.3,2000.7 568.8,1999.8 569.3,1998.8 569.8,1997.9 570.3,1997.0 570.8,1996.2 571.3,1995.3 571.8,1994.5 572.3,1993.7 572.8,1993.0 573.3,1992.3 573.8,1991.6 574.3,1991.0 574.8,1990.4 575.3,1989.7 575.8,1989.1 576.3,1988.5 576.8,1987.9 577.3,1987.3 577.8,1986.8 578.3,1986.2 578.8,1985.7 579.3,1985.1 579.8,1984.6 580.3,1984.1 580.8,1983.6 581.3,1983.2 581.8,1982.7 582.3,1982.3 582.8,1981.9 583.3,1981.5 583.8,1981.2 584.3,1980.9 584.8,1980.6 585.3,1980.3 585.8,1980.1 586.3,1979.8 586.8,1979.6 587.3,1979.3 587.8,1979.1 588.3,1978.9 588.8,1978.6 589.3,1978.4 589.8,1978.2 590.3,1978.0 590.8,1977.8 591.3,1977.7 591.8,1977.5 592.3,1977.3 592.8,1977.2 593.3,1977.0 593.8,1976.9 594.3,1976.8 594.8,1976.7 595.3,1976.6 595.8,1976.5 596.3,1976.4 596.8,1976.3 597.3,1976.2 597.8,1976.2 598.3,1976.1 598.8,1976.0 599.3,1976.0 599.8,1975.9 600.3,1975.8 600.8,1975.8 601.3,1975.7 601.8,1975.7 602.3,1975.6 602.8,1975.6 603.3,1975.5 603.8,1975.5 604.3,1975.4 604.8,1975.4 605.3,1975.4 605.8,1975.3 606.3,1975.3 606.8,1975.2 607.3,1975.2 607.8,1975.2 608.3,1975.1 608.8,1975.1 609.3,1975.0 609.8,1975.0 610.3,1974.9 610.8,1974.9 611.3,1974.9 611.8,1974.8 612.3,1974.8 612.8,1974.7 613.3,1974.7 613.8,1974.6 614.3,1974.6 614.8,1974.5 615.3,1974.5 615.8,1974.4 616.3,1974.3 616.8,1974.3 617.3,1974.2 617.8,1974.1 618.3,1974.1 618.8,1974.0 619.3,1973.9 619.8,1973.8 620.3,1973.8 620.8,1973.7 621.3,1973.6 621.8,1973.5 622.3,1973.5 622.8,1973.4 623.3,1973.3 623.8,1973.2 624.3,1973.1 624.8,1973.0 625.3,1973.0 625.8,1972.9 626.3,1972.8 626.8,1972.7 627.3,1972.6 627.8,1972.6 628.3,1972.5 628.8,1972.4 629.3,1972.3 629.8,1972.2 630.3,1972.2 630.8,1972.1 631.3,1972.0 631.8,1971.9 632.3,1971.9 632.8,1971.8 633.3,1971.7 633.8,1971.7 634.3,1971.6 634.8,1971.5 635.3,1971.5 635.8,1971.4 636.3,1971.4 636.8,1971.3 637.3,1971.3 637.8,1971.2 638.3,1971.2 638.8,1971.2 639.3,1971.1 639.8,1971.1 640.3,1971.1 640.8,1971.1 641.3,1971.0 641.8,1971.0 642.3,1971.0 642.8,1971.0 643.3,1971.0 643.8,1971.2 644.3,1971.5 644.8,1972.1 645.3,1972.9 645.8,1973.9 646.3,1975.0 646.8,1976.3 647.3,1977.8 647.8,1981.1 648.3,1987.3 648.8,1995.2 649.3,2003.8 649.8,2011.9 650.3,2018.7 650.8,2025.6 651.3,2032.8 651.8,2039.9 652.3,2046.8 652.8,2053.1 653.3,2058.5 653.8,2062.8 654.3,2065.8 654.8,2068.2 655.3,2070.4 655.8,2072.4 656.3,2074.3 656.8,2076.0 657.3,2077.5 657.8,2078.8 658.3,2079.9 658.8,2080.8 659.3,2081.4 659.8,2081.8 660.3,2082.0 660.8,2082.3 661.3,2082.6 661.8,2082.8 662.3,2083.0 662.8,2083.2 663.3,2083.4 663.8,2083.5 664.3,2083.6 664.8,2083.7 665.3,2083.8 665.8,2083.9 666.3,2083.9 666.8,2083.9 667.3,2083.9 667.8,2083.9 668.3,2083.8 668.8,2083.8 669.3,2083.8 669.8,2083.7 670.3,2083.7 670.8,2083.6 671.3,2083.6 671.8,2083.5 672.3,2083.4 672.8,2083.3 673.3,2083.2 673.8,2083.2 674.3,2083.1 674.8,2083.0 675.3,2082.9 675.8,2082.8 676.3,2082.6 676.8,2082.5 677.3,2082.4 677.8,2082.3 678.3,2082.2 678.8,2082.1 679.3,2081.9 679.8,2081.8 680.3,2081.7 680.8,2081.6 681.3,2081.4 681.8,2081.3 682.3,2081.2 682.8,2081.1 683.3,2080.9 683.8,2080.8 684.3,2080.7 684.8,2080.6 685.3,2080.5 685.8,2080.4 686.3,2080.2 686.8,2080.1 687.3,2080.0 687.8,2079.9 688.3,2079.7 688.8,2079.6 689.3,2079.5 689.8,2079.4 690.3,2079.2 690.8,2079.1 691.3,2078.9 691.8,2078.8 692.3,2078.7 692.8,2078.5 693.3,2078.4 693.8,2078.2 694.3,2078.1 694.8,2077.9 695.3,2077.8 695.8,2077.6 696.3,2077.5 696.8,2077.3 697.3,2077.1 697.8,2077.0 698.3,2076.8 698.8,2076.6 699.3,2076.5 699.8,2076.3 700.3,2076.1 700.8,2076.0 701.3,2075.8 701.8,2075.6 702.3,2075.4 702.8,2075.3 703.3,2075.1 703.8,2074.9 704.3,2074.7 704.8,2074.5 705.3,2074.3 705.8,2074.1 706.3,2074.0 706.8,2073.8 707.3,2073.6 707.8,2073.4 708.3,2073.2 708.8,2073.0 709.3,2072.8 709.8,2072.6 710.3,2072.4 710.8,2072.2 711.3,2072.0 711.8,2071.8 712.3,2071.6 712.8,2071.3 713.3,2071.1 713.8,2070.9 714.3,2070.7 714.8,2070.5 715.3,2070.2 715.8,2070.0 716.3,2069.8 716.8,2069.5 717.3,2069.3 717.8,2069.0 718.3,2068.8 718.8,2068.6 719.3,2068.3 719.8,2068.1 720.3,2067.8 720.8,2067.5 721.3,2067.3 721.8,2067.0 722.3,2066.7 722.8,2066.5 723.3,2066.2 723.8,2065.9 724.3,2065.6 724.8,2065.4 725.3,2065.1 725.8,2064.8 726.3,2064.5 726.8,2064.2 727.3,2063.9 727.8,2063.6 728.3,2063.3 728.8,2063.0 729.3,2062.7 729.8,2062.3 730.3,2062.0 730.8,2061.7 731.3,2061.3 731.8,2061.0 732.3,2060.6 732.8,2060.3 733.3,2059.9 733.8,2059.5 734.3,2059.1 734.8,2058.7 735.3,2058.3 735.8,2057.9 736.3,2057.5 736.8,2057.1 737.3,2056.7 737.8,2056.3 738.3,2055.8 738.8,2055.4 739.3,2055.0 739.8,2054.5 740.3,2054.1 740.8,2053.6 741.3,2053.1 741.8,2052.7 742.3,2052.2 742.8,2051.7 743.3,2051.3 743.8,2050.8 744.3,2050.3 744.8,2049.8 745.3,2049.3 745.8,2048.9 746.3,2048.4 746.8,2047.9 747.3,2047.4 747.8,2046.9 748.3,2046.4 748.8,2045.9 749.3,2045.4 749.8,2044.9 750.3,2044.4 750.8,2043.8 751.3,2043.3 751.8,2042.8 752.3,2042.2 752.8,2041.7 753.3,2041.1 753.8,2040.5 754.3,2040.0 754.8,2039.4 755.3,2038.8 755.8,2038.2 756.3,2037.7 756.8,2037.1 757.3,2036.5 757.8,2035.9 758.3,2035.3 758.8,2034.6 759.3,2034.0 759.8,2033.4 760.3,2032.8 760.8,2032.2 761.3,2031.6 761.8,2030.9 762.3,2030.3 762.8,2029.7 763.3,2029.0 763.8,2028.4 764.3,2027.8 764.8,2027.1 765.3,2026.5 765.8,2025.8 766.3,2025.2 766.8,2024.5 767.3,2023.9 767.8,2023.2 768.3,2022.5 768.8,2021.8 769.3,2021.2 769.8,2020.5 770.3,2019.8 770.8,2019.1 771.3,2018.4 771.8,2017.7 772.3,2017.0 772.8,2016.3 773.3,2015.5 773.8,2014.8 774.3,2014.1 774.8,2013.4 775.3,2012.7 775.8,2012.0 776.3,2011.2 776.8,2010.5 777.3,2009.8 777.8,2009.1 778.3,2008.3 778.8,2007.6 779.3,2006.9 779.8,2006.1 780.3,2005.4 780.8,2004.6 781.3,2003.8 781.8,2003.0 782.3,2002.2 782.8,2001.4 783.3,2000.7 783.8,1999.9 784.3,1999.1 784.8,1998.3 785.3,1997.5 785.8,1996.8 786.3,1996.0 786.8,1995.3 787.3,1994.5 787.8,1993.8 788.3,1993.1 788.8,1992.4 789.3,1991.8 789.8,1991.1 790.3,1990.5 790.8,1989.8 791.3,1989.2 791.8,1988.5 792.3,1987.9 792.8,1987.2 793.3,1986.6 793.8,1986.0 794.3,1985.4 794.8,1984.8 795.3,1984.2 795.8,1983.6 796.3,1983.1 796.8,1982.5 797.3,1982.0 797.8,1981.5 798.3,1981.0 798.8,1980.5 799.3,1980.1 799.8,1979.7 800.3,1979.3 800.8,1979.0 801.3,1978.6 801.8,1978.3 802.3,1977.9 802.8,1977.6 803.3,1977.3 803.8,1976.9 804.3,1976.6 804.8,1976.3 805.3,1976.0 805.8,1975.7 806.3,1975.4 806.8,1975.1 807.3,1974.9 807.8,1974.6 808.3,1974.4 808.8,1974.3 809.3,1974.1 809.8,1974.0 810.3,1973.8 810.8,1973.8 811.3,1973.7 811.8,1973.7 812.3,1973.6 812.8,1973.6 813.3,1973.6 813.8,1973.6 814.3,1973.5 814.8,1973.5 815.3,1973.5 815.8,1973.5 816.3,1973.4 816.8,1973.4 817.3,1973.4 817.8,1973.4 818.3,1973.4 818.8,1973.4 819.3,1973.3 819.8,1973.3 820.3,1973.3 820.8,1973.3 821.3,1973.3 821.8,1973.3 822.3,1973.3 822.8,1973.2 823.3,1973.2 823.8,1973.2 824.3,1973.2 824.8,1973.2 825.3,1973.2 825.8,1973.2 826.3,1973.2 826.8,1973.2 827.3,1973.2 827.8,1973.2 828.3,1973.2 828.8,1973.2 829.3,1973.2 829.8,1973.2 830.3,1973.2 830.8,1973.2 831.3,1973.2 831.8,1973.2 832.3,1973.2 832.8,1973.2 833.3,1973.2 833.8,1973.2 834.3,1973.2 834.8,1973.2 835.3,1973.2 835.8,1973.2 836.3,1973.2 836.8,1973.2 837.3,1973.2 837.8,1973.2 838.3,1973.2 838.8,1973.2 839.3,1973.2 839.8,1973.2 840.3,1973.2 840.8,1973.2 841.3,1973.2 841.8,1973.2 842.3,1973.2 842.8,1973.2 843.3,1973.2 843.8,1973.3 844.3,1973.3 844.8,1973.3 845.3,1973.3 845.8,1973.3 846.3,1973.3 846.8,1973.3 847.3,1973.3 847.8,1973.3 848.3,1973.3 848.8,1973.3 849.3,1973.3 849.8,1973.3 850.3,1973.3 850.8,1973.3 851.3,1973.3 851.8,1973.3 852.3,1973.4 852.8,1973.4 853.3,1973.4 853.8,1973.4 854.3,1973.4 854.8,1973.4 855.3,1973.4 855.8,1973.4 856.3,1973.4 856.8,1973.4 857.3,1973.4 857.8,1973.5 858.3,1973.5 858.8,1973.5 859.3,1973.5 859.8,1973.5 860.3,1973.5 860.8,1973.5 861.3,1973.5 861.8,1973.6 862.3,1973.6 862.8,1973.6 863.3,1973.6 863.8,1973.6 864.3,1973.6 864.8,1973.7 865.3,1973.7 865.8,1973.7 866.3,1973.7 866.8,1973.9 867.3,1974.3 867.8,1974.9 868.3,1975.8 868.8,1976.8 869.3,1978.0 869.8,1979.4 870.3,1981.1 870.8,1986.6 871.3,1996.1 871.8,2007.5 872.3,2019.0 872.8,2028.3 873.3,2035.3 873.8,2042.2 874.3,2048.9 874.8,2055.2 875.3,2061.0 875.8,2065.9 876.3,2069.9 876.8,2072.7 877.3,2074.4 877.8,2075.9 878.3,2077.2 878.8,2078.4 879.3,2079.4 879.8,2080.2 880.3,2080.8 880.8,2081.1 881.3,2081.2 881.8,2081.3 882.3,2081.3 882.8,2081.4 883.3,2081.4 883.8,2081.5 884.3,2081.5 884.8,2081.5 885.3,2081.6 885.8,2081.6 886.3,2081.6 886.8,2081.6 887.3,2081.6 887.8,2081.7 888.3,2081.7 888.8,2081.7 889.3,2081.7 889.8,2081.7 890.3,2081.7 890.8,2081.7 891.3,2081.7 891.8,2081.7 892.3,2081.7 892.8,2081.6 893.3,2081.6 893.8,2081.6 894.3,2081.5 894.8,2081.5 895.3,2081.4 895.8,2081.3 896.3,2081.3 896.8,2081.2 897.3,2081.1 897.8,2081.0 898.3,2081.0 898.8,2080.9 899.3,2080.8 899.8,2080.7 900.3,2080.6 900.8,2080.5 901.3,2080.4 901.8,2080.3 902.3,2080.1 902.8,2080.0 903.3,2079.9 903.8,2079.8 904.3,2079.7 904.8,2079.5 905.3,2079.4 905.8,2079.3 906.3,2079.2 906.8,2079.0 907.3,2078.9 907.8,2078.8 908.3,2078.7 908.8,2078.5 909.3,2078.4 909.8,2078.3 910.3,2078.2 910.8,2078.0 911.3,2077.9 911.8,2077.8 912.3,2077.7 912.8,2077.6 913.3,2077.4 913.8,2077.3 914.3,2077.2 914.8,2077.1 915.3,2076.9 915.8,2076.8 916.3,2076.7 916.8,2076.6 917.3,2076.4 917.8,2076.3 918.3,2076.2 918.8,2076.0 919.3,2075.9 919.8,2075.8 920.3,2075.6 920.8,2075.5 921.3,2075.3 921.8,2075.2 922.3,2075.0 922.8,2074.9 923.3,2074.7 923.8,2074.6 924.3,2074.4 924.8,2074.3 925.3,2074.1 925.8,2073.9 926.3,2073.8 926.8,2073.6 927.3,2073.5 927.8,2073.3 928.3,2073.1 928.8,2072.9 929.3,2072.8 929.8,2072.6 930.3,2072.4 930.8,2072.2 931.3,2072.0 931.8,2071.8 932.3,2071.7 932.8,2071.5 933.3,2071.3 933.8,2071.1 934.3,2070.9 934.8,2070.7 935.3,2070.5 935.8,2070.3 936.3,2070.0 936.8,2069.8 937.3,2069.6 937.8,2069.4 938.3,2069.1 938.8,2068.9 939.3,2068.6 939.8,2068.4 940.3,2068.1 940.8,2067.9 941.3,2067.6 941.8,2067.4 942.3,2067.1 942.8,2066.8 943.3,2066.5 943.8,2066.3 944.3,2066.0 944.8,2065.7 945.3,2065.4 945.8,2065.1 946.3,2064.8 946.8,2064.5 947.3,2064.2 947.8,2063.9 948.3,2063.6 948.8,2063.3 949.3,2063.0 949.8,2062.7 950.3,2062.4 950.8,2062.1 951.3,2061.7 951.8,2061.4 952.3,2061.1 952.8,2060.8 953.3,2060.5 953.8,2060.1 954.3,2059.8 954.8,2059.5 955.3,2059.2 955.8,2058.8 956.3,2058.5 956.8,2058.2 957.3,2057.8 957.8,2057.5 958.3,2057.2 958.8,2056.8 959.3,2056.5 959.8,2056.1 960.3,2055.8 960.8,2055.4 961.3,2055.1 961.8,2054.7 962.3,2054.4 962.8,2054.0 963.3,2053.6 963.8,2053.3 964.3,2052.9 964.8,2052.5 965.3,2052.1 965.8,2051.8 966.3,2051.4 966.8,2051.0 967.3,2050.6 967.8,2050.2 968.3,2049.8 968.8,2049.4 969.3,2049.0 969.8,2048.6 970.3,2048.1 970.8,2047.7 971.3,2047.3 971.8,2046.8 972.3,2046.4 972.8,2046.0 973.3,2045.5 973.8,2045.1 974.3,2044.6 974.8,2044.2 975.3,2043.7 975.8,2043.2 976.3,2042.7 976.8,2042.2 977.3,2041.7 977.8,2041.2 978.3,2040.7 978.8,2040.2 979.3,2039.6 979.8,2039.1 980.3,2038.5 980.8,2038.0 981.3,2037.4 981.8,2036.8 982.3,2036.2 982.8,2035.7 983.3,2035.1 983.8,2034.5 984.3,2033.9 984.8,2033.3 985.3,2032.6 985.8,2032.0 986.3,2031.4 986.8,2030.8 987.3,2030.1 987.8,2029.5 988.3,2028.9 988.8,2028.3 989.3,2027.6 989.8,2027.0 990.3,2026.3 990.8,2025.7 991.3,2025.1 991.8,2024.4 992.3,2023.8 992.8,2023.1 993.3,2022.5 993.8,2021.8 994.3,2021.1 994.8,2020.4 995.3,2019.7 995.8,2019.0 996.3,2018.3 996.8,2017.6 997.3,2016.9 997.8,2016.2 998.3,2015.5 998.8,2014.8 999.3,2014.0 999.8,2013.3 1000.3,2012.6 1000.8,2011.9 1001.3,2011.2 1001.8,2010.4 1002.3,2009.7 1002.8,2009.0 1003.3,2008.3 1003.8,2007.6 1004.3,2006.9 1004.8,2006.3 1005.3,2005.6 1005.8,2004.9 1006.3,2004.3 1006.8,2003.6 1007.3,2002.9 1007.8,2002.3 1008.3,2001.6 1008.8,2000.9 1009.3,2000.3 1009.8,1999.6 1010.3,1998.9 1010.8,1998.3 1011.3,1997.6 1011.8,1997.0 1012.3,1996.4 1012.8,1995.7 1013.3,1995.1 1013.8,1994.5 1014.3,1993.9 1014.8,1993.4 1015.3,1992.8 1015.8,1992.2 1016.3,1991.7 1016.8,1991.2 1017.3,1990.7 1017.8,1990.1 1018.3,1989.6 1018.8,1989.1 1019.3,1988.6 1019.8,1988.1 1020.3,1987.5 1020.8,1987.0 1021.3,1986.6 1021.8,1986.1 1022.3,1985.6 1022.8,1985.1 1023.3,1984.7 1023.8,1984.3 1024.3,1983.9 1024.8,1983.5 1025.3,1983.1 1025.8,1982.8 1026.3,1982.5 1026.8,1982.2 1027.3,1981.9 1027.8,1981.7 1028.3,1981.5 1028.8,1981.3 1029.3,1981.0 1029.8,1980.8 1030.3,1980.6 1030.8,1980.4 1031.3,1980.2 1031.8,1980.0 1032.3,1979.8 1032.8,1979.7 1033.3,1979.5 1033.8,1979.3 1034.3,1979.2 1034.8,1979.0 1035.3,1978.9 1035.8,1978.8 1036.3,1978.7 1036.8,1978.6 1037.3,1978.5 1037.8,1978.5 1038.3,1978.4 1038.8,1978.4 1039.3,1978.3 1039.8,1978.3 1040.3,1978.2 1040.8,1978.2 1041.3,1978.2 1041.8,1978.1 1042.3,1978.1 1042.8,1978.1 1043.3,1978.1 1043.8,1978.0 1044.3,1978.0 1044.8,1978.0 1045.3,1977.9 1045.8,1977.9 1046.3,1977.9 1046.8,1977.9 1047.3,1977.9 1047.8,1977.8 1048.3,1977.8 1048.8,1977.8 1049.3,1977.8 1049.8,1977.8 1050.3,1977.7 1050.8,1977.7 1051.3,1977.7 1051.8,1977.7 1052.3,1977.7 1052.8,1977.7 1053.3,1977.6 1053.8,1977.6 1054.3,1977.6 1054.8,1977.6 1055.3,1977.6 1055.8,1977.6 1056.3,1977.6 1056.8,1977.5 1057.3,1977.5 1057.8,1977.5 1058.3,1977.5 1058.8,1977.5 1059.3,1977.5 1059.8,1977.4 1060.3,1977.4 1060.8,1977.4 1061.3,1977.4 1061.8,1977.4 1062.3,1977.3 1062.8,1977.3 1063.3,1977.3 1063.8,1977.3 1064.3,1977.2 1064.8,1977.2 1065.3,1977.2 1065.8,1977.2 1066.3,1977.1 1066.8,1977.1 1067.3,1977.1 1067.8,1977.1 1068.3,1977.0 1068.8,1977.0 1069.3,1977.0 1069.8,1977.0 1070.3,1976.9 1070.8,1976.9 1071.3,1976.9 1071.8,1976.9 1072.3,1976.8 1072.8,1976.8 1073.3,1976.8 1073.8,1976.8 1074.3,1976.7 1074.8,1976.7 1075.3,1976.7 1075.8,1976.7 1076.3,1976.6 1076.8,1976.6 1077.3,1976.6 1077.8,1976.6 1078.3,1976.5 1078.8,1976.5 1079.3,1976.5 1079.8,1976.5 1080.3,1976.4 1080.8,1976.4 1081.3,1976.4 1081.8,1976.4 1082.3,1976.3 1082.8,1976.3 1083.3,1976.3 1083.8,1976.3 1084.3,1976.2 1084.8,1976.2 1085.3,1976.2 1085.8,1976.2 1086.3,1976.1 1086.8,1976.1 1087.3,1976.1 1087.8,1976.1 1088.3,1976.0 1088.8,1976.0 1089.3,1976.0 1089.8,1976.0 1090.3,1975.9 1090.8,1975.9 1091.3,1975.9 1091.8,1975.8 1092.3,1975.8 1092.8,1975.8 1093.3,1975.8 1093.8,1975.7 1094.3,1975.7 1094.8,1975.7 1095.3,1975.7 1095.8,1975.6 1096.3,1975.6 1096.8,1975.6 1097.3,1975.5 1097.8,1975.5 1098.3,1975.5 1098.8,1975.5 1099.3,1975.4 1099.8,1975.4 1100.3,1975.4 1100.8,1975.4 1101.3,1975.3 1101.8,1975.3 1102.3,1975.3 1102.8,1975.2 1103.3,1975.2 1103.8,1975.2 1104.3,1975.2 1104.8,1975.1 1105.3,1975.1 1105.4,1975.1" fill="none" stroke="#ff5858" stroke-width="2.8" stroke-linejoin="round"/>
<polyline points="167.8,2135.0 168.3,2135.2 168.8,2135.4 169.3,2135.6 169.8,2135.8 170.3,2136.0 170.8,2136.1 171.3,2136.3 171.8,2136.5 172.3,2136.7 172.8,2136.9 173.3,2137.0 173.8,2137.2 174.3,2137.3 174.8,2137.5 175.3,2137.6 175.8,2137.8 176.3,2137.9 176.8,2138.0 177.3,2138.1 177.8,2138.2 178.3,2138.3 178.8,2138.4 179.3,2138.5 179.8,2138.6 180.3,2138.6 180.8,2138.7 181.3,2138.7 181.8,2138.8 182.3,2138.8 182.8,2138.8 183.3,2138.9 183.8,2138.9 184.3,2138.9 184.8,2138.9 185.3,2138.9 185.8,2139.0 186.3,2139.0 186.8,2139.0 187.3,2139.0 187.8,2139.0 188.3,2139.0 188.8,2139.1 189.3,2139.1 189.8,2139.1 190.3,2139.1 190.8,2139.1 191.3,2139.1 191.8,2139.2 192.3,2139.2 192.8,2139.2 193.3,2139.2 193.8,2139.3 194.3,2139.3 194.8,2139.4 195.3,2139.4 195.8,2139.4 196.3,2139.5 196.8,2139.6 197.3,2139.6 197.8,2139.7 198.3,2139.8 198.8,2140.1 199.3,2140.6 199.8,2141.2 200.3,2142.0 200.8,2143.0 201.3,2144.1 201.8,2145.3 202.3,2146.7 202.8,2148.6 203.3,2152.5 203.8,2158.1 204.3,2164.7 204.8,2171.7 205.3,2178.8 205.8,2185.1 206.3,2190.4 206.8,2195.4 207.3,2200.4 207.8,2205.3 208.3,2210.1 208.8,2214.6 209.3,2218.9 209.8,2223.0 210.3,2226.7 210.8,2230.0 211.3,2233.2 211.8,2236.3 212.3,2239.2 212.8,2242.0 213.3,2244.7 213.8,2247.1 214.3,2249.3 214.8,2251.3 215.3,2253.1 215.8,2254.6 216.3,2256.0 216.8,2257.4 217.3,2258.7 217.8,2259.9 218.3,2261.0 218.8,2262.1 219.3,2263.0 219.8,2263.7 220.3,2264.3 220.8,2264.7 221.3,2265.0 221.8,2265.2 222.3,2265.3 222.8,2265.5 223.3,2265.6 223.8,2265.8 224.3,2265.9 224.8,2266.0 225.3,2266.1 225.8,2266.2 226.3,2266.2 226.8,2266.3 227.3,2266.3 227.8,2266.3 228.3,2266.3 228.8,2266.3 229.3,2266.2 229.8,2266.2 230.3,2266.1 230.8,2266.1 231.3,2266.0 231.8,2265.9 232.3,2265.8 232.8,2265.6 233.3,2265.5 233.8,2265.4 234.3,2265.2 234.8,2265.0 235.3,2264.9 235.8,2264.7 236.3,2264.5 236.8,2264.3 237.3,2264.2 237.8,2264.0 238.3,2263.8 238.8,2263.6 239.3,2263.4 239.8,2263.2 240.3,2263.0 240.8,2262.7 241.3,2262.5 241.8,2262.3 242.3,2262.1 242.8,2261.9 243.3,2261.7 243.8,2261.5 244.3,2261.3 244.8,2261.1 245.3,2260.9 245.8,2260.8 246.3,2260.6 246.8,2260.4 247.3,2260.2 247.8,2260.0 248.3,2259.8 248.8,2259.7 249.3,2259.5 249.8,2259.3 250.3,2259.1 250.8,2258.9 251.3,2258.7 251.8,2258.5 252.3,2258.3 252.8,2258.1 253.3,2257.9 253.8,2257.7 254.3,2257.5 254.8,2257.3 255.3,2257.0 255.8,2256.8 256.3,2256.6 256.8,2256.4 257.3,2256.2 257.8,2256.0 258.3,2255.7 258.8,2255.5 259.3,2255.3 259.8,2255.0 260.3,2254.8 260.8,2254.6 261.3,2254.3 261.8,2254.1 262.3,2253.9 262.8,2253.6 263.3,2253.4 263.8,2253.1 264.3,2252.9 264.8,2252.6 265.3,2252.3 265.8,2252.1 266.3,2251.8 266.8,2251.5 267.3,2251.3 267.8,2251.0 268.3,2250.7 268.8,2250.5 269.3,2250.2 269.8,2249.9 270.3,2249.6 270.8,2249.3 271.3,2249.0 271.8,2248.7 272.3,2248.4 272.8,2248.1 273.3,2247.8 273.8,2247.5 274.3,2247.2 274.8,2246.8 275.3,2246.5 275.8,2246.2 276.3,2245.9 276.8,2245.5 277.3,2245.2 277.8,2244.9 278.3,2244.5 278.8,2244.2 279.3,2243.8 279.8,2243.5 280.3,2243.1 280.8,2242.7 281.3,2242.4 281.8,2242.0 282.3,2241.6 282.8,2241.2 283.3,2240.8 283.8,2240.5 284.3,2240.1 284.8,2239.7 285.3,2239.3 285.8,2238.8 286.3,2238.4 286.8,2238.0 287.3,2237.5 287.8,2237.1 288.3,2236.6 288.8,2236.2 289.3,2235.7 289.8,2235.2 290.3,2234.8 290.8,2234.3 291.3,2233.8 291.8,2233.3 292.3,2232.8 292.8,2232.3 293.3,2231.8 293.8,2231.2 294.3,2230.7 294.8,2230.2 295.3,2229.6 295.8,2229.1 296.3,2228.6 296.8,2228.0 297.3,2227.4 297.8,2226.9 298.3,2226.3 298.8,2225.8 299.3,2225.2 299.8,2224.6 300.3,2224.0 300.8,2223.4 301.3,2222.8 301.8,2222.2 302.3,2221.6 302.8,2221.0 303.3,2220.3 303.8,2219.7 304.3,2219.0 304.8,2218.4 305.3,2217.7 305.8,2217.0 306.3,2216.3 306.8,2215.7 307.3,2215.0 307.8,2214.2 308.3,2213.5 308.8,2212.8 309.3,2212.1 309.8,2211.3 310.3,2210.6 310.8,2209.9 311.3,2209.1 311.8,2208.3 312.3,2207.6 312.8,2206.8 313.3,2206.0 313.8,2205.3 314.3,2204.5 314.8,2203.7 315.3,2202.9 315.8,2202.0 316.3,2201.2 316.8,2200.3 317.3,2199.4 317.8,2198.5 318.3,2197.6 318.8,2196.7 319.3,2195.8 319.8,2194.9 320.3,2194.0 320.8,2193.1 321.3,2192.2 321.8,2191.3 322.3,2190.3 322.8,2189.4 323.3,2188.6 323.8,2187.7 324.3,2186.8 324.8,2185.9 325.3,2185.1 325.8,2184.2 326.3,2183.4 326.8,2182.5 327.3,2181.7 327.8,2180.8 328.3,2180.0 328.8,2179.1 329.3,2178.3 329.8,2177.5 330.3,2176.6 330.8,2175.8 331.3,2175.0 331.8,2174.2 332.3,2173.3 332.8,2172.6 333.3,2171.8 333.8,2171.0 334.3,2170.2 334.8,2169.5 335.3,2168.8 335.8,2168.0 336.3,2167.3 336.8,2166.6 337.3,2165.9 337.8,2165.2 338.3,2164.5 338.8,2163.9 339.3,2163.2 339.8,2162.5 340.3,2161.8 340.8,2161.2 341.3,2160.5 341.8,2159.9 342.3,2159.3 342.8,2158.7 343.3,2158.1 343.8,2157.5 344.3,2156.9 344.8,2156.3 345.3,2155.8 345.8,2155.3 346.3,2154.8 346.8,2154.3 347.3,2153.8 347.8,2153.4 348.3,2152.9 348.8,2152.4 349.3,2152.0 349.8,2151.5 350.3,2151.1 350.8,2150.7 351.3,2150.3 351.8,2149.9 352.3,2149.5 352.8,2149.1 353.3,2148.7 353.8,2148.3 354.3,2148.0 354.8,2147.6 355.3,2147.3 355.8,2147.0 356.3,2146.7 356.8,2146.5 357.3,2146.2 357.8,2146.0 358.3,2145.8 358.8,2145.6 359.3,2145.4 359.8,2145.1 360.3,2144.9 360.8,2144.7 361.3,2144.5 361.8,2144.3 362.3,2144.1 362.8,2144.0 363.3,2143.8 363.8,2143.6 364.3,2143.4 364.8,2143.3 365.3,2143.1 365.8,2143.0 366.3,2142.8 366.8,2142.7 367.3,2142.6 367.8,2142.4 368.3,2142.3 368.8,2142.2 369.3,2142.2 369.8,2142.1 370.3,2142.0 370.8,2142.0 371.3,2141.9 371.8,2141.9 372.3,2141.8 372.8,2141.8 373.3,2141.8 373.8,2141.8 374.3,2141.7 374.8,2141.7 375.3,2141.7 375.8,2141.6 376.3,2141.6 376.8,2141.6 377.3,2141.6 377.8,2141.5 378.3,2141.5 378.8,2141.5 379.3,2141.5 379.8,2141.5 380.3,2141.4 380.8,2141.4 381.3,2141.4 381.8,2141.4 382.3,2141.4 382.8,2141.4 383.3,2141.4 383.8,2141.3 384.3,2141.3 384.8,2141.3 385.3,2141.3 385.8,2141.3 386.3,2141.3 386.8,2141.3 387.3,2141.3 387.8,2141.3 388.3,2141.3 388.8,2141.3 389.3,2141.3 389.8,2141.3 390.3,2141.3 390.8,2141.3 391.3,2141.3 391.8,2141.3 392.3,2141.3 392.8,2141.3 393.3,2141.3 393.8,2141.3 394.3,2141.3 394.8,2141.3 395.3,2141.3 395.8,2141.3 396.3,2141.4 396.8,2141.4 397.3,2141.4 397.8,2141.4 398.3,2141.4 398.8,2141.4 399.3,2141.4 399.8,2141.4 400.3,2141.4 400.8,2141.4 401.3,2141.5 401.8,2141.5 402.3,2141.5 402.8,2141.5 403.3,2141.5 403.8,2141.5 404.3,2141.5 404.8,2141.6 405.3,2141.6 405.8,2141.6 406.3,2141.6 406.8,2141.6 407.3,2141.7 407.8,2141.7 408.3,2141.7 408.8,2141.7 409.3,2141.8 409.8,2141.8 410.3,2141.8 410.8,2141.8 411.3,2141.9 411.8,2141.9 412.3,2141.9 412.8,2142.0 413.3,2142.0 413.8,2142.0 414.3,2142.1 414.8,2142.1 415.3,2142.1 415.8,2142.2 416.3,2142.2 416.8,2142.2 417.3,2142.3 417.8,2142.3 418.3,2142.4 418.8,2142.4 419.3,2142.5 419.8,2142.5 420.3,2142.5 420.8,2142.6 421.3,2142.6 421.8,2142.7 422.3,2142.7 422.8,2142.8 423.3,2142.9 423.8,2142.9 424.3,2143.0 424.8,2143.0 425.3,2143.1 425.8,2143.1 426.3,2143.2 426.8,2143.4 427.3,2143.6 427.8,2144.1 428.3,2144.6 428.8,2145.3 429.3,2146.1 429.8,2147.0 430.3,2148.1 430.8,2149.3 431.3,2151.0 431.8,2155.5 432.3,2162.7 432.8,2171.8 433.3,2181.7 433.8,2191.5 434.3,2200.4 434.8,2208.6 435.3,2217.4 435.8,2226.3 436.3,2234.2 436.8,2240.5 437.3,2244.5 437.8,2247.7 438.3,2250.7 438.8,2253.3 439.3,2255.6 439.8,2257.5 440.3,2259.1 440.8,2260.2 441.3,2260.9 441.8,2261.4 442.3,2261.9 442.8,2262.4 443.3,2262.8 443.8,2263.2 444.3,2263.6 444.8,2263.9 445.3,2264.2 445.8,2264.4 446.3,2264.6 446.8,2264.7 447.3,2264.8 447.8,2264.9 448.3,2264.9 448.8,2264.9 449.3,2264.9 449.8,2264.9 450.3,2264.8 450.8,2264.8 451.3,2264.7 451.8,2264.7 452.3,2264.6 452.8,2264.6 453.3,2264.5 453.8,2264.4 454.3,2264.3 454.8,2264.3 455.3,2264.2 455.8,2264.1 456.3,2264.0 456.8,2263.9 457.3,2263.8 457.8,2263.7 458.3,2263.6 458.8,2263.5 459.3,2263.4 459.8,2263.2 460.3,2263.1 460.8,2263.0 461.3,2262.9 461.8,2262.8 462.3,2262.7 462.8,2262.6 463.3,2262.5 463.8,2262.4 464.3,2262.2 464.8,2262.1 465.3,2262.0 465.8,2261.9 466.3,2261.8 466.8,2261.7 467.3,2261.6 467.8,2261.4 468.3,2261.3 468.8,2261.2 469.3,2261.1 469.8,2260.9 470.3,2260.8 470.8,2260.6 471.3,2260.5 471.8,2260.4 472.3,2260.2 472.8,2260.1 473.3,2259.9 473.8,2259.8 474.3,2259.6 474.8,2259.5 475.3,2259.3 475.8,2259.1 476.3,2259.0 476.8,2258.8 477.3,2258.7 477.8,2258.5 478.3,2258.3 478.8,2258.1 479.3,2258.0 479.8,2257.8 480.3,2257.6 480.8,2257.4 481.3,2257.3 481.8,2257.1 482.3,2256.9 482.8,2256.7 483.3,2256.5 483.8,2256.3 484.3,2256.2 484.8,2256.0 485.3,2255.8 485.8,2255.6 486.3,2255.4 486.8,2255.2 487.3,2255.0 487.8,2254.8 488.3,2254.6 488.8,2254.4 489.3,2254.2 489.8,2254.0 490.3,2253.8 490.8,2253.6 491.3,2253.3 491.8,2253.1 492.3,2252.9 492.8,2252.7 493.3,2252.4 493.8,2252.2 494.3,2252.0 494.8,2251.7 495.3,2251.5 495.8,2251.2 496.3,2251.0 496.8,2250.8 497.3,2250.5 497.8,2250.2 498.3,2250.0 498.8,2249.7 499.3,2249.5 499.8,2249.2 500.3,2248.9 500.8,2248.7 501.3,2248.4 501.8,2248.1 502.3,2247.9 502.8,2247.6 503.3,2247.3 503.8,2247.0 504.3,2246.7 504.8,2246.4 505.3,2246.1 505.8,2245.8 506.3,2245.5 506.8,2245.3 507.3,2244.9 507.8,2244.6 508.3,2244.3 508.8,2244.0 509.3,2243.7 509.8,2243.4 510.3,2243.1 510.8,2242.7 511.3,2242.4 511.8,2242.1 512.3,2241.7 512.8,2241.4 513.3,2241.0 513.8,2240.7 514.3,2240.3 514.8,2240.0 515.3,2239.6 515.8,2239.2 516.3,2238.8 516.8,2238.5 517.3,2238.1 517.8,2237.7 518.3,2237.3 518.8,2236.9 519.3,2236.5 519.8,2236.1 520.3,2235.7 520.8,2235.3 521.3,2234.8 521.8,2234.4 522.3,2234.0 522.8,2233.6 523.3,2233.1 523.8,2232.7 524.3,2232.2 524.8,2231.8 525.3,2231.3 525.8,2230.9 526.3,2230.4 526.8,2230.0 527.3,2229.5 527.8,2229.0 528.3,2228.5 528.8,2228.0 529.3,2227.6 529.8,2227.0 530.3,2226.5 530.8,2226.0 531.3,2225.5 531.8,2225.0 532.3,2224.4 532.8,2223.9 533.3,2223.3 533.8,2222.7 534.3,2222.2 534.8,2221.6 535.3,2221.0 535.8,2220.4 536.3,2219.8 536.8,2219.2 537.3,2218.6 537.8,2218.0 538.3,2217.4 538.8,2216.8 539.3,2216.1 539.8,2215.5 540.3,2214.8 540.8,2214.2 541.3,2213.5 541.8,2212.9 542.3,2212.2 542.8,2211.6 543.3,2210.9 543.8,2210.2 544.3,2209.5 544.8,2208.8 545.3,2208.1 545.8,2207.4 546.3,2206.6 546.8,2205.9 547.3,2205.1 547.8,2204.4 548.3,2203.6 548.8,2202.8 549.3,2202.0 549.8,2201.2 550.3,2200.4 550.8,2199.6 551.3,2198.8 551.8,2197.9 552.3,2197.1 552.8,2196.3 553.3,2195.4 553.8,2194.6 554.3,2193.7 554.8,2192.9 555.3,2192.0 555.8,2191.2 556.3,2190.3 556.8,2189.4 557.3,2188.6 557.8,2187.7 558.3,2186.8 558.8,2185.9 559.3,2185.0 559.8,2184.0 560.3,2183.1 560.8,2182.1 561.3,2181.1 561.8,2180.1 562.3,2179.1 562.8,2178.2 563.3,2177.2 563.8,2176.2 564.3,2175.2 564.8,2174.3 565.3,2173.3 565.8,2172.4 566.3,2171.5 566.8,2170.6 567.3,2169.7 567.8,2168.9 568.3,2168.1 568.8,2167.3 569.3,2166.5 569.8,2165.6 570.3,2164.8 570.8,2164.0 571.3,2163.2 571.8,2162.4 572.3,2161.6 572.8,2160.8 573.3,2160.1 573.8,2159.3 574.3,2158.6 574.8,2157.9 575.3,2157.2 575.8,2156.5 576.3,2155.9 576.8,2155.3 577.3,2154.7 577.8,2154.2 578.3,2153.7 578.8,2153.2 579.3,2152.8 579.8,2152.4 580.3,2152.0 580.8,2151.6 581.3,2151.3 581.8,2150.9 582.3,2150.5 582.8,2150.2 583.3,2149.8 583.8,2149.5 584.3,2149.1 584.8,2148.8 585.3,2148.5 585.8,2148.3 586.3,2148.0 586.8,2147.8 587.3,2147.6 587.8,2147.4 588.3,2147.2 588.8,2147.1 589.3,2146.9 589.8,2146.9 590.3,2146.8 590.8,2146.8 591.3,2146.7 591.8,2146.7 592.3,2146.6 592.8,2146.6 593.3,2146.6 593.8,2146.5 594.3,2146.5 594.8,2146.5 595.3,2146.4 595.8,2146.4 596.3,2146.4 596.8,2146.3 597.3,2146.3 597.8,2146.3 598.3,2146.3 598.8,2146.2 599.3,2146.2 599.8,2146.2 600.3,2146.2 600.8,2146.2 601.3,2146.1 601.8,2146.1 602.3,2146.1 602.8,2146.1 603.3,2146.1 603.8,2146.1 604.3,2146.1 604.8,2146.0 605.3,2146.0 605.8,2146.0 606.3,2146.0 606.8,2146.0 607.3,2146.0 607.8,2146.0 608.3,2146.0 608.8,2146.0 609.3,2146.0 609.8,2146.0 610.3,2146.0 610.8,2146.0 611.3,2146.0 611.8,2146.0 612.3,2146.0 612.8,2146.0 613.3,2146.0 613.8,2146.0 614.3,2146.0 614.8,2146.0 615.3,2146.0 615.8,2146.0 616.3,2146.0 616.8,2146.0 617.3,2146.0 617.8,2146.0 618.3,2146.0 618.8,2146.0 619.3,2146.0 619.8,2146.0 620.3,2146.0 620.8,2146.0 621.3,2146.0 621.8,2146.0 622.3,2146.0 622.8,2146.0 623.3,2146.0 623.8,2146.0 624.3,2146.0 624.8,2146.0 625.3,2146.0 625.8,2146.0 626.3,2146.1 626.8,2146.1 627.3,2146.1 627.8,2146.1 628.3,2146.1 628.8,2146.1 629.3,2146.1 629.8,2146.1 630.3,2146.1 630.8,2146.1 631.3,2146.1 631.8,2146.1 632.3,2146.1 632.8,2146.1 633.3,2146.1 633.8,2146.1 634.3,2146.1 634.8,2146.2 635.3,2146.2 635.8,2146.2 636.3,2146.2 636.8,2146.2 637.3,2146.2 637.8,2146.2 638.3,2146.2 638.8,2146.2 639.3,2146.2 639.8,2146.2 640.3,2146.3 640.8,2146.3 641.3,2146.3 641.8,2146.3 642.3,2146.3 642.8,2146.3 643.3,2146.3 643.8,2146.3 644.3,2146.4 644.8,2146.4 645.3,2146.4 645.8,2146.4 646.3,2146.4 646.8,2146.4 647.3,2146.5 647.8,2146.5 648.3,2146.5 648.8,2146.5 649.3,2146.7 649.8,2147.1 650.3,2147.8 650.8,2148.7 651.3,2149.9 651.8,2151.2 652.3,2152.8 652.8,2157.2 653.3,2165.9 653.8,2177.0 654.3,2188.5 654.8,2198.7 655.3,2206.5 655.8,2214.0 656.3,2221.3 656.8,2228.1 657.3,2234.2 657.8,2239.3 658.3,2243.1 658.8,2246.1 659.3,2248.9 659.8,2251.5 660.3,2253.8 660.8,2255.8 661.3,2257.4 661.8,2258.6 662.3,2259.4 662.8,2259.9 663.3,2260.3 663.8,2260.6 664.3,2261.0 664.8,2261.3 665.3,2261.6 665.8,2261.9 666.3,2262.1 666.8,2262.3 667.3,2262.4 667.8,2262.6 668.3,2262.6 668.8,2262.7 669.3,2262.7 669.8,2262.7 670.3,2262.7 670.8,2262.7 671.3,2262.6 671.8,2262.6 672.3,2262.5 672.8,2262.5 673.3,2262.4 673.8,2262.3 674.3,2262.2 674.8,2262.2 675.3,2262.1 675.8,2262.0 676.3,2261.9 676.8,2261.8 677.3,2261.6 677.8,2261.5 678.3,2261.4 678.8,2261.3 679.3,2261.2 679.8,2261.0 680.3,2260.9 680.8,2260.8 681.3,2260.6 681.8,2260.5 682.3,2260.4 682.8,2260.2 683.3,2260.1 683.8,2260.0 684.3,2259.8 684.8,2259.7 685.3,2259.6 685.8,2259.4 686.3,2259.3 686.8,2259.2 687.3,2259.0 687.8,2258.9 688.3,2258.8 688.8,2258.6 689.3,2258.5 689.8,2258.3 690.3,2258.1 690.8,2258.0 691.3,2257.8 691.8,2257.6 692.3,2257.5 692.8,2257.3 693.3,2257.1 693.8,2256.9 694.3,2256.7 694.8,2256.6 695.3,2256.4 695.8,2256.2 696.3,2256.0 696.8,2255.8 697.3,2255.6 697.8,2255.4 698.3,2255.2 698.8,2255.0 699.3,2254.8 699.8,2254.6 700.3,2254.4 700.8,2254.2 701.3,2253.9 701.8,2253.7 702.3,2253.5 702.8,2253.3 703.3,2253.1 703.8,2252.9 704.3,2252.7 704.8,2252.5 705.3,2252.2 705.8,2252.0 706.3,2251.8 706.8,2251.6 707.3,2251.4 707.8,2251.2 708.3,2251.0 708.8,2250.7 709.3,2250.5 709.8,2250.3 710.3,2250.1 710.8,2249.9 711.3,2249.6 711.8,2249.4 712.3,2249.2 712.8,2248.9 713.3,2248.7 713.8,2248.5 714.3,2248.3 714.8,2248.0 715.3,2247.8 715.8,2247.5 716.3,2247.3 716.8,2247.1 717.3,2246.8 717.8,2246.6 718.3,2246.3 718.8,2246.1 719.3,2245.8 719.8,2245.6 720.3,2245.3 720.8,2245.1 721.3,2244.8 721.8,2244.5 722.3,2244.3 722.8,2244.0 723.3,2243.7 723.8,2243.5 724.3,2243.2 724.8,2242.9 725.3,2242.7 725.8,2242.4 726.3,2242.1 726.8,2241.8 727.3,2241.5 727.8,2241.2 728.3,2240.9 728.8,2240.7 729.3,2240.4 729.8,2240.1 730.3,2239.8 730.8,2239.5 731.3,2239.1 731.8,2238.8 732.3,2238.5 732.8,2238.2 733.3,2237.9 733.8,2237.6 734.3,2237.2 734.8,2236.9 735.3,2236.6 735.8,2236.2 736.3,2235.9 736.8,2235.6 737.3,2235.2 737.8,2234.9 738.3,2234.5 738.8,2234.1 739.3,2233.8 739.8,2233.4 740.3,2233.1 740.8,2232.7 741.3,2232.3 741.8,2231.9 742.3,2231.6 742.8,2231.2 743.3,2230.8 743.8,2230.4 744.3,2230.0 744.8,2229.6 745.3,2229.2 745.8,2228.8 746.3,2228.4 746.8,2228.0 747.3,2227.6 747.8,2227.2 748.3,2226.8 748.8,2226.3 749.3,2225.9 749.8,2225.5 750.3,2225.1 750.8,2224.6 751.3,2224.2 751.8,2223.7 752.3,2223.3 752.8,2222.8 753.3,2222.4 753.8,2221.9 754.3,2221.4 754.8,2220.9 755.3,2220.5 755.8,2220.0 756.3,2219.5 756.8,2219.0 757.3,2218.5 757.8,2218.0 758.3,2217.5 758.8,2216.9 759.3,2216.4 759.8,2215.9 760.3,2215.4 760.8,2214.8 761.3,2214.3 761.8,2213.7 762.3,2213.2 762.8,2212.6 763.3,2212.0 763.8,2211.5 764.3,2210.9 764.8,2210.3 765.3,2209.7 765.8,2209.1 766.3,2208.5 766.8,2207.9 767.3,2207.2 767.8,2206.6 768.3,2205.9 768.8,2205.2 769.3,2204.5 769.8,2203.8 770.3,2203.1 770.8,2202.4 771.3,2201.7 771.8,2201.0 772.3,2200.2 772.8,2199.5 773.3,2198.8 773.8,2198.0 774.3,2197.3 774.8,2196.6 775.3,2195.8 775.8,2195.1 776.3,2194.4 776.8,2193.7 777.3,2192.9 777.8,2192.2 778.3,2191.5 778.8,2190.8 779.3,2190.1 779.8,2189.4 780.3,2188.7 780.8,2188.0 781.3,2187.3 781.8,2186.6 782.3,2185.9 782.8,2185.2 783.3,2184.5 783.8,2183.8 784.3,2183.1 784.8,2182.4 785.3,2181.8 785.8,2181.1 786.3,2180.4 786.8,2179.7 787.3,2179.0 787.8,2178.3 788.3,2177.6 788.8,2176.9 789.3,2176.2 789.8,2175.5 790.3,2174.8 790.8,2174.1 791.3,2173.4 791.8,2172.7 792.3,2172.0 792.8,2171.3 793.3,2170.6 793.8,2169.9 794.3,2169.1 794.8,2168.4 795.3,2167.7 795.8,2166.9 796.3,2166.2 796.8,2165.4 797.3,2164.7 797.8,2164.0 798.3,2163.2 798.8,2162.5 799.3,2161.8 799.8,2161.1 800.3,2160.4 800.8,2159.8 801.3,2159.1 801.8,2158.5 802.3,2157.9 802.8,2157.3 803.3,2156.8 803.8,2156.2 804.3,2155.7 804.8,2155.1 805.3,2154.6 805.8,2154.0 806.3,2153.5 806.8,2152.9 807.3,2152.4 807.8,2151.8 808.3,2151.3 808.8,2150.8 809.3,2150.4 809.8,2149.9 810.3,2149.5 810.8,2149.1 811.3,2148.7 811.8,2148.4 812.3,2148.1 812.8,2147.8 813.3,2147.6 813.8,2147.4 814.3,2147.2 814.8,2147.1 815.3,2147.0 815.8,2146.9 816.3,2146.8 816.8,2146.7 817.3,2146.6 817.8,2146.5 818.3,2146.4 818.8,2146.3 819.3,2146.2 819.8,2146.2 820.3,2146.1 820.8,2146.1 821.3,2146.0 821.8,2146.0 822.3,2146.0 822.8,2146.0 823.3,2146.0 823.8,2146.0 824.3,2146.0 824.8,2146.0 825.3,2146.0 825.8,2146.0 826.3,2146.1 826.8,2146.1 827.3,2146.1 827.8,2146.1 828.3,2146.1 828.8,2146.2 829.3,2146.2 829.8,2146.2 830.3,2146.2 830.8,2146.3 831.3,2146.3 831.8,2146.3 832.3,2146.3 832.8,2146.4 833.3,2146.4 833.8,2146.4 834.3,2146.5 834.8,2146.5 835.3,2146.6 835.8,2146.6 836.3,2146.6 836.8,2146.7 837.3,2146.7 837.8,2146.7 838.3,2146.8 838.8,2146.8 839.3,2146.9 839.8,2146.9 840.3,2147.0 840.8,2147.0 841.3,2147.0 841.8,2147.1 842.3,2147.1 842.8,2147.2 843.3,2147.2 843.8,2147.3 844.3,2147.3 844.8,2147.4 845.3,2147.4 845.8,2147.4 846.3,2147.5 846.8,2147.5 847.3,2147.6 847.8,2147.6 848.3,2147.6 848.8,2147.7 849.3,2147.7 849.8,2147.8 850.3,2147.8 850.8,2147.9 851.3,2147.9 851.8,2148.0 852.3,2148.0 852.8,2148.1 853.3,2148.1 853.8,2148.2 854.3,2148.2 854.8,2148.3 855.3,2148.3 855.8,2148.4 856.3,2148.5 856.8,2148.6 857.3,2148.6 857.8,2148.7 858.3,2148.8 858.8,2148.9 859.3,2149.0 859.8,2149.1 860.3,2149.2 860.8,2149.3 861.3,2149.4 861.8,2149.6 862.3,2149.7 862.8,2149.8 863.3,2150.0 863.8,2150.1 864.3,2150.3 864.8,2150.4 865.3,2150.6 865.8,2150.8 866.3,2150.9 866.8,2151.1 867.3,2151.3 867.8,2151.6 868.3,2152.0 868.8,2152.7 869.3,2153.6 869.8,2154.7 870.3,2156.0 870.8,2157.6 871.3,2160.1 871.8,2166.0 872.3,2174.4 872.8,2183.9 873.3,2193.6 873.8,2202.0 874.3,2209.9 874.8,2218.4 875.3,2226.5 875.8,2233.6 876.3,2238.9 876.8,2242.1 877.3,2244.8 877.8,2247.4 878.3,2249.6 878.8,2251.6 879.3,2253.3 879.8,2254.7 880.3,2255.8 880.8,2256.5 881.3,2256.8 881.8,2257.1 882.3,2257.3 882.8,2257.5 883.3,2257.7 883.8,2257.9 884.3,2258.1 884.8,2258.2 885.3,2258.4 885.8,2258.5 886.3,2258.6 886.8,2258.7 887.3,2258.8 887.8,2258.8 888.3,2258.9 888.8,2258.9 889.3,2258.9 889.8,2258.9 890.3,2258.9 890.8,2258.9 891.3,2258.8 891.8,2258.8 892.3,2258.8 892.8,2258.7 893.3,2258.7 893.8,2258.6 894.3,2258.6 894.8,2258.5 895.3,2258.5 895.8,2258.4 896.3,2258.3 896.8,2258.2 897.3,2258.1 897.8,2258.1 898.3,2258.0 898.8,2257.9 899.3,2257.8 899.8,2257.7 900.3,2257.6 900.8,2257.5 901.3,2257.4 901.8,2257.3 902.3,2257.1 902.8,2257.0 903.3,2256.9 903.8,2256.8 904.3,2256.7 904.8,2256.6 905.3,2256.5 905.8,2256.3 906.3,2256.2 906.8,2256.1 907.3,2256.0 907.8,2255.9 908.3,2255.8 908.8,2255.6 909.3,2255.5 909.8,2255.4 910.3,2255.3 910.8,2255.2 911.3,2255.1 911.8,2255.0 912.3,2254.8 912.8,2254.7 913.3,2254.6 913.8,2254.5 914.3,2254.3 914.8,2254.2 915.3,2254.1 915.8,2253.9 916.3,2253.8 916.8,2253.6 917.3,2253.5 917.8,2253.3 918.3,2253.2 918.8,2253.0 919.3,2252.9 919.8,2252.7 920.3,2252.6 920.8,2252.4 921.3,2252.2 921.8,2252.1 922.3,2251.9 922.8,2251.7 923.3,2251.6 923.8,2251.4 924.3,2251.2 924.8,2251.1 925.3,2250.9 925.8,2250.7 926.3,2250.5 926.8,2250.3 927.3,2250.2 927.8,2250.0 928.3,2249.8 928.8,2249.6 929.3,2249.4 929.8,2249.2 930.3,2249.0 930.8,2248.8 931.3,2248.7 931.8,2248.5 932.3,2248.3 932.8,2248.1 933.3,2247.9 933.8,2247.7 934.3,2247.5 934.8,2247.3 935.3,2247.0 935.8,2246.8 936.3,2246.6 936.8,2246.4 937.3,2246.2 937.8,2246.0 938.3,2245.7 938.8,2245.5 939.3,2245.3 939.8,2245.0 940.3,2244.8 940.8,2244.6 941.3,2244.3 941.8,2244.1 942.3,2243.8 942.8,2243.6 943.3,2243.3 943.8,2243.1 944.3,2242.8 944.8,2242.6 945.3,2242.3 945.8,2242.1 946.3,2241.8 946.8,2241.5 947.3,2241.3 947.8,2241.0 948.3,2240.7 948.8,2240.4 949.3,2240.1 949.8,2239.9 950.3,2239.6 950.8,2239.3 951.3,2239.0 951.8,2238.7 952.3,2238.4 952.8,2238.1 953.3,2237.8 953.8,2237.5 954.3,2237.2 954.8,2236.9 955.3,2236.5 955.8,2236.2 956.3,2235.9 956.8,2235.5 957.3,2235.2 957.8,2234.9 958.3,2234.5 958.8,2234.2 959.3,2233.8 959.8,2233.4 960.3,2233.1 960.8,2232.7 961.3,2232.3 961.8,2232.0 962.3,2231.6 962.8,2231.2 963.3,2230.8 963.8,2230.4 964.3,2230.0 964.8,2229.6 965.3,2229.2 965.8,2228.7 966.3,2228.3 966.8,2227.9 967.3,2227.5 967.8,2227.0 968.3,2226.6 968.8,2226.1 969.3,2225.7 969.8,2225.2 970.3,2224.8 970.8,2224.3 971.3,2223.8 971.8,2223.4 972.3,2222.9 972.8,2222.4 973.3,2221.9 973.8,2221.4 974.3,2220.9 974.8,2220.4 975.3,2219.8 975.8,2219.3 976.3,2218.7 976.8,2218.1 977.3,2217.5 977.8,2217.0 978.3,2216.4 978.8,2215.8 979.3,2215.1 979.8,2214.5 980.3,2213.9 980.8,2213.3 981.3,2212.6 981.8,2212.0 982.3,2211.3 982.8,2210.7 983.3,2210.0 983.8,2209.3 984.3,2208.7 984.8,2208.0 985.3,2207.3 985.8,2206.6 986.3,2206.0 986.8,2205.3 987.3,2204.6 987.8,2203.9 988.3,2203.2 988.8,2202.5 989.3,2201.9 989.8,2201.2 990.3,2200.5 990.8,2199.7 991.3,2199.0 991.8,2198.3 992.3,2197.5 992.8,2196.8 993.3,2196.0 993.8,2195.2 994.3,2194.5 994.8,2193.7 995.3,2192.9 995.8,2192.1 996.3,2191.3 996.8,2190.5 997.3,2189.8 997.8,2189.0 998.3,2188.2 998.8,2187.4 999.3,2186.6 999.8,2185.9 1000.3,2185.1 1000.8,2184.4 1001.3,2183.6 1001.8,2182.9 1002.3,2182.2 1002.8,2181.5 1003.3,2180.8 1003.8,2180.1 1004.3,2179.4 1004.8,2178.7 1005.3,2178.0 1005.8,2177.3 1006.3,2176.6 1006.8,2175.9 1007.3,2175.2 1007.8,2174.5 1008.3,2173.9 1008.8,2173.2 1009.3,2172.5 1009.8,2171.8 1010.3,2171.2 1010.8,2170.5 1011.3,2169.9 1011.8,2169.3 1012.3,2168.6 1012.8,2168.0 1013.3,2167.4 1013.8,2166.8 1014.3,2166.2 1014.8,2165.6 1015.3,2165.1 1015.8,2164.5 1016.3,2164.0 1016.8,2163.5 1017.3,2163.0 1017.8,2162.4 1018.3,2161.9 1018.8,2161.4 1019.3,2160.9 1019.8,2160.3 1020.3,2159.8 1020.8,2159.3 1021.3,2158.8 1021.8,2158.3 1022.3,2157.9 1022.8,2157.4 1023.3,2157.0 1023.8,2156.6 1024.3,2156.2 1024.8,2155.8 1025.3,2155.4 1025.8,2155.1 1026.3,2154.8 1026.8,2154.5 1027.3,2154.2 1027.8,2154.0 1028.3,2153.8 1028.8,2153.6 1029.3,2153.4 1029.8,2153.2 1030.3,2153.0 1030.8,2152.8 1031.3,2152.6 1031.8,2152.5 1032.3,2152.3 1032.8,2152.2 1033.3,2152.0 1033.8,2151.9 1034.3,2151.7 1034.8,2151.6 1035.3,2151.4 1035.8,2151.3 1036.3,2151.2 1036.8,2151.1 1037.3,2150.9 1037.8,2150.8 1038.3,2150.7 1038.8,2150.6 1039.3,2150.5 1039.8,2150.4 1040.3,2150.3 1040.8,2150.2 1041.3,2150.1 1041.8,2150.0 1042.3,2149.9 1042.8,2149.8 1043.3,2149.7 1043.8,2149.6 1044.3,2149.5 1044.8,2149.4 1045.3,2149.3 1045.8,2149.2 1046.3,2149.2 1046.8,2149.1 1047.3,2149.0 1047.8,2148.9 1048.3,2148.8 1048.8,2148.8 1049.3,2148.7 1049.8,2148.6 1050.3,2148.6 1050.8,2148.5 1051.3,2148.4 1051.8,2148.4 1052.3,2148.3 1052.8,2148.2 1053.3,2148.1 1053.8,2148.1 1054.3,2148.0 1054.8,2148.0 1055.3,2147.9 1055.8,2147.8 1056.3,2147.8 1056.8,2147.7 1057.3,2147.6 1057.8,2147.6 1058.3,2147.5 1058.8,2147.4 1059.3,2147.3 1059.8,2147.3 1060.3,2147.2 1060.8,2147.1 1061.3,2147.1 1061.8,2147.0 1062.3,2146.9 1062.8,2146.8 1063.3,2146.8 1063.8,2146.7 1064.3,2146.6 1064.8,2146.5 1065.3,2146.4 1065.8,2146.4 1066.3,2146.3 1066.8,2146.2 1067.3,2146.1 1067.8,2146.0 1068.3,2146.0 1068.8,2145.9 1069.3,2145.8 1069.8,2145.7 1070.3,2145.6 1070.8,2145.5 1071.3,2145.5 1071.8,2145.4 1072.3,2145.3 1072.8,2145.2 1073.3,2145.1 1073.8,2145.1 1074.3,2145.0 1074.8,2144.9 1075.3,2144.8 1075.8,2144.7 1076.3,2144.6 1076.8,2144.6 1077.3,2144.5 1077.8,2144.4 1078.3,2144.3 1078.8,2144.2 1079.3,2144.1 1079.8,2144.1 1080.3,2144.0 1080.8,2143.9 1081.3,2143.8 1081.8,2143.7 1082.3,2143.6 1082.8,2143.6 1083.3,2143.5 1083.8,2143.4 1084.3,2143.3 1084.8,2143.2 1085.3,2143.1 1085.8,2143.0 1086.3,2143.0 1086.8,2142.9 1087.3,2142.8 1087.8,2142.7 1088.3,2142.6 1088.8,2142.5 1089.3,2142.5 1089.8,2142.4 1090.3,2142.3 1090.8,2142.2 1091.3,2142.1 1091.8,2142.0 1092.3,2142.0 1092.8,2141.9 1093.3,2141.8 1093.8,2141.7 1094.3,2141.6 1094.8,2141.5 1095.3,2141.4 1095.8,2141.4 1096.3,2141.3 1096.8,2141.2 1097.3,2141.1 1097.8,2141.0 1098.3,2140.9 1098.8,2140.8 1099.3,2140.8 1099.8,2140.7 1100.3,2140.6 1100.8,2140.5 1101.3,2140.4 1101.8,2140.3 1102.3,2140.2 1102.8,2140.2 1103.3,2140.1 1103.8,2140.0 1104.3,2139.9 1104.8,2139.8 1105.3,2139.7 1105.4,2139.7" fill="none" stroke="#00a87c" stroke-width="3.2" stroke-linejoin="round"/>
<polyline points="167.8,2331.9 168.3,2332.0 168.8,2332.1 169.3,2332.2 169.8,2332.3 170.3,2332.5 170.8,2332.6 171.3,2332.7 171.8,2332.8 172.3,2332.9 172.8,2333.0 173.3,2333.1 173.8,2333.2 174.3,2333.3 174.8,2333.4 175.3,2333.5 175.8,2333.6 176.3,2333.7 176.8,2333.8 177.3,2333.8 177.8,2333.9 178.3,2334.0 178.8,2334.1 179.3,2334.2 179.8,2334.3 180.3,2334.3 180.8,2334.4 181.3,2334.5 181.8,2334.6 182.3,2334.6 182.8,2334.7 183.3,2334.8 183.8,2334.8 184.3,2334.9 184.8,2334.9 185.3,2335.0 185.8,2335.0 186.3,2335.1 186.8,2335.1 187.3,2335.1 187.8,2335.2 188.3,2335.2 188.8,2335.2 189.3,2335.3 189.8,2335.3 190.3,2335.3 190.8,2335.3 191.3,2335.4 191.8,2335.4 192.3,2335.4 192.8,2335.5 193.3,2335.5 193.8,2335.5 194.3,2335.6 194.8,2335.6 195.3,2335.6 195.8,2335.7 196.3,2335.7 196.8,2335.8 197.3,2335.8 197.8,2335.9 198.3,2336.0 198.8,2336.0 199.3,2336.1 199.8,2336.2 200.3,2336.3 200.8,2336.4 201.3,2336.5 201.8,2336.6 202.3,2336.7 202.8,2336.9 203.3,2337.3 203.8,2337.7 204.3,2338.3 204.8,2339.0 205.3,2339.7 205.8,2340.6 206.3,2341.6 206.8,2342.7 207.3,2344.2 207.8,2346.9 208.3,2350.4 208.8,2354.4 209.3,2358.7 209.8,2363.0 210.3,2366.9 210.8,2370.9 211.3,2375.3 211.8,2379.8 212.3,2384.4 212.8,2388.7 213.3,2392.7 213.8,2396.1 214.3,2398.9 214.8,2401.2 215.3,2403.5 215.8,2405.6 216.3,2407.5 216.8,2409.2 217.3,2410.7 217.8,2411.8 218.3,2412.5 218.8,2413.0 219.3,2413.4 219.8,2413.8 220.3,2414.1 220.8,2414.5 221.3,2414.8 221.8,2415.0 222.3,2415.3 222.8,2415.5 223.3,2415.6 223.8,2415.7 224.3,2415.8 224.8,2415.9 225.3,2415.9 225.8,2415.9 226.3,2415.9 226.8,2415.9 227.3,2415.9 227.8,2415.9 228.3,2415.9 228.8,2415.8 229.3,2415.8 229.8,2415.8 230.3,2415.8 230.8,2415.7 231.3,2415.7 231.8,2415.7 232.3,2415.7 232.8,2415.6 233.3,2415.6 233.8,2415.6 234.3,2415.5 234.8,2415.5 235.3,2415.5 235.8,2415.4 236.3,2415.4 236.8,2415.3 237.3,2415.3 237.8,2415.3 238.3,2415.2 238.8,2415.2 239.3,2415.1 239.8,2415.1 240.3,2415.0 240.8,2415.0 241.3,2415.0 241.8,2414.9 242.3,2414.9 242.8,2414.8 243.3,2414.8 243.8,2414.7 244.3,2414.7 244.8,2414.6 245.3,2414.6 245.8,2414.5 246.3,2414.5 246.8,2414.4 247.3,2414.3 247.8,2414.3 248.3,2414.2 248.8,2414.1 249.3,2414.1 249.8,2414.0 250.3,2413.9 250.8,2413.8 251.3,2413.8 251.8,2413.7 252.3,2413.6 252.8,2413.5 253.3,2413.4 253.8,2413.4 254.3,2413.3 254.8,2413.2 255.3,2413.1 255.8,2413.0 256.3,2412.9 256.8,2412.8 257.3,2412.7 257.8,2412.6 258.3,2412.5 258.8,2412.4 259.3,2412.3 259.8,2412.2 260.3,2412.1 260.8,2412.0 261.3,2411.9 261.8,2411.8 262.3,2411.7 262.8,2411.6 263.3,2411.5 263.8,2411.4 264.3,2411.3 264.8,2411.2 265.3,2411.1 265.8,2411.0 266.3,2410.9 266.8,2410.7 267.3,2410.6 267.8,2410.5 268.3,2410.4 268.8,2410.3 269.3,2410.1 269.8,2410.0 270.3,2409.9 270.8,2409.7 271.3,2409.6 271.8,2409.4 272.3,2409.3 272.8,2409.2 273.3,2409.0 273.8,2408.9 274.3,2408.7 274.8,2408.6 275.3,2408.4 275.8,2408.2 276.3,2408.1 276.8,2407.9 277.3,2407.8 277.8,2407.6 278.3,2407.4 278.8,2407.3 279.3,2407.1 279.8,2406.9 280.3,2406.8 280.8,2406.6 281.3,2406.4 281.8,2406.2 282.3,2406.0 282.8,2405.9 283.3,2405.7 283.8,2405.5 284.3,2405.3 284.8,2405.1 285.3,2404.9 285.8,2404.7 286.3,2404.6 286.8,2404.4 287.3,2404.2 287.8,2404.0 288.3,2403.8 288.8,2403.6 289.3,2403.4 289.8,2403.1 290.3,2402.9 290.8,2402.7 291.3,2402.5 291.8,2402.3 292.3,2402.0 292.8,2401.8 293.3,2401.6 293.8,2401.3 294.3,2401.1 294.8,2400.9 295.3,2400.6 295.8,2400.4 296.3,2400.1 296.8,2399.9 297.3,2399.6 297.8,2399.4 298.3,2399.1 298.8,2398.8 299.3,2398.6 299.8,2398.3 300.3,2398.0 300.8,2397.7 301.3,2397.5 301.8,2397.2 302.3,2396.9 302.8,2396.6 303.3,2396.3 303.8,2396.0 304.3,2395.8 304.8,2395.5 305.3,2395.2 305.8,2394.9 306.3,2394.6 306.8,2394.2 307.3,2393.9 307.8,2393.6 308.3,2393.3 308.8,2393.0 309.3,2392.6 309.8,2392.3 310.3,2391.9 310.8,2391.6 311.3,2391.2 311.8,2390.9 312.3,2390.5 312.8,2390.2 313.3,2389.8 313.8,2389.4 314.3,2389.0 314.8,2388.6 315.3,2388.3 315.8,2387.9 316.3,2387.5 316.8,2387.1 317.3,2386.7 317.8,2386.3 318.3,2385.9 318.8,2385.5 319.3,2385.0 319.8,2384.6 320.3,2384.2 320.8,2383.8 321.3,2383.4 321.8,2382.9 322.3,2382.5 322.8,2382.1 323.3,2381.6 323.8,2381.2 324.3,2380.7 324.8,2380.2 325.3,2379.8 325.8,2379.3 326.3,2378.8 326.8,2378.3 327.3,2377.8 327.8,2377.3 328.3,2376.8 328.8,2376.3 329.3,2375.8 329.8,2375.3 330.3,2374.7 330.8,2374.2 331.3,2373.7 331.8,2373.2 332.3,2372.6 332.8,2372.1 333.3,2371.6 333.8,2371.0 334.3,2370.5 334.8,2370.0 335.3,2369.4 335.8,2368.9 336.3,2368.4 336.8,2367.8 337.3,2367.3 337.8,2366.7 338.3,2366.1 338.8,2365.6 339.3,2365.0 339.8,2364.4 340.3,2363.8 340.8,2363.2 341.3,2362.7 341.8,2362.1 342.3,2361.5 342.8,2360.9 343.3,2360.3 343.8,2359.8 344.3,2359.2 344.8,2358.7 345.3,2358.1 345.8,2357.6 346.3,2357.1 346.8,2356.6 347.3,2356.1 347.8,2355.6 348.3,2355.1 348.8,2354.7 349.3,2354.2 349.8,2353.7 350.3,2353.2 350.8,2352.8 351.3,2352.3 351.8,2351.8 352.3,2351.4 352.8,2350.9 353.3,2350.5 353.8,2350.1 354.3,2349.7 354.8,2349.2 355.3,2348.8 355.8,2348.5 356.3,2348.1 356.8,2347.7 357.3,2347.3 357.8,2347.0 358.3,2346.7 358.8,2346.3 359.3,2346.0 359.8,2345.6 360.3,2345.3 360.8,2345.0 361.3,2344.7 361.8,2344.3 362.3,2344.0 362.8,2343.7 363.3,2343.4 363.8,2343.1 364.3,2342.9 364.8,2342.6 365.3,2342.3 365.8,2342.1 366.3,2341.8 366.8,2341.6 367.3,2341.4 367.8,2341.2 368.3,2341.1 368.8,2340.9 369.3,2340.8 369.8,2340.6 370.3,2340.5 370.8,2340.3 371.3,2340.2 371.8,2340.0 372.3,2339.9 372.8,2339.7 373.3,2339.6 373.8,2339.5 374.3,2339.4 374.8,2339.2 375.3,2339.1 375.8,2339.0 376.3,2338.9 376.8,2338.8 377.3,2338.7 377.8,2338.6 378.3,2338.5 378.8,2338.5 379.3,2338.4 379.8,2338.3 380.3,2338.3 380.8,2338.3 381.3,2338.2 381.8,2338.2 382.3,2338.2 382.8,2338.2 383.3,2338.2 383.8,2338.2 384.3,2338.2 384.8,2338.2 385.3,2338.2 385.8,2338.2 386.3,2338.2 386.8,2338.2 387.3,2338.2 387.8,2338.2 388.3,2338.2 388.8,2338.2 389.3,2338.2 389.8,2338.2 390.3,2338.2 390.8,2338.2 391.3,2338.2 391.8,2338.2 392.3,2338.2 392.8,2338.2 393.3,2338.2 393.8,2338.2 394.3,2338.2 394.8,2338.2 395.3,2338.2 395.8,2338.2 396.3,2338.2 396.8,2338.2 397.3,2338.2 397.8,2338.2 398.3,2338.2 398.8,2338.2 399.3,2338.2 399.8,2338.2 400.3,2338.2 400.8,2338.2 401.3,2338.2 401.8,2338.2 402.3,2338.2 402.8,2338.2 403.3,2338.2 403.8,2338.2 404.3,2338.2 404.8,2338.2 405.3,2338.2 405.8,2338.2 406.3,2338.2 406.8,2338.2 407.3,2338.2 407.8,2338.2 408.3,2338.2 408.8,2338.2 409.3,2338.2 409.8,2338.2 410.3,2338.2 410.8,2338.2 411.3,2338.2 411.8,2338.2 412.3,2338.2 412.8,2338.2 413.3,2338.2 413.8,2338.2 414.3,2338.2 414.8,2338.2 415.3,2338.2 415.8,2338.2 416.3,2338.2 416.8,2338.2 417.3,2338.2 417.8,2338.2 418.3,2338.2 418.8,2338.2 419.3,2338.2 419.8,2338.2 420.3,2338.2 420.8,2338.2 421.3,2338.2 421.8,2338.2 422.3,2338.2 422.8,2338.2 423.3,2338.2 423.8,2338.2 424.3,2338.2 424.8,2338.2 425.3,2338.2 425.8,2338.2 426.3,2338.2 426.8,2338.4 427.3,2338.7 427.8,2339.3 428.3,2340.0 428.8,2340.9 429.3,2341.9 429.8,2343.0 430.3,2344.2 430.8,2346.1 431.3,2349.3 431.8,2353.3 432.3,2357.8 432.8,2362.6 433.3,2367.3 433.8,2371.6 434.3,2376.0 434.8,2380.9 435.3,2385.9 435.8,2390.7 436.3,2394.7 436.8,2397.8 437.3,2399.5 437.8,2400.8 438.3,2401.9 438.8,2403.0 439.3,2403.9 439.8,2404.6 440.3,2405.2 440.8,2405.6 441.3,2405.8 441.8,2406.0 442.3,2406.2 442.8,2406.4 443.3,2406.5 443.8,2406.7 444.3,2406.8 444.8,2407.0 445.3,2407.1 445.8,2407.2 446.3,2407.3 446.8,2407.4 447.3,2407.4 447.8,2407.5 448.3,2407.6 448.8,2407.6 449.3,2407.7 449.8,2407.7 450.3,2407.7 450.8,2407.7 451.3,2407.7 451.8,2407.7 452.3,2407.7 452.8,2407.7 453.3,2407.7 453.8,2407.7 454.3,2407.7 454.8,2407.6 455.3,2407.6 455.8,2407.6 456.3,2407.6 456.8,2407.6 457.3,2407.6 457.8,2407.6 458.3,2407.5 458.8,2407.5 459.3,2407.5 459.8,2407.5 460.3,2407.4 460.8,2407.4 461.3,2407.4 461.8,2407.4 462.3,2407.3 462.8,2407.3 463.3,2407.3 463.8,2407.2 464.3,2407.2 464.8,2407.2 465.3,2407.1 465.8,2407.1 466.3,2407.1 466.8,2407.0 467.3,2407.0 467.8,2407.0 468.3,2406.9 468.8,2406.9 469.3,2406.9 469.8,2406.8 470.3,2406.8 470.8,2406.7 471.3,2406.7 471.8,2406.7 472.3,2406.6 472.8,2406.6 473.3,2406.6 473.8,2406.5 474.3,2406.5 474.8,2406.4 475.3,2406.4 475.8,2406.3 476.3,2406.3 476.8,2406.2 477.3,2406.2 477.8,2406.1 478.3,2406.0 478.8,2406.0 479.3,2405.9 479.8,2405.8 480.3,2405.8 480.8,2405.7 481.3,2405.6 481.8,2405.5 482.3,2405.5 482.8,2405.4 483.3,2405.3 483.8,2405.2 484.3,2405.1 484.8,2405.0 485.3,2404.9 485.8,2404.9 486.3,2404.8 486.8,2404.7 487.3,2404.6 487.8,2404.5 488.3,2404.4 488.8,2404.3 489.3,2404.2 489.8,2404.1 490.3,2404.0 490.8,2403.8 491.3,2403.7 491.8,2403.6 492.3,2403.5 492.8,2403.4 493.3,2403.3 493.8,2403.2 494.3,2403.0 494.8,2402.9 495.3,2402.8 495.8,2402.7 496.3,2402.5 496.8,2402.4 497.3,2402.2 497.8,2402.1 498.3,2401.9 498.8,2401.7 499.3,2401.5 499.8,2401.3 500.3,2401.2 500.8,2401.0 501.3,2400.8 501.8,2400.6 502.3,2400.3 502.8,2400.1 503.3,2399.9 503.8,2399.7 504.3,2399.5 504.8,2399.2 505.3,2399.0 505.8,2398.8 506.3,2398.5 506.8,2398.3 507.3,2398.0 507.8,2397.8 508.3,2397.6 508.8,2397.3 509.3,2397.1 509.8,2396.8 510.3,2396.5 510.8,2396.3 511.3,2396.0 511.8,2395.8 512.3,2395.5 512.8,2395.3 513.3,2395.0 513.8,2394.7 514.3,2394.5 514.8,2394.2 515.3,2394.0 515.8,2393.7 516.3,2393.4 516.8,2393.1 517.3,2392.9 517.8,2392.6 518.3,2392.3 518.8,2392.0 519.3,2391.7 519.8,2391.4 520.3,2391.1 520.8,2390.8 521.3,2390.5 521.8,2390.2 522.3,2389.8 522.8,2389.5 523.3,2389.2 523.8,2388.9 524.3,2388.5 524.8,2388.2 525.3,2387.9 525.8,2387.5 526.3,2387.2 526.8,2386.9 527.3,2386.5 527.8,2386.2 528.3,2385.8 528.8,2385.5 529.3,2385.1 529.8,2384.7 530.3,2384.4 530.8,2384.0 531.3,2383.6 531.8,2383.3 532.3,2382.9 532.8,2382.5 533.3,2382.1 533.8,2381.7 534.3,2381.3 534.8,2380.9 535.3,2380.5 535.8,2380.0 536.3,2379.6 536.8,2379.2 537.3,2378.7 537.8,2378.3 538.3,2377.8 538.8,2377.3 539.3,2376.9 539.8,2376.4 540.3,2375.9 540.8,2375.4 541.3,2374.9 541.8,2374.5 542.3,2374.0 542.8,2373.5 543.3,2373.0 543.8,2372.5 544.3,2372.0 544.8,2371.6 545.3,2371.1 545.8,2370.6 546.3,2370.1 546.8,2369.7 547.3,2369.2 547.8,2368.7 548.3,2368.3 548.8,2367.9 549.3,2367.4 549.8,2367.0 550.3,2366.5 550.8,2366.1 551.3,2365.7 551.8,2365.2 552.3,2364.8 552.8,2364.3 553.3,2363.9 553.8,2363.4 554.3,2363.0 554.8,2362.6 555.3,2362.1 555.8,2361.7 556.3,2361.2 556.8,2360.8 557.3,2360.4 557.8,2359.9 558.3,2359.5 558.8,2359.1 559.3,2358.7 559.8,2358.3 560.3,2357.8 560.8,2357.4 561.3,2357.0 561.8,2356.6 562.3,2356.2 562.8,2355.9 563.3,2355.5 563.8,2355.1 564.3,2354.7 564.8,2354.4 565.3,2354.0 565.8,2353.7 566.3,2353.3 566.8,2353.0 567.3,2352.6 567.8,2352.3 568.3,2351.9 568.8,2351.6 569.3,2351.3 569.8,2350.9 570.3,2350.6 570.8,2350.3 571.3,2349.9 571.8,2349.6 572.3,2349.3 572.8,2349.0 573.3,2348.7 573.8,2348.4 574.3,2348.1 574.8,2347.8 575.3,2347.5 575.8,2347.2 576.3,2347.0 576.8,2346.7 577.3,2346.5 577.8,2346.2 578.3,2346.0 578.8,2345.8 579.3,2345.6 579.8,2345.4 580.3,2345.2 580.8,2345.0 581.3,2344.8 581.8,2344.6 582.3,2344.4 582.8,2344.2 583.3,2344.0 583.8,2343.8 584.3,2343.6 584.8,2343.5 585.3,2343.3 585.8,2343.1 586.3,2342.9 586.8,2342.8 587.3,2342.6 587.8,2342.5 588.3,2342.3 588.8,2342.2 589.3,2342.1 589.8,2342.0 590.3,2341.9 590.8,2341.8 591.3,2341.7 591.8,2341.6 592.3,2341.6 592.8,2341.5 593.3,2341.5 593.8,2341.4 594.3,2341.4 594.8,2341.4 595.3,2341.4 595.8,2341.3 596.3,2341.3 596.8,2341.3 597.3,2341.2 597.8,2341.2 598.3,2341.2 598.8,2341.2 599.3,2341.1 599.8,2341.1 600.3,2341.1 600.8,2341.1 601.3,2341.1 601.8,2341.0 602.3,2341.0 602.8,2341.0 603.3,2341.0 603.8,2341.0 604.3,2341.0 604.8,2341.0 605.3,2340.9 605.8,2340.9 606.3,2340.9 606.8,2340.9 607.3,2340.9 607.8,2340.9 608.3,2340.9 608.8,2340.9 609.3,2340.9 609.8,2340.9 610.3,2340.9 610.8,2340.9 611.3,2340.9 611.8,2340.9 612.3,2340.9 612.8,2340.9 613.3,2340.9 613.8,2340.9 614.3,2340.9 614.8,2340.9 615.3,2340.9 615.8,2340.9 616.3,2340.9 616.8,2340.9 617.3,2340.9 617.8,2340.9 618.3,2340.9 618.8,2340.9 619.3,2340.9 619.8,2340.9 620.3,2340.9 620.8,2340.9 621.3,2340.9 621.8,2340.9 622.3,2340.9 622.8,2340.9 623.3,2340.9 623.8,2340.9 624.3,2340.9 624.8,2340.9 625.3,2340.9 625.8,2340.9 626.3,2340.9 626.8,2340.9 627.3,2340.9 627.8,2340.9 628.3,2340.9 628.8,2340.9 629.3,2340.9 629.8,2340.9 630.3,2340.9 630.8,2340.9 631.3,2340.9 631.8,2340.9 632.3,2340.9 632.8,2340.9 633.3,2340.9 633.8,2340.9 634.3,2340.9 634.8,2340.9 635.3,2340.9 635.8,2340.9 636.3,2340.9 636.8,2340.9 637.3,2340.9 637.8,2340.9 638.3,2340.9 638.8,2340.9 639.3,2340.9 639.8,2340.9 640.3,2340.9 640.8,2340.9 641.3,2340.9 641.8,2340.9 642.3,2340.9 642.8,2340.9 643.3,2340.9 643.8,2340.9 644.3,2340.9 644.8,2340.9 645.3,2340.9 645.8,2340.9 646.3,2340.9 646.8,2340.9 647.3,2340.9 647.8,2340.9 648.3,2340.9 648.8,2340.9 649.3,2340.9 649.8,2340.9 650.3,2340.9 650.8,2341.1 651.3,2341.5 651.8,2342.0 652.3,2342.8 652.8,2343.7 653.3,2344.7 653.8,2345.9 654.3,2347.3 654.8,2350.6 655.3,2355.8 655.8,2361.9 656.3,2368.2 656.8,2373.4 657.3,2377.6 657.8,2381.8 658.3,2385.9 658.8,2389.7 659.3,2393.2 659.8,2396.1 660.3,2398.3 660.8,2399.8 661.3,2401.1 661.8,2402.3 662.3,2403.4 662.8,2404.4 663.3,2405.2 663.8,2405.9 664.3,2406.5 664.8,2406.9 665.3,2407.2 665.8,2407.4 666.3,2407.7 666.8,2407.9 667.3,2408.1 667.8,2408.3 668.3,2408.4 668.8,2408.6 669.3,2408.7 669.8,2408.9 670.3,2409.0 670.8,2409.1 671.3,2409.2 671.8,2409.2 672.3,2409.3 672.8,2409.3 673.3,2409.3 673.8,2409.3 674.3,2409.3 674.8,2409.3 675.3,2409.3 675.8,2409.2 676.3,2409.2 676.8,2409.2 677.3,2409.2 677.8,2409.1 678.3,2409.1 678.8,2409.1 679.3,2409.0 679.8,2409.0 680.3,2408.9 680.8,2408.9 681.3,2408.8 681.8,2408.8 682.3,2408.7 682.8,2408.6 683.3,2408.6 683.8,2408.5 684.3,2408.5 684.8,2408.4 685.3,2408.3 685.8,2408.2 686.3,2408.2 686.8,2408.1 687.3,2408.0 687.8,2408.0 688.3,2407.9 688.8,2407.8 689.3,2407.7 689.8,2407.7 690.3,2407.6 690.8,2407.5 691.3,2407.5 691.8,2407.4 692.3,2407.3 692.8,2407.2 693.3,2407.2 693.8,2407.1 694.3,2407.0 694.8,2407.0 695.3,2406.9 695.8,2406.8 696.3,2406.7 696.8,2406.7 697.3,2406.6 697.8,2406.5 698.3,2406.4 698.8,2406.4 699.3,2406.3 699.8,2406.2 700.3,2406.1 700.8,2406.1 701.3,2406.0 701.8,2405.9 702.3,2405.8 702.8,2405.7 703.3,2405.6 703.8,2405.5 704.3,2405.4 704.8,2405.4 705.3,2405.3 705.8,2405.2 706.3,2405.1 706.8,2405.0 707.3,2404.9 707.8,2404.8 708.3,2404.7 708.8,2404.6 709.3,2404.5 709.8,2404.4 710.3,2404.3 710.8,2404.1 711.3,2404.0 711.8,2403.9 712.3,2403.8 712.8,2403.7 713.3,2403.6 713.8,2403.5 714.3,2403.3 714.8,2403.2 715.3,2403.1 715.8,2403.0 716.3,2402.8 716.8,2402.7 717.3,2402.6 717.8,2402.4 718.3,2402.3 718.8,2402.2 719.3,2402.0 719.8,2401.9 720.3,2401.7 720.8,2401.6 721.3,2401.4 721.8,2401.2 722.3,2401.1 722.8,2400.9 723.3,2400.7 723.8,2400.6 724.3,2400.4 724.8,2400.2 725.3,2400.0 725.8,2399.8 726.3,2399.7 726.8,2399.5 727.3,2399.3 727.8,2399.1 728.3,2398.9 728.8,2398.7 729.3,2398.5 729.8,2398.3 730.3,2398.1 730.8,2397.9 731.3,2397.6 731.8,2397.4 732.3,2397.2 732.8,2397.0 733.3,2396.8 733.8,2396.6 734.3,2396.3 734.8,2396.1 735.3,2395.9 735.8,2395.6 736.3,2395.4 736.8,2395.2 737.3,2394.9 737.8,2394.7 738.3,2394.5 738.8,2394.2 739.3,2394.0 739.8,2393.7 740.3,2393.4 740.8,2393.2 741.3,2392.9 741.8,2392.6 742.3,2392.3 742.8,2392.0 743.3,2391.7 743.8,2391.4 744.3,2391.1 744.8,2390.8 745.3,2390.5 745.8,2390.2 746.3,2389.9 746.8,2389.6 747.3,2389.2 747.8,2388.9 748.3,2388.6 748.8,2388.2 749.3,2387.9 749.8,2387.5 750.3,2387.2 750.8,2386.8 751.3,2386.5 751.8,2386.1 752.3,2385.8 752.8,2385.4 753.3,2385.0 753.8,2384.7 754.3,2384.3 754.8,2383.9 755.3,2383.6 755.8,2383.2 756.3,2382.8 756.8,2382.4 757.3,2382.0 757.8,2381.6 758.3,2381.2 758.8,2380.8 759.3,2380.4 759.8,2380.0 760.3,2379.5 760.8,2379.1 761.3,2378.6 761.8,2378.1 762.3,2377.7 762.8,2377.2 763.3,2376.7 763.8,2376.3 764.3,2375.8 764.8,2375.3 765.3,2374.8 765.8,2374.3 766.3,2373.8 766.8,2373.3 767.3,2372.9 767.8,2372.4 768.3,2371.9 768.8,2371.4 769.3,2370.9 769.8,2370.5 770.3,2370.0 770.8,2369.5 771.3,2369.1 771.8,2368.6 772.3,2368.2 772.8,2367.8 773.3,2367.3 773.8,2366.9 774.3,2366.5 774.8,2366.0 775.3,2365.6 775.8,2365.2 776.3,2364.7 776.8,2364.3 777.3,2363.9 777.8,2363.5 778.3,2363.0 778.8,2362.6 779.3,2362.2 779.8,2361.8 780.3,2361.4 780.8,2360.9 781.3,2360.5 781.8,2360.1 782.3,2359.7 782.8,2359.4 783.3,2359.0 783.8,2358.6 784.3,2358.2 784.8,2357.9 785.3,2357.5 785.8,2357.2 786.3,2356.8 786.8,2356.5 787.3,2356.2 787.8,2355.9 788.3,2355.5 788.8,2355.2 789.3,2354.9 789.8,2354.6 790.3,2354.3 790.8,2354.0 791.3,2353.7 791.8,2353.4 792.3,2353.1 792.8,2352.8 793.3,2352.5 793.8,2352.2 794.3,2351.9 794.8,2351.7 795.3,2351.4 795.8,2351.1 796.3,2350.9 796.8,2350.6 797.3,2350.4 797.8,2350.2 798.3,2350.0 798.8,2349.7 799.3,2349.5 799.8,2349.4 800.3,2349.2 800.8,2349.0 801.3,2348.8 801.8,2348.7 802.3,2348.5 802.8,2348.3 803.3,2348.2 803.8,2348.0 804.3,2347.8 804.8,2347.7 805.3,2347.5 805.8,2347.4 806.3,2347.2 806.8,2347.1 807.3,2346.9 807.8,2346.8 808.3,2346.7 808.8,2346.6 809.3,2346.4 809.8,2346.3 810.3,2346.2 810.8,2346.1 811.3,2346.0 811.8,2345.9 812.3,2345.8 812.8,2345.8 813.3,2345.7 813.8,2345.6 814.3,2345.6 814.8,2345.5 815.3,2345.5 815.8,2345.4 816.3,2345.4 816.8,2345.3 817.3,2345.3 817.8,2345.2 818.3,2345.2 818.8,2345.1 819.3,2345.1 819.8,2345.0 820.3,2345.0 820.8,2345.0 821.3,2344.9 821.8,2344.9 822.3,2344.9 822.8,2344.8 823.3,2344.8 823.8,2344.8 824.3,2344.8 824.8,2344.8 825.3,2344.8 825.8,2344.8 826.3,2344.8 826.8,2344.8 827.3,2344.8 827.8,2344.8 828.3,2344.8 828.8,2344.8 829.3,2344.8 829.8,2344.8 830.3,2344.8 830.8,2344.8 831.3,2344.8 831.8,2344.8 832.3,2344.8 832.8,2344.8 833.3,2344.8 833.8,2344.9 834.3,2344.9 834.8,2344.9 835.3,2344.9 835.8,2344.9 836.3,2344.9 836.8,2344.9 837.3,2344.9 837.8,2344.9 838.3,2344.9 838.8,2344.9 839.3,2345.0 839.8,2345.0 840.3,2345.0 840.8,2345.0 841.3,2345.0 841.8,2345.0 842.3,2345.0 842.8,2345.1 843.3,2345.1 843.8,2345.1 844.3,2345.1 844.8,2345.1 845.3,2345.1 845.8,2345.2 846.3,2345.2 846.8,2345.2 847.3,2345.2 847.8,2345.3 848.3,2345.3 848.8,2345.3 849.3,2345.3 849.8,2345.4 850.3,2345.4 850.8,2345.4 851.3,2345.5 851.8,2345.5 852.3,2345.5 852.8,2345.6 853.3,2345.6 853.8,2345.6 854.3,2345.7 854.8,2345.7 855.3,2345.7 855.8,2345.8 856.3,2345.8 856.8,2345.9 857.3,2345.9 857.8,2345.9 858.3,2346.0 858.8,2346.0 859.3,2346.1 859.8,2346.1 860.3,2346.2 860.8,2346.2 861.3,2346.3 861.8,2346.3 862.3,2346.4 862.8,2346.4 863.3,2346.5 863.8,2346.5 864.3,2346.6 864.8,2346.7 865.3,2346.7 865.8,2346.8 866.3,2346.8 866.8,2346.9 867.3,2347.0 867.8,2347.1 868.3,2347.3 868.8,2347.7 869.3,2348.2 869.8,2348.9 870.3,2349.7 870.8,2350.6 871.3,2351.7 871.8,2353.1 872.3,2356.8 872.8,2362.3 873.3,2368.7 873.8,2374.8 874.3,2379.8 874.8,2383.9 875.3,2388.0 875.8,2391.9 876.3,2395.5 876.8,2398.4 877.3,2400.7 877.8,2402.1 878.3,2403.2 878.8,2404.2 879.3,2405.2 879.8,2406.0 880.3,2406.7 880.8,2407.3 881.3,2407.8 881.8,2408.2 882.3,2408.4 882.8,2408.6 883.3,2408.7 883.8,2408.8 884.3,2408.9 884.8,2409.0 885.3,2409.1 885.8,2409.2 886.3,2409.3 886.8,2409.3 887.3,2409.4 887.8,2409.5 888.3,2409.5 888.8,2409.6 889.3,2409.6 889.8,2409.7 890.3,2409.7 890.8,2409.7 891.3,2409.8 891.8,2409.8 892.3,2409.8 892.8,2409.8 893.3,2409.8 893.8,2409.8 894.3,2409.8 894.8,2409.8 895.3,2409.8 895.8,2409.8 896.3,2409.7 896.8,2409.7 897.3,2409.7 897.8,2409.7 898.3,2409.6 898.8,2409.6 899.3,2409.6 899.8,2409.5 900.3,2409.5 900.8,2409.5 901.3,2409.4 901.8,2409.4 902.3,2409.3 902.8,2409.3 903.3,2409.2 903.8,2409.2 904.3,2409.1 904.8,2409.1 905.3,2409.0 905.8,2408.9 906.3,2408.9 906.8,2408.8 907.3,2408.8 907.8,2408.7 908.3,2408.6 908.8,2408.6 909.3,2408.5 909.8,2408.4 910.3,2408.4 910.8,2408.3 911.3,2408.2 911.8,2408.2 912.3,2408.1 912.8,2408.0 913.3,2408.0 913.8,2407.9 914.3,2407.8 914.8,2407.8 915.3,2407.7 915.8,2407.6 916.3,2407.6 916.8,2407.5 917.3,2407.4 917.8,2407.3 918.3,2407.3 918.8,2407.2 919.3,2407.1 919.8,2407.0 920.3,2406.9 920.8,2406.8 921.3,2406.8 921.8,2406.7 922.3,2406.6 922.8,2406.5 923.3,2406.4 923.8,2406.3 924.3,2406.2 924.8,2406.1 925.3,2406.0 925.8,2405.9 926.3,2405.8 926.8,2405.7 927.3,2405.5 927.8,2405.4 928.3,2405.3 928.8,2405.2 929.3,2405.1 929.8,2405.0 930.3,2404.8 930.8,2404.7 931.3,2404.6 931.8,2404.5 932.3,2404.3 932.8,2404.2 933.3,2404.1 933.8,2403.9 934.3,2403.8 934.8,2403.7 935.3,2403.5 935.8,2403.4 936.3,2403.3 936.8,2403.1 937.3,2403.0 937.8,2402.8 938.3,2402.7 938.8,2402.5 939.3,2402.4 939.8,2402.2 940.3,2402.0 940.8,2401.8 941.3,2401.7 941.8,2401.5 942.3,2401.3 942.8,2401.1 943.3,2400.9 943.8,2400.7 944.3,2400.5 944.8,2400.3 945.3,2400.1 945.8,2399.9 946.3,2399.7 946.8,2399.5 947.3,2399.2 947.8,2399.0 948.3,2398.8 948.8,2398.6 949.3,2398.3 949.8,2398.1 950.3,2397.9 950.8,2397.6 951.3,2397.4 951.8,2397.1 952.3,2396.9 952.8,2396.6 953.3,2396.4 953.8,2396.1 954.3,2395.9 954.8,2395.6 955.3,2395.3 955.8,2395.1 956.3,2394.8 956.8,2394.5 957.3,2394.3 957.8,2394.0 958.3,2393.7 958.8,2393.4 959.3,2393.1 959.8,2392.8 960.3,2392.5 960.8,2392.1 961.3,2391.8 961.8,2391.5 962.3,2391.1 962.8,2390.8 963.3,2390.5 963.8,2390.1 964.3,2389.8 964.8,2389.4 965.3,2389.0 965.8,2388.7 966.3,2388.3 966.8,2387.9 967.3,2387.6 967.8,2387.2 968.3,2386.8 968.8,2386.4 969.3,2386.0 969.8,2385.6 970.3,2385.2 970.8,2384.9 971.3,2384.5 971.8,2384.1 972.3,2383.7 972.8,2383.3 973.3,2382.9 973.8,2382.5 974.3,2382.1 974.8,2381.7 975.3,2381.3 975.8,2380.9 976.3,2380.4 976.8,2380.0 977.3,2379.6 977.8,2379.2 978.3,2378.7 978.8,2378.3 979.3,2377.8 979.8,2377.4 980.3,2376.9 980.8,2376.5 981.3,2376.0 981.8,2375.5 982.3,2375.1 982.8,2374.6 983.3,2374.1 983.8,2373.6 984.3,2373.2 984.8,2372.7 985.3,2372.2 985.8,2371.7 986.3,2371.3 986.8,2370.8 987.3,2370.3 987.8,2369.8 988.3,2369.4 988.8,2368.9 989.3,2368.4 989.8,2368.0 990.3,2367.5 990.8,2367.1 991.3,2366.6 991.8,2366.2 992.3,2365.8 992.8,2365.3 993.3,2364.9 993.8,2364.4 994.3,2364.0 994.8,2363.5 995.3,2363.1 995.8,2362.7 996.3,2362.2 996.8,2361.8 997.3,2361.3 997.8,2360.9 998.3,2360.4 998.8,2360.0 999.3,2359.6 999.8,2359.1 1000.3,2358.7 1000.8,2358.3 1001.3,2357.9 1001.8,2357.4 1002.3,2357.0 1002.8,2356.6 1003.3,2356.2 1003.8,2355.8 1004.3,2355.4 1004.8,2355.0 1005.3,2354.6 1005.8,2354.2 1006.3,2353.8 1006.8,2353.5 1007.3,2353.1 1007.8,2352.8 1008.3,2352.4 1008.8,2352.1 1009.3,2351.7 1009.8,2351.3 1010.3,2351.0 1010.8,2350.6 1011.3,2350.3 1011.8,2349.9 1012.3,2349.6 1012.8,2349.2 1013.3,2348.9 1013.8,2348.5 1014.3,2348.2 1014.8,2347.9 1015.3,2347.5 1015.8,2347.2 1016.3,2346.9 1016.8,2346.6 1017.3,2346.3 1017.8,2346.0 1018.3,2345.8 1018.8,2345.5 1019.3,2345.3 1019.8,2345.0 1020.3,2344.8 1020.8,2344.6 1021.3,2344.4 1021.8,2344.3 1022.3,2344.1 1022.8,2344.0 1023.3,2343.8 1023.8,2343.7 1024.3,2343.5 1024.8,2343.4 1025.3,2343.2 1025.8,2343.1 1026.3,2342.9 1026.8,2342.8 1027.3,2342.6 1027.8,2342.5 1028.3,2342.4 1028.8,2342.3 1029.3,2342.1 1029.8,2342.0 1030.3,2341.9 1030.8,2341.8 1031.3,2341.7 1031.8,2341.6 1032.3,2341.5 1032.8,2341.4 1033.3,2341.3 1033.8,2341.2 1034.3,2341.2 1034.8,2341.1 1035.3,2341.1 1035.8,2341.0 1036.3,2341.0 1036.8,2340.9 1037.3,2340.9 1037.8,2340.9 1038.3,2340.9 1038.8,2340.9 1039.3,2340.9 1039.8,2340.9 1040.3,2340.9 1040.8,2340.9 1041.3,2340.9 1041.8,2341.0 1042.3,2341.0 1042.8,2341.0 1043.3,2341.0 1043.8,2341.0 1044.3,2341.0 1044.8,2341.1 1045.3,2341.1 1045.8,2341.1 1046.3,2341.2 1046.8,2341.2 1047.3,2341.2 1047.8,2341.2 1048.3,2341.3 1048.8,2341.3 1049.3,2341.3 1049.8,2341.4 1050.3,2341.4 1050.8,2341.5 1051.3,2341.5 1051.8,2341.5 1052.3,2341.6 1052.8,2341.6 1053.3,2341.7 1053.8,2341.7 1054.3,2341.7 1054.8,2341.8 1055.3,2341.8 1055.8,2341.9 1056.3,2341.9 1056.8,2341.9 1057.3,2342.0 1057.8,2342.0 1058.3,2342.1 1058.8,2342.1 1059.3,2342.2 1059.8,2342.2 1060.3,2342.3 1060.8,2342.3 1061.3,2342.4 1061.8,2342.5 1062.3,2342.5 1062.8,2342.6 1063.3,2342.6 1063.8,2342.7 1064.3,2342.8 1064.8,2342.9 1065.3,2342.9 1065.8,2343.0 1066.3,2343.1 1066.8,2343.2 1067.3,2343.3 1067.8,2343.3 1068.3,2343.4 1068.8,2343.5 1069.3,2343.6 1069.8,2343.7 1070.3,2343.8 1070.8,2343.9 1071.3,2343.9 1071.8,2344.0 1072.3,2344.1 1072.8,2344.2 1073.3,2344.3 1073.8,2344.4 1074.3,2344.5 1074.8,2344.6 1075.3,2344.7 1075.8,2344.8 1076.3,2344.9 1076.8,2345.0 1077.3,2345.1 1077.8,2345.2 1078.3,2345.2 1078.8,2345.3 1079.3,2345.4 1079.8,2345.5 1080.3,2345.6 1080.8,2345.7 1081.3,2345.8 1081.8,2345.9 1082.3,2346.0 1082.8,2346.1 1083.3,2346.1 1083.8,2346.2 1084.3,2346.3 1084.8,2346.4 1085.3,2346.5 1085.8,2346.5 1086.3,2346.6 1086.8,2346.7 1087.3,2346.8 1087.8,2346.9 1088.3,2346.9 1088.8,2347.0 1089.3,2347.1 1089.8,2347.2 1090.3,2347.3 1090.8,2347.3 1091.3,2347.4 1091.8,2347.5 1092.3,2347.6 1092.8,2347.7 1093.3,2347.8 1093.8,2347.8 1094.3,2347.9 1094.8,2348.0 1095.3,2348.1 1095.8,2348.2 1096.3,2348.2 1096.8,2348.3 1097.3,2348.4 1097.8,2348.5 1098.3,2348.6 1098.8,2348.6 1099.3,2348.7 1099.8,2348.8 1100.3,2348.9 1100.8,2349.0 1101.3,2349.0 1101.8,2349.1 1102.3,2349.2 1102.8,2349.3 1103.3,2349.4 1103.8,2349.4 1104.3,2349.5 1104.8,2349.6 1105.3,2349.7 1105.4,2349.7" fill="none" stroke="#6b7fe0" stroke-width="3.0" stroke-linejoin="round"/>
<text x="1081.0" y="1923.0" font-size="33.5" text-anchor="end" font-weight="bold" fill="#222">Benzene</text>
<text x="1089.0" y="2105.0" font-size="34" text-anchor="end" font-weight="bold" fill="#222">Methanol</text>
<text x="1078.0" y="2282.0" font-size="34" text-anchor="end" font-weight="bold" fill="#222">Ethanol</text>
<text x="1082.0" y="2454.0" font-size="34" text-anchor="end" font-weight="bold" fill="#222">Formaldehyde</text>
<text x="486.0" y="2454.0" font-size="35" text-anchor="middle" font-weight="bold" fill="#1a1a1a">Exposing time: 30 s</text>
<line x1="166.8" y1="1777.0" x2="166.8" y2="2489.0" stroke="#505050" stroke-width="3.5"/>
<line x1="153.8" y1="1778.5" x2="1106.5" y2="1778.5" stroke="#505050" stroke-width="4"/>
<line x1="153.8" y1="2475.0" x2="1106.5" y2="2475.0" stroke="#505050" stroke-width="4"/>
<line x1="1105.5" y1="1778.5" x2="1105.5" y2="2489.0" stroke="#505050" stroke-width="2.5"/>
<line x1="153.8" y1="1952.5" x2="1105.5" y2="1952.5" stroke="#505050" stroke-width="3.5"/>
<line x1="153.8" y1="2127.3" x2="1105.5" y2="2127.3" stroke="#505050" stroke-width="3.5"/>
<line x1="153.8" y1="2300.0" x2="1105.5" y2="2300.0" stroke="#505050" stroke-width="3.5"/>
<line x1="323.2" y1="1952.5" x2="323.2" y2="1959.5" stroke="#505050" stroke-width="2.6"/>
<line x1="636.2" y1="1952.5" x2="636.2" y2="1959.5" stroke="#505050" stroke-width="2.6"/>
<line x1="949.0" y1="1952.5" x2="949.0" y2="1959.5" stroke="#505050" stroke-width="2.6"/>
<line x1="479.7" y1="1952.5" x2="479.7" y2="1965.5" stroke="#505050" stroke-width="3"/>
<line x1="792.6" y1="1952.5" x2="792.6" y2="1965.5" stroke="#505050" stroke-width="3"/>
<line x1="323.2" y1="2127.3" x2="323.2" y2="2134.3" stroke="#505050" stroke-width="2.6"/>
<line x1="636.2" y1="2127.3" x2="636.2" y2="2134.3" stroke="#505050" stroke-width="2.6"/>
<line x1="949.0" y1="2127.3" x2="949.0" y2="2134.3" stroke="#505050" stroke-width="2.6"/>
<line x1="479.7" y1="2127.3" x2="479.7" y2="2140.3" stroke="#505050" stroke-width="3"/>
<line x1="792.6" y1="2127.3" x2="792.6" y2="2140.3" stroke="#505050" stroke-width="3"/>
<line x1="323.2" y1="2300.0" x2="323.2" y2="2307.0" stroke="#505050" stroke-width="2.6"/>
<line x1="636.2" y1="2300.0" x2="636.2" y2="2307.0" stroke="#505050" stroke-width="2.6"/>
<line x1="949.0" y1="2300.0" x2="949.0" y2="2307.0" stroke="#505050" stroke-width="2.6"/>
<line x1="479.7" y1="2300.0" x2="479.7" y2="2313.0" stroke="#505050" stroke-width="3"/>
<line x1="792.6" y1="2300.0" x2="792.6" y2="2313.0" stroke="#505050" stroke-width="3"/>
<line x1="323.2" y1="2475.0" x2="323.2" y2="2482.0" stroke="#505050" stroke-width="2.6"/>
<line x1="636.2" y1="2475.0" x2="636.2" y2="2482.0" stroke="#505050" stroke-width="2.6"/>
<line x1="949.0" y1="2475.0" x2="949.0" y2="2482.0" stroke="#505050" stroke-width="2.6"/>
<line x1="479.7" y1="2475.0" x2="479.7" y2="2488.0" stroke="#505050" stroke-width="3"/>
<line x1="792.6" y1="2475.0" x2="792.6" y2="2488.0" stroke="#505050" stroke-width="3"/>
<text x="166.8" y="2522.0" font-size="30" text-anchor="middle" font-weight="bold" fill="#222">200</text>
<text x="479.7" y="2522.0" font-size="30" text-anchor="middle" font-weight="bold" fill="#222">400</text>
<text x="792.6" y="2522.0" font-size="30" text-anchor="middle" font-weight="bold" fill="#222">600</text>
<text x="1105.5" y="2522.0" font-size="30" text-anchor="middle" font-weight="bold" fill="#222">800</text>
<line x1="153.8" y1="1778.5" x2="166.8" y2="1778.5" stroke="#505050" stroke-width="3"/>
<text x="146.8" y="1788.5" font-size="30" text-anchor="end" font-weight="bold" fill="#222">8.0</text>
<line x1="153.8" y1="1865.5" x2="166.8" y2="1865.5" stroke="#505050" stroke-width="3"/>
<text x="146.8" y="1875.5" font-size="30" text-anchor="end" font-weight="bold" fill="#222">7.5</text>
<line x1="153.8" y1="1952.5" x2="166.8" y2="1952.5" stroke="#505050" stroke-width="3"/>
<text x="146.8" y="1962.5" font-size="30" text-anchor="end" font-weight="bold" fill="#222">7.0</text>
<line x1="158.8" y1="1822.0" x2="166.8" y2="1822.0" stroke="#505050" stroke-width="2.6"/>
<line x1="158.8" y1="1909.0" x2="166.8" y2="1909.0" stroke="#505050" stroke-width="2.6"/>
<line x1="153.8" y1="2010.8" x2="166.8" y2="2010.8" stroke="#505050" stroke-width="3"/>
<text x="146.8" y="2020.8" font-size="30" text-anchor="end" font-weight="bold" fill="#222">7.5</text>
<line x1="153.8" y1="2069.0" x2="166.8" y2="2069.0" stroke="#505050" stroke-width="3"/>
<text x="146.8" y="2079.0" font-size="30" text-anchor="end" font-weight="bold" fill="#222">7.0</text>
<line x1="153.8" y1="2127.3" x2="166.8" y2="2127.3" stroke="#505050" stroke-width="3"/>
<text x="146.8" y="2137.3" font-size="30" text-anchor="end" font-weight="bold" fill="#222">6.5</text>
<line x1="158.8" y1="1981.6" x2="166.8" y2="1981.6" stroke="#505050" stroke-width="2.6"/>
<line x1="158.8" y1="2039.9" x2="166.8" y2="2039.9" stroke="#505050" stroke-width="2.6"/>
<line x1="158.8" y1="2098.2" x2="166.8" y2="2098.2" stroke="#505050" stroke-width="2.6"/>
<line x1="153.8" y1="2160.2" x2="166.8" y2="2160.2" stroke="#505050" stroke-width="3"/>
<text x="146.8" y="2170.2" font-size="30" text-anchor="end" font-weight="bold" fill="#222">7.5</text>
<line x1="153.8" y1="2195.1" x2="166.8" y2="2195.1" stroke="#505050" stroke-width="3"/>
<text x="146.8" y="2205.1" font-size="30" text-anchor="end" font-weight="bold" fill="#222">7.0</text>
<line x1="153.8" y1="2230.1" x2="166.8" y2="2230.1" stroke="#505050" stroke-width="3"/>
<text x="146.8" y="2240.1" font-size="30" text-anchor="end" font-weight="bold" fill="#222">6.5</text>
<line x1="153.8" y1="2265.0" x2="166.8" y2="2265.0" stroke="#505050" stroke-width="3"/>
<text x="146.8" y="2275.0" font-size="30" text-anchor="end" font-weight="bold" fill="#222">6.0</text>
<line x1="153.8" y1="2300.0" x2="166.8" y2="2300.0" stroke="#505050" stroke-width="3"/>
<text x="146.8" y="2310.0" font-size="30" text-anchor="end" font-weight="bold" fill="#222">5.5</text>
<line x1="158.8" y1="2142.7" x2="166.8" y2="2142.7" stroke="#505050" stroke-width="2.6"/>
<line x1="158.8" y1="2177.6" x2="166.8" y2="2177.6" stroke="#505050" stroke-width="2.6"/>
<line x1="158.8" y1="2212.6" x2="166.8" y2="2212.6" stroke="#505050" stroke-width="2.6"/>
<line x1="158.8" y1="2247.6" x2="166.8" y2="2247.6" stroke="#505050" stroke-width="2.6"/>
<line x1="158.8" y1="2282.5" x2="166.8" y2="2282.5" stroke="#505050" stroke-width="2.6"/>
<line x1="153.8" y1="2387.5" x2="166.8" y2="2387.5" stroke="#505050" stroke-width="3"/>
<text x="146.8" y="2397.5" font-size="30" text-anchor="end" font-weight="bold" fill="#222">7.5</text>
<line x1="153.8" y1="2475.0" x2="166.8" y2="2475.0" stroke="#505050" stroke-width="3"/>
<text x="146.8" y="2485.0" font-size="30" text-anchor="end" font-weight="bold" fill="#222">7.0</text>
<line x1="158.8" y1="2343.8" x2="166.8" y2="2343.8" stroke="#505050" stroke-width="2.6"/>
<line x1="158.8" y1="2431.2" x2="166.8" y2="2431.2" stroke="#505050" stroke-width="2.6"/>
<text x="648.0" y="2561.0" font-size="37.5" text-anchor="middle" font-weight="bold" fill="#222">Time (s)</text>
<text x="91.0" y="2132.0" font-size="42" text-anchor="middle" font-weight="bold" fill="#222" transform="rotate(-90 91.0 2132.0)">Resistance (MΩ)</text>
<text x="31.0" y="1725.0" font-size="72" text-anchor="start" font-weight="bold" fill="#222">(e)</text>
<rect x="1329.1" y="1774.7" width="38.0" height="694.8" fill="#c9c9c9"/>
<rect x="1414.7" y="1774.7" width="38.0" height="694.8" fill="#c9c9c9"/>
<rect x="1500.3" y="1774.7" width="38.0" height="694.8" fill="#c9c9c9"/>
<rect x="1585.9" y="1774.7" width="38.0" height="694.8" fill="#c9c9c9"/>
<rect x="1671.5" y="1774.7" width="38.0" height="694.8" fill="#c9c9c9"/>
<rect x="1757.0" y="1774.7" width="38.0" height="694.8" fill="#c9c9c9"/>
<rect x="1842.6" y="1774.7" width="38.0" height="694.8" fill="#c9c9c9"/>
<rect x="1928.2" y="1774.7" width="38.0" height="694.8" fill="#c9c9c9"/>
<rect x="2013.8" y="1774.7" width="38.0" height="694.8" fill="#c9c9c9"/>
<rect x="2099.4" y="1774.7" width="38.0" height="694.8" fill="#c9c9c9"/>
<line x1="1265.5" y1="2423.2" x2="2202.0" y2="2423.2" stroke="#cfcfcf" stroke-width="2.5" stroke-dasharray="5 4" opacity="0.7"/>
<line x1="1265.5" y1="2376.9" x2="2202.0" y2="2376.9" stroke="#e8e8e8" stroke-width="2.5" opacity="0.6"/>
<line x1="1265.5" y1="2330.5" x2="2202.0" y2="2330.5" stroke="#cfcfcf" stroke-width="2.5" stroke-dasharray="5 4" opacity="0.7"/>
<line x1="1265.5" y1="2284.2" x2="2202.0" y2="2284.2" stroke="#e8e8e8" stroke-width="2.5" opacity="0.6"/>
<line x1="1265.5" y1="2237.9" x2="2202.0" y2="2237.9" stroke="#cfcfcf" stroke-width="2.5" stroke-dasharray="5 4" opacity="0.7"/>
<line x1="1265.5" y1="2191.6" x2="2202.0" y2="2191.6" stroke="#e8e8e8" stroke-width="2.5" opacity="0.6"/>
<line x1="1265.5" y1="2145.3" x2="2202.0" y2="2145.3" stroke="#cfcfcf" stroke-width="2.5" stroke-dasharray="5 4" opacity="0.7"/>
<line x1="1265.5" y1="2098.9" x2="2202.0" y2="2098.9" stroke="#e8e8e8" stroke-width="2.5" opacity="0.6"/>
<line x1="1265.5" y1="2052.6" x2="2202.0" y2="2052.6" stroke="#cfcfcf" stroke-width="2.5" stroke-dasharray="5 4" opacity="0.7"/>
<line x1="1265.5" y1="2006.3" x2="2202.0" y2="2006.3" stroke="#e8e8e8" stroke-width="2.5" opacity="0.6"/>
<line x1="1265.5" y1="1960.0" x2="2202.0" y2="1960.0" stroke="#cfcfcf" stroke-width="2.5" stroke-dasharray="5 4" opacity="0.7"/>
<line x1="1265.5" y1="1913.7" x2="2202.0" y2="1913.7" stroke="#e8e8e8" stroke-width="2.5" opacity="0.6"/>
<line x1="1265.5" y1="1867.3" x2="2202.0" y2="1867.3" stroke="#cfcfcf" stroke-width="2.5" stroke-dasharray="5 4" opacity="0.7"/>
<line x1="1265.5" y1="1821.0" x2="2202.0" y2="1821.0" stroke="#e8e8e8" stroke-width="2.5" opacity="0.6"/>
<line x1="1365.1" y1="2123.6" x2="1416.7" y2="2127.7" stroke="#6a6a6a" stroke-width="2.6"/>
<line x1="1450.7" y1="2127.7" x2="1502.3" y2="2123.6" stroke="#6a6a6a" stroke-width="2.6"/>
<line x1="1536.3" y1="2121.4" x2="1587.9" y2="2118.9" stroke="#6a6a6a" stroke-width="2.6"/>
<line x1="1621.9" y1="2118.9" x2="1673.5" y2="2121.7" stroke="#6a6a6a" stroke-width="2.6"/>
<line x1="1707.5" y1="2123.2" x2="1759.0" y2="2124.9" stroke="#6a6a6a" stroke-width="2.6"/>
<line x1="1793.0" y1="2124.9" x2="1844.6" y2="2122.9" stroke="#6a6a6a" stroke-width="2.6"/>
<line x1="1878.6" y1="2122.2" x2="1930.2" y2="2121.7" stroke="#6a6a6a" stroke-width="2.6"/>
<line x1="1964.2" y1="2122.5" x2="2015.8" y2="2125.3" stroke="#6a6a6a" stroke-width="2.6"/>
<line x1="2049.8" y1="2125.4" x2="2101.4" y2="2123.1" stroke="#6a6a6a" stroke-width="2.6"/>
<rect x="1338.1" y="2112.3" width="20.0" height="20.0" fill="#000000"/>
<rect x="1423.7" y="2119.0" width="20.0" height="20.0" fill="#f00000"/>
<rect x="1509.3" y="2112.3" width="20.0" height="20.0" fill="#00c020"/>
<rect x="1594.9" y="2108.0" width="20.0" height="20.0" fill="#0030d8"/>
<rect x="1680.5" y="2112.6" width="20.0" height="20.0" fill="#10b8e0"/>
<rect x="1766.0" y="2115.5" width="20.0" height="20.0" fill="#f000c8"/>
<rect x="1851.6" y="2112.3" width="20.0" height="20.0" fill="#ffee00"/>
<rect x="1937.2" y="2111.6" width="20.0" height="20.0" fill="#8a7a00"/>
<rect x="2022.8" y="2116.2" width="20.0" height="20.0" fill="#00108a"/>
<rect x="2108.4" y="2112.3" width="20.0" height="20.0" fill="#a0007a"/>
<line x1="1262.5" y1="1773.2" x2="1262.5" y2="2483.5" stroke="#505050" stroke-width="3.5"/>
<line x1="1249.5" y1="1774.7" x2="2205.0" y2="1774.7" stroke="#505050" stroke-width="4"/>
<line x1="1249.5" y1="2469.5" x2="2205.0" y2="2469.5" stroke="#505050" stroke-width="4.5"/>
<line x1="2204.0" y1="1774.7" x2="2204.0" y2="2483.5" stroke="#505050" stroke-width="2.5"/>
<line x1="2208.0" y1="1776.7" x2="2208.0" y2="2469.5" stroke="#c4c4c4" stroke-width="3"/>
<line x1="1249.5" y1="2423.2" x2="1262.5" y2="2423.2" stroke="#505050" stroke-width="3.2"/>
<text x="1236.5" y="2433.2" font-size="30" text-anchor="end" font-weight="bold" fill="#222">16</text>
<line x1="1249.5" y1="2330.5" x2="1262.5" y2="2330.5" stroke="#505050" stroke-width="3.2"/>
<text x="1236.5" y="2340.5" font-size="30" text-anchor="end" font-weight="bold" fill="#222">18</text>
<line x1="1249.5" y1="2237.9" x2="1262.5" y2="2237.9" stroke="#505050" stroke-width="3.2"/>
<text x="1236.5" y="2247.9" font-size="30" text-anchor="end" font-weight="bold" fill="#222">20</text>
<line x1="1249.5" y1="2145.3" x2="1262.5" y2="2145.3" stroke="#505050" stroke-width="3.2"/>
<text x="1236.5" y="2155.3" font-size="30" text-anchor="end" font-weight="bold" fill="#222">22</text>
<line x1="1249.5" y1="2052.6" x2="1262.5" y2="2052.6" stroke="#505050" stroke-width="3.2"/>
<text x="1236.5" y="2062.6" font-size="30" text-anchor="end" font-weight="bold" fill="#222">24</text>
<line x1="1249.5" y1="1960.0" x2="1262.5" y2="1960.0" stroke="#505050" stroke-width="3.2"/>
<text x="1236.5" y="1970.0" font-size="30" text-anchor="end" font-weight="bold" fill="#222">26</text>
<line x1="1249.5" y1="1867.3" x2="1262.5" y2="1867.3" stroke="#505050" stroke-width="3.2"/>
<text x="1236.5" y="1877.3" font-size="30" text-anchor="end" font-weight="bold" fill="#222">28</text>
<text x="1236.5" y="1784.7" font-size="30" text-anchor="end" font-weight="bold" fill="#222">30</text>
<line x1="1254.5" y1="2376.9" x2="1262.5" y2="2376.9" stroke="#505050" stroke-width="3"/>
<line x1="1254.5" y1="2284.2" x2="1262.5" y2="2284.2" stroke="#505050" stroke-width="3"/>
<line x1="1254.5" y1="2191.6" x2="1262.5" y2="2191.6" stroke="#505050" stroke-width="3"/>
<line x1="1254.5" y1="2098.9" x2="1262.5" y2="2098.9" stroke="#505050" stroke-width="3"/>
<line x1="1254.5" y1="2006.3" x2="1262.5" y2="2006.3" stroke="#505050" stroke-width="3"/>
<line x1="1254.5" y1="1913.7" x2="1262.5" y2="1913.7" stroke="#505050" stroke-width="3"/>
<line x1="1254.5" y1="1821.0" x2="1262.5" y2="1821.0" stroke="#505050" stroke-width="3"/>
<text x="1262.5" y="2520.0" font-size="30" text-anchor="middle" font-weight="bold" fill="#222">0</text>
<line x1="1348.1" y1="2469.5" x2="1348.1" y2="2483.5" stroke="#505050" stroke-width="3.2"/>
<text x="1348.1" y="2520.0" font-size="30" text-anchor="middle" font-weight="bold" fill="#222">1</text>
<line x1="1433.7" y1="2469.5" x2="1433.7" y2="2483.5" stroke="#505050" stroke-width="3.2"/>
<text x="1433.7" y="2520.0" font-size="30" text-anchor="middle" font-weight="bold" fill="#222">2</text>
<line x1="1519.3" y1="2469.5" x2="1519.3" y2="2483.5" stroke="#505050" stroke-width="3.2"/>
<text x="1519.3" y="2520.0" font-size="30" text-anchor="middle" font-weight="bold" fill="#222">3</text>
<line x1="1604.9" y1="2469.5" x2="1604.9" y2="2483.5" stroke="#505050" stroke-width="3.2"/>
<text x="1604.9" y="2520.0" font-size="30" text-anchor="middle" font-weight="bold" fill="#222">4</text>
<line x1="1690.5" y1="2469.5" x2="1690.5" y2="2483.5" stroke="#505050" stroke-width="3.2"/>
<text x="1690.5" y="2520.0" font-size="30" text-anchor="middle" font-weight="bold" fill="#222">5</text>
<line x1="1776.0" y1="2469.5" x2="1776.0" y2="2483.5" stroke="#505050" stroke-width="3.2"/>
<text x="1776.0" y="2520.0" font-size="30" text-anchor="middle" font-weight="bold" fill="#222">6</text>
<line x1="1861.6" y1="2469.5" x2="1861.6" y2="2483.5" stroke="#505050" stroke-width="3.2"/>
<text x="1861.6" y="2520.0" font-size="30" text-anchor="middle" font-weight="bold" fill="#222">7</text>
<line x1="1947.2" y1="2469.5" x2="1947.2" y2="2483.5" stroke="#505050" stroke-width="3.2"/>
<text x="1947.2" y="2520.0" font-size="30" text-anchor="middle" font-weight="bold" fill="#222">8</text>
<line x1="2032.8" y1="2469.5" x2="2032.8" y2="2483.5" stroke="#505050" stroke-width="3.2"/>
<text x="2032.8" y="2520.0" font-size="30" text-anchor="middle" font-weight="bold" fill="#222">9</text>
<line x1="2118.4" y1="2469.5" x2="2118.4" y2="2483.5" stroke="#505050" stroke-width="3.2"/>
<text x="2118.4" y="2520.0" font-size="30" text-anchor="middle" font-weight="bold" fill="#222">10</text>
<text x="2204.0" y="2520.0" font-size="30" text-anchor="middle" font-weight="bold" fill="#222">11</text>
<line x1="1305.3" y1="2469.5" x2="1305.3" y2="2477.5" stroke="#505050" stroke-width="3"/>
<line x1="1390.9" y1="2469.5" x2="1390.9" y2="2477.5" stroke="#505050" stroke-width="3"/>
<line x1="1476.5" y1="2469.5" x2="1476.5" y2="2477.5" stroke="#505050" stroke-width="3"/>
<line x1="1562.1" y1="2469.5" x2="1562.1" y2="2477.5" stroke="#505050" stroke-width="3"/>
<line x1="1647.7" y1="2469.5" x2="1647.7" y2="2477.5" stroke="#505050" stroke-width="3"/>
<line x1="1733.2" y1="2469.5" x2="1733.2" y2="2477.5" stroke="#505050" stroke-width="3"/>
<line x1="1818.8" y1="2469.5" x2="1818.8" y2="2477.5" stroke="#505050" stroke-width="3"/>
<line x1="1904.4" y1="2469.5" x2="1904.4" y2="2477.5" stroke="#505050" stroke-width="3"/>
<line x1="1990.0" y1="2469.5" x2="1990.0" y2="2477.5" stroke="#505050" stroke-width="3"/>
<line x1="2075.6" y1="2469.5" x2="2075.6" y2="2477.5" stroke="#505050" stroke-width="3"/>
<line x1="2161.2" y1="2469.5" x2="2161.2" y2="2477.5" stroke="#505050" stroke-width="3"/>
<text x="1733.0" y="2558.0" font-size="41" text-anchor="middle" font-weight="bold" fill="#222">Time (days)</text>
<text x="1179.0" y="2145.0" font-size="43" text-anchor="middle" font-weight="bold" fill="#222" transform="rotate(-90 1179.0 2145.0)">Response (%)</text>
<text x="1119.0" y="1745.0" font-size="72" text-anchor="start" font-weight="bold" fill="#222">(f)</text>
</g>
</svg>
</body></html>
